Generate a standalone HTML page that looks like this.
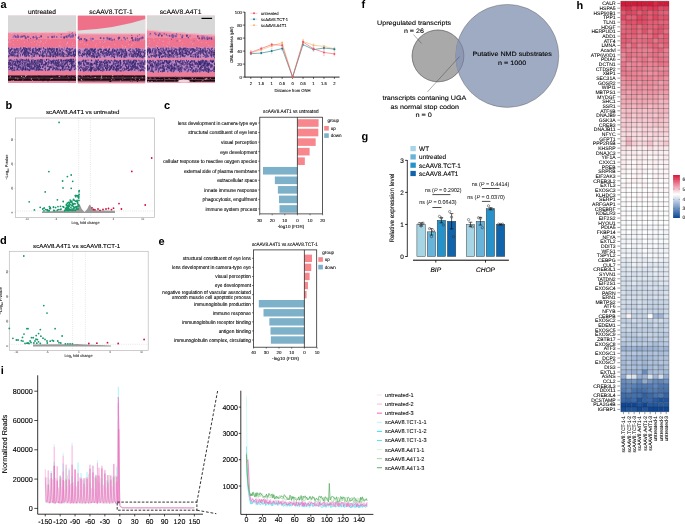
<!DOCTYPE html>
<html><head><meta charset="utf-8"><style>
html,body{margin:0;padding:0;background:#fff;}
svg{display:block;font-family:"Liberation Sans", sans-serif;text-rendering:geometricPrecision;}
</style></head><body><div style="will-change:transform;width:685px;height:524px">
<svg width="685" height="524" viewBox="0 0 685 524">
<rect width="685" height="524" fill="#fff"/>
<text x="0.6" y="7.9" font-size="11" font-weight="bold">a</text>
<text x="42" y="13.8" font-size="6.6" text-anchor="middle" textLength="28" lengthAdjust="spacingAndGlyphs" stroke="#000" stroke-width="0.11">untreated</text>
<text x="111" y="13.8" font-size="6.6" text-anchor="middle" textLength="43.4" lengthAdjust="spacingAndGlyphs" stroke="#000" stroke-width="0.11">scAAV8.TCT-1</text>
<text x="180.6" y="13.8" font-size="6.6" text-anchor="middle" textLength="41.8" lengthAdjust="spacingAndGlyphs" stroke="#000" stroke-width="0.11">scAAV8.A4T1</text>
<g>
<clipPath id="hc1"><rect x="8" y="15.4" width="68.2" height="67.5"/></clipPath>
<g clip-path="url(#hc1)">
<rect x="8" y="15.4" width="68.2" height="67.5" fill="#f08aa2"/>
<rect x="8" y="39" width="68.2" height="8.4" fill="#ee7490"/>
<polygon points="8,15.4 8,32.01 11.41,32.5 14.82,31.96 18.23,32.26 21.64,32.36 25.05,31.91 28.46,32.46 31.87,32.11 35.28,32.07 38.69,32.48 42.1,31.92 45.51,32.33 48.92,32.29 52.33,31.94 55.74,32.49 59.15,32.04 62.56,32 65.97,32.11 69.38,31.37 72.79,31.67 76.2,31.31 76.2,15.4" fill="#d7d7d7"/>
<polyline points="8,32.51 11.41,33 14.82,32.46 18.23,32.76 21.64,32.86 25.05,32.41 28.46,32.96 31.87,32.61 35.28,32.57 38.69,32.98 42.1,32.42 45.51,32.83 48.92,32.79 52.33,32.44 55.74,32.99 59.15,32.54 62.56,32.5 65.97,32.61 69.38,31.87 72.79,32.17 76.2,31.81" fill="none" stroke="#f6c6d2" stroke-width="0.8"/>
<rect x="8" y="47.4" width="68.2" height="10" fill="#c68cc4"/>
<rect x="8" y="57.4" width="68.2" height="1.4" fill="#ec86a6"/>
<rect x="8" y="58.8" width="68.2" height="12.2" fill="#c088c2"/>
<rect x="8" y="71" width="68.2" height="4.3" fill="#ef7c96"/>
<rect x="8" y="75.3" width="68.2" height="5.7" fill="#4a2438"/>
<rect x="8" y="76.3" width="68.2" height="1.4" fill="#160a0e"/>
<rect x="8" y="77.7" width="68.2" height="0.9" fill="#6a4a58"/>
<rect x="8" y="78.6" width="68.2" height="1.6" fill="#1a0c10"/>
<rect x="8" y="81" width="68.2" height="1.9" fill="#e58aa0"/>
<path d="M17.16 54.99v0.41M57.5 52.24v0.8M31.58 53.52v1.13M42.46 52.77v0.52M28.08 53.74v0.4M34.6 52.04v0.85M75.39 51.32v0.45M24.46 54.1v1.12M74.14 56.04v0.49M32.58 54.75v0.38M9.39 49.8v0.8M17.66 55.53v1.04M46.84 54.22v0.91M75.81 52.21v0.87M34.08 54.6v0.45M55.71 56.02v1.19M57.19 49.04v1.06M28.83 48.61v0.74M57.37 55.33v0.9M11.15 54.56v1.1M12.15 54.93v1M29.33 48.79v0.9M47.65 52.17v0.97M36.93 53.39v0.68M71.1 54.98v0.72M34.49 54.61v0.43M48.21 50.17v1.15M70.33 49.55v0.94M15.04 49.04v0.88M11.47 49.58v0.34M28.86 51.93v0.84M40.43 51.3v1.11M19.95 49.55v0.79M53.23 55.76v0.66M11.92 54.12v0.91M28.39 53.77v1.02M74 54.31v0.54M51.72 49.72v0.95M71.13 53.16v0.33M59.65 54.42v0.51M51.7 50.3v1.13M74.39 55.67v1.01M37.06 49.8v1.12M49.26 48.68v1.1M51.99 49.18v0.37" stroke="#32266c" stroke-width="0.8" stroke-linecap="round"/>
<path d="M59.9 51.76v0.38M14.97 50.43v0.88M43.37 52.53v0.73M49.77 51.64v0.87M74.53 49.64v0.33M10.55 49.42v0.82M69.15 52.79v1.14M49.19 55.91v0.82M60.53 50.46v0.64M15.85 55.31v0.52M38.68 50.39v1.12M24.26 51.96v0.94M52.99 53.72v1.17M30.2 48.79v0.41M24.93 54.15v0.78M63.28 55.47v0.81M27.34 52.4v0.71M25.59 51.97v1.19M64.21 53.26v0.65M59.3 49.86v0.35M21.87 51.38v0.87M69.07 54.27v0.96M43.47 47.77v0.59M23 49.42v0.68M31.99 56.2v1.16M40.72 54.52v0.91M28.45 55.48v0.76M68.31 51.33v1.04M44.12 50.81v1.13M62.23 54.86v1.18M46.32 55.29v1M70.24 52.32v0.79M46.19 53.22v1.18M56.53 48.41v1.01M73.24 53.11v1.07M58.88 54.98v1.16M66.23 55.77v0.82M63.52 54.57v1.19M42.53 53.91v1M25.28 52.45v0.99M74.36 54.67v0.67M27.92 48.12v0.3M12.21 53.99v0.35M24.27 52.48v0.6M18.5 50.74v1.06M53.41 50.64v1.15" stroke="#32266c" stroke-width="0.7" stroke-linecap="round"/>
<path d="M9.93 54.89v0.99M75.69 55.1v0.6M57.21 53.82v1.05M45.56 49.25v1.02M23.22 53.28v0.82M29.91 53.13v0.57M25.21 47.77v1.04M26.18 48.53v0.61M68.18 53.61v0.51M48.06 55.67v0.8M66.8 49.83v1.17M9.66 53.26v0.32M52.09 48.11v0.88M39.7 48.43v1.16M48.97 51.21v0.57M57.86 52.61v1.13M39.48 54.88v0.94M75.35 53.74v0.9M56.2 54.96v0.66M14.82 49.31v0.32M59.32 53.58v0.78M37.5 49.33v0.42M25.75 50.97v0.57M37.47 52.78v1.03M75.78 50.13v1.15M38.86 48.83v0.43M20.78 47.73v1.16M42.63 55.48v1.07M68.37 53.8v0.86M35.81 53.12v1.05M55.34 52.3v0.59M51.15 52.42v0.76M39.51 48.55v0.93M8.04 48.06v0.43M10.77 53.75v0.61M52.85 56.26v0.69M69 54.21v0.32M33.65 48.64v0.37M26.27 50.73v1.15M49.52 48.02v0.52M61.91 54.19v0.56M13.77 54.73v0.48M32.79 51.89v0.86M53.32 55.89v0.82M17.88 55.12v0.4M10.38 50.62v0.31M70.91 55.16v0.65M32.85 50.42v0.32M56.52 48.99v0.86M44.96 51.42v0.76" stroke="#32266c" stroke-width="1" stroke-linecap="round"/>
<path d="M8.14 51.53v0.83M8.63 55.28v1.17M36.38 55.58v0.47M49.93 52.67v0.45M63.68 49.9v0.37M29.17 55.78v0.67M64.45 47.81v0.38M12.84 48.35v0.56M62.22 48.36v0.46M59.24 49.77v0.95M12.97 55.02v0.76M27.2 53.37v1.11M15.22 51.02v0.45M14 52.33v0.81M64.07 49.59v0.55M33.37 53.89v0.38M10.07 50.35v0.44M8.56 55.89v0.64M52.66 54.6v1.13M62.18 55.75v0.93M61.16 48.72v0.65M16.29 55.49v1.04M61.59 48.42v1.11M16.18 56.21v0.42M14.67 54.54v0.36M43.96 55.19v0.95M13.62 49.74v0.38M60.9 65.11v1.18M46.19 63.4v0.58M33.95 64.27v1M50.5 66.51v0.7M20.08 67.35v0.78M51.47 62.24v0.93M57.72 63.33v0.83M53.23 64.54v0.84M14.58 59.5v0.34M44.15 59.86v1.16M16.57 64.52v0.63M41.67 63.53v1.11M19.82 67.04v0.97M46.2 63.94v0.69M16.18 69.4v0.94M36.92 61.35v0.52M48.41 62.68v1.08M53.17 62.94v0.67M45.09 61.46v0.45" stroke="#6a4c9a" stroke-width="0.7" stroke-linecap="round"/>
<path d="M53.71 50.31v1.06M62.38 51.26v0.79M42.67 54.39v0.63M32.87 52.47v0.74M29.28 50.65v0.4M63.32 52.54v0.69M75.6 48.97v0.4M32.27 49.28v0.48M47.17 50.61v1.17M10.8 49.31v0.52M63.12 52.42v1.07M75.06 50.08v0.45M33.14 52.1v0.57M63.15 56.07v0.74M66.36 54.31v0.48M17.32 52v0.69M56.97 50.71v0.61M39.51 49.93v0.76M26.47 48.55v0.36M28.76 52.24v0.54M42.89 54.04v0.89M23.83 52.52v1.01M67.11 50.53v1.17M71.29 55.72v0.47M50.69 49.12v0.82M65.83 50.17v0.44M67.76 52.37v0.53M70.22 52.11v0.39M31.1 54.44v0.39M54.08 52.38v0.95M58.93 54.32v0.37M25.57 54.09v1.08M55.07 53.25v0.86M25.08 50.03v0.73M70.3 48.92v1.06M69.2 51v0.94M60.55 53.17v0.8M55.66 53.71v1.04M32.55 49v1.06M39.9 48.98v0.5M38.96 48.09v1.04M48.6 49.33v0.77M12.42 55.15v0.38M62.23 52.83v0.36M69.12 48.42v0.6M70.68 52.38v0.62M72.95 51.26v0.8M55.88 53.11v0.47M38.21 49.79v0.59M50.49 55.92v0.85M69.74 54.3v0.45M55.11 55.95v0.51M25.14 49.71v1.1M59.93 49.58v1.12M72.97 54.68v0.94M17.22 48.39v0.51M54.68 48.3v0.78M24.66 54.34v0.93M20.47 55.13v1.02" stroke="#3c2e78" stroke-width="0.8" stroke-linecap="round"/>
<path d="M55.95 53.5v0.7M9.14 47.83v0.54M62.38 49.29v0.45M74.01 55.23v1.07M33.1 50.63v1.08M71.09 51.64v1.01M43.08 55.61v1.1M38.92 51.1v0.53M54.19 54.22v0.41M13.42 53.31v0.33M26.41 49.85v0.57M21.64 51.05v0.67M43.72 52.65v0.93M33.87 48.75v0.4M30.43 47.77v0.62M35.5 48.59v0.89M65.85 50.58v0.44M50.41 48.61v0.4M16.21 51.9v0.43M24.45 50.98v0.9M17.81 51.93v0.76M11.97 54.83v1.03M40.87 52.98v0.87M28.41 53.88v0.94M53.19 51.39v0.87M51.91 49.39v0.82" stroke="#463684" stroke-width="0.7" stroke-linecap="round"/>
<path d="M57.97 51.74v1.06M45.4 51.18v0.62M33.8 56.04v0.53M8.72 56.15v0.84M34.08 52.49v0.84M24.89 56.02v0.32M30.49 50v0.87M16.62 48.26v0.78M27.07 51.61v1.17M14.77 52.39v0.4M42.95 56.25v0.88M60.69 56.08v0.31M64.94 54.07v0.55M50.67 55.11v0.95M42.65 50.76v1.12M14.8 50.59v0.52M67.45 47.85v0.97M59.17 48v0.37M26.3 54.75v0.99M38.29 53.72v1.19M67.44 55.57v0.97M75.66 51.46v0.74M22.41 49.42v0.8M73.64 52.07v0.86" stroke="#463684" stroke-width="1" stroke-linecap="round"/>
<path d="M23.48 47.81v1.13M70.05 53.37v0.31M32.33 50.68v0.86M69.37 52.09v0.69M73.46 51.53v0.68M73.62 52.6v0.86M22.52 54.23v1.06M50.13 56.13v0.72M50.52 53.48v1.19M14.09 51.88v0.59M28.43 52.45v0.93M26.25 55.55v1.06M74.18 50.59v1.18M12.57 51.51v0.94M13.11 54.84v0.63M27.05 54.73v0.7M52.51 51.56v1.06M39.68 56.13v0.45M25.85 53.14v0.37M50 52.09v0.68M71.21 52.15v0.82M51.22 54.67v0.6M24.48 49.21v1.09M40.76 48.72v0.53M54.7 49.65v0.81M62.8 53.21v1.13M26.49 48.48v0.95M15.74 52.11v0.86M25.01 51.34v0.46M53.18 48.35v1.16M36.34 52.82v1.04M56.84 49.76v0.71M48.31 48.81v0.37M51.2 49.81v0.76M34.18 55.64v0.82M57.45 53.87v0.64M35.28 52.1v0.57M11.21 52.1v0.37M32.64 51.62v0.62M31.11 53.26v0.76M41.71 54.94v0.89M72.1 55.05v0.96M61.67 55.19v0.37M73.63 53.72v0.97M23.8 48.06v0.5M54.88 51.52v0.43M15.84 49.6v0.88M11.7 52.83v0.45M35.74 47.84v0.88M75.19 53.94v0.62M10.23 50.03v1.17M42.83 55.45v1.11" stroke="#3c2e78" stroke-width="1" stroke-linecap="round"/>
<path d="M61.45 54.76v1.03M64.76 56.1v0.76M68.91 55.62v0.96M30.98 52.96v0.55M8.9 50.25v1.18M26.04 53.79v0.57M19.02 48.5v0.55M45.3 52.33v0.68M53.17 53.84v0.95M20.59 51.24v0.35M52.44 55.66v0.91M41.14 47.77v0.61M45.11 52.38v0.92M17.9 50.24v0.84M20.48 54.29v1.02M9.28 51.11v0.96M16.13 49.44v0.4M74.23 61.72v0.52M35.12 63.27v1.05M41.22 63.91v0.57M30.2 68.51v1.18M11.73 64.65v0.69M29.98 65.79v0.82M56.21 69.28v0.69M20.03 64.26v0.6M12.65 64.16v0.72M54.62 68.33v0.39M32.24 62.11v0.72M61.43 69.01v0.5M66.52 59.41v0.9M56.54 67.79v1.16M23.36 62.38v0.43M15.61 61.04v0.71M14.07 63.82v0.76M27.49 64.12v0.82M56.24 63.78v0.82M30.34 68.11v0.5" stroke="#6a4c9a" stroke-width="1" stroke-linecap="round"/>
<path d="M25.41 55.89v0.88M40.53 48.56v0.34M47.95 49.86v1.01M21.46 52.23v0.82M17.45 48.89v0.62M58.92 50.81v0.66M62.28 50.9v0.99M13.95 51.05v0.56M61.23 53.05v0.6M72.04 48.66v1.03M38.22 49.69v1.17M25.87 69.81v0.32M58.88 63.29v0.55M43.69 64.26v0.69M12.59 65.49v0.39M35.13 69.54v1.19M61.54 62.16v0.95M60.36 59.47v1.16M66.39 60.95v1.09M27.76 69.72v0.6M11.24 68.54v0.34M53.05 60.26v1.09M63.49 69.51v0.9M27.48 62.85v1.08M29.72 63.23v0.56M37.42 68.87v0.83M31.4 65.46v1.15M51.13 63.01v0.75M17.08 65.79v0.59M15.18 64.56v1.15M14.34 60.43v1.05M29.8 66.31v0.71M12.35 64.03v0.94M37.19 59.78v0.78M24.29 64.79v0.8M10.89 59.77v0.33M53.4 63.15v0.5M53.69 60.39v0.65M27.21 66.34v0.8M62.84 65.77v1.01M33.31 61.3v0.42M11.05 60.24v0.67M55.78 61.8v0.68" stroke="#6a4c9a" stroke-width="0.8" stroke-linecap="round"/>
<path d="M35.44 50.12v1.07M57.48 48.43v1.12M14.88 52.96v0.52M62.03 51.94v0.75M22.01 50.27v0.34M55.17 52.69v0.42M56.91 50.69v0.79M47.49 47.96v1.05M22.09 50.15v0.55M68.13 54.83v1.19M60.34 54.71v0.61M26.73 52.97v0.5M23.91 51.57v0.51M24.74 52.76v0.61M49.29 52.52v1.11M36.97 49.81v0.6M57.57 54.45v0.71M63.63 55.66v0.42M18.12 53.61v1.12M55.47 53.22v1.04M14.23 48.81v0.96M26.44 49.82v0.53M69.29 48.93v0.61M24.24 52.94v0.61M27.68 49.04v1.15M19.98 52.73v0.68M55.1 53.32v0.52M12.81 52.68v0.79M75.3 50.77v0.57M53.8 55.62v1.07M14.67 54.85v0.8M44.74 55.65v0.37M21.44 50.79v0.61M11.53 48.08v1.1M43.45 47.9v0.33M17.97 52.69v0.66M29.51 55.66v0.33M36.47 49.11v0.94M69.6 49.7v1.18M72.41 48.33v0.47M56.64 50.96v0.95M11.98 48.47v0.9M16.68 49.14v1.08M8.47 48.54v0.63M68.72 48.91v0.58M26.89 49.67v1M9.45 51.88v1.01" stroke="#3c2e78" stroke-width="0.7" stroke-linecap="round"/>
<path d="M46.6 55.89v0.81M18.2 48.92v0.4M46.96 49.22v0.5M56.66 54.71v0.85M71.63 48.97v0.77M66.63 48.2v0.96M36.48 50.44v0.97M63.52 56.28v0.48M18.11 56.26v1.07M27.59 51.32v0.6M42.74 55.83v0.73M14.26 56.29v0.52M48.82 51.33v0.67M33.66 50.23v1.02M54.16 54.09v0.89M24.31 47.8v0.55M17.73 49.89v0.55M50.43 48.59v0.53M49.41 54.5v0.65M44.12 48.57v1.14M67.12 51.32v1.07M35.04 52.34v0.31M28.9 47.83v0.83M60.17 50.5v0.99M44.3 55.62v0.67M22.33 49.82v0.81" stroke="#463684" stroke-width="0.8" stroke-linecap="round"/>
<path d="M65.15 66.34v0.58M28.09 65.94v0.69M55.49 61.18v1.05M42.75 69.77v0.58M57.24 60.15v0.7M35.92 62.68v0.66M18.62 66.65v0.71M56.47 62.27v1.03M31.77 59.8v0.78M62.32 69.69v0.72M34.84 65.6v1.12M48.3 59.14v0.38M42.23 60.59v0.7M42.23 59.33v0.39M27.26 64.23v0.47M68.79 66.71v0.73M24.97 64.41v0.75M62.78 63.53v0.91M57.69 65.14v1.05M29.63 61.46v1.09M67.7 64.44v0.86M52.84 61.94v0.54M60.51 65.45v0.44M51.76 62.94v0.6M20.01 59.19v0.55M34.48 60.45v1.05M71.01 68.19v0.72M61.36 59.55v1.03M36.3 67.9v1.06M63.12 62.32v0.3M60.67 60.62v0.76M31.61 62.15v0.84M28.04 63.4v0.66M41.75 60.92v0.38M15.6 62.21v0.6M72.39 64.69v1.02M70.57 63.37v0.44M51.32 63.16v0.95M70.9 60.84v1M33 59.51v1.17M59 68.74v1.07M70.19 61.39v1.16M25.04 68.93v1.19M36.19 62.02v0.65M37.73 61.95v1.18M45.53 69.81v0.85M23.68 68.27v1.01M26.97 64.6v1.06M69.95 69.15v0.43M42.74 66.61v0.96M27.41 68.47v1.15M53.16 66.46v0.77M43.69 65.98v1.05M34.83 66.34v0.3M10.05 59.91v0.79M76.18 68.87v0.67M9.62 60.7v0.53M51.43 62.02v0.57M58.99 66.84v0.34M72.18 66.86v0.57M13.6 60.95v0.97M35.34 62.9v1.16M15.33 64.85v1.07M74.83 65.83v1.02" stroke="#30246a" stroke-width="0.7" stroke-linecap="round"/>
<path d="M40.76 59.49v0.75M25.21 62.41v1.16M45.28 68.29v0.48M17.18 69.15v0.81M74.14 60.97v0.31M23.96 68.57v0.89M72.58 65.48v0.56M29.89 65.79v0.68M18.95 69.56v0.83M8.34 66.63v1.04M20.92 67.71v0.6M40.93 62.13v0.88M71.59 63.24v1.17M37.79 60.71v0.42M27.66 64.2v0.36M50.83 66.34v1.12M12.31 60.7v0.53M26.06 69.18v0.85M61.82 61.58v0.36M55.03 63.21v0.71M67.25 63.7v0.65M36.8 64.59v1M9.67 66.24v0.71M59.17 62.17v0.93M28.58 59.15v1.09M40.76 59.67v0.31M12.33 62.75v0.76M60.12 69.3v0.76M9.89 64.51v0.53M28.02 59.97v0.66M18.44 61.04v0.34M33.75 63.4v0.7M40.98 61.47v0.35M59.1 66.08v0.62M61.2 64.85v0.52M48.69 62.75v0.37M71.72 65.12v0.46M73.11 63.34v0.96M37.15 65.84v0.35M64.78 60.18v0.66M43.07 64.24v0.77M53.71 68.06v0.87M52.01 65.67v0.53M41.79 63.76v0.98M76.09 68.38v0.46M23.27 66.39v0.9M76.07 59.67v1.08M65.08 64.42v0.48M71.61 59.29v0.63M73.49 59.18v0.58M29.1 60.54v1.01M58.28 62.84v0.6M29.15 69.85v0.87M17.4 61.86v0.83M66.86 62.41v0.57M63.55 60.3v0.88M68.72 69.1v0.63M42.37 66.52v0.73M53.71 61.24v0.85M17.58 61.45v0.86M48.43 66.44v0.44M12.19 69.89v0.91M14.85 67.35v0.88M14.67 69.51v1.17M8.52 62.27v0.63M37.46 67.06v1.04M71.48 67.29v1.05M62.46 66.66v0.96M18.53 65.21v0.71M59.92 64.28v0.59M23.02 64.62v0.47M25.25 66.93v0.52M41.81 69.61v0.63M50.88 60.72v0.85M17.06 67.31v0.87M71.58 63.49v0.63" stroke="#30246a" stroke-width="0.8" stroke-linecap="round"/>
<path d="M31.84 64.37v0.9M58.54 59.52v0.81M42.6 62.44v0.91M31.79 67.27v0.46M23.34 67.86v0.88M23.15 59.81v0.65M70.92 60.07v0.81M17.74 62.99v1.1M24.44 63.35v0.81M42.53 60.5v0.83M65.21 67.63v0.42M57.76 68.93v0.41M62.99 60.37v0.98M32.07 66.55v0.54M38.45 67.89v0.44M37.33 60.13v0.73M29 64.9v1.07M44.85 61.18v0.49M10.35 65.1v0.79M28.43 64.69v0.47M29.25 63.88v0.97M39.01 62.79v0.96M68.45 66.7v0.32M9.7 62.03v1.1M23.63 66.94v1.19M50.71 60.84v0.45M37.95 65.42v1.13M36.03 66.07v0.95M61.13 63.32v1.12M18.86 65.3v1.05M53.2 67.12v0.83M15.76 61.83v1.13M65.29 62.98v0.9M66.69 62.26v1.04M25.74 60.02v0.98M14.25 63.98v1.07M53.33 61.17v1.04M18.41 65.37v0.36M25.75 67.47v1.08M37.97 67.41v0.87M12.45 67.41v1.19M10.44 68.25v1.06M42.5 67.3v0.41M32.95 62.18v0.64M40.39 67.35v0.37M31.86 68.65v0.31M23.17 68.3v0.47M30.39 68.17v0.69M50.33 66.13v0.61M13.03 62.35v0.48M37.72 63.02v0.48M25.35 68.71v1.06M39.97 66.95v0.84M69.14 59.48v0.59M34.17 64.49v0.83M64.45 64.2v0.47M14.86 63.99v1.01M11.55 68.7v1.03M21.88 62.53v0.99M41.46 64.08v0.65M71.66 60.64v0.46M52.62 69.11v0.75M61.62 66.03v0.93M54.28 68.08v0.57M45.3 67.75v0.56M21.74 60.31v0.68M73.59 65.26v1.04" stroke="#3a2c76" stroke-width="0.8" stroke-linecap="round"/>
<path d="M71.65 66.33v0.59M71.24 61.45v0.95M41.7 62.14v0.46M17.74 60.12v0.97M51.34 66.92v0.83M16.86 60.55v1.01M53.05 68.88v0.97M28.17 65.47v1.18M74.58 64.91v1.03M18.44 66.81v1.11M22.85 69.43v0.59M48.36 61.45v0.64M68.57 66.41v0.77M65.12 61.5v0.77M45.61 62.19v0.79M12.59 65.5v1.11M40.55 66.71v0.77M74.38 69.04v0.65M58.08 60.65v0.93M47.75 69.65v0.91M63.41 66.07v0.9M22.76 61.43v0.59M71.62 62.76v1.02M59.42 62.08v0.37M52.98 61.42v1M24.87 62.26v0.43M25.05 60.52v0.31M55.65 62.44v0.49M20.17 60.68v0.64M56.23 65.59v0.33M62.91 62.99v0.64M51.42 62.46v1.16M39.45 68.74v0.86M38.53 66.47v1.19M27.4 65.88v0.55M70.71 69.74v1.04M32.17 63.67v1.13M48.97 62.25v0.33M55.43 62.47v0.62M47.39 65.64v1.02" stroke="#443482" stroke-width="1" stroke-linecap="round"/>
<path d="M61.45 60.07v1.07M20.29 62.64v1.05M45.52 63.91v0.6M75.47 65.15v0.31M40.62 61.46v0.7M49.36 68.91v0.54M21.29 59.19v0.53M38.22 69.27v1.19M57.69 65.83v0.97M20.73 68.36v1.17M50.43 67.29v0.64M28.39 60.82v1.18M72.05 62.35v1M32.28 61.24v0.73M8.85 67.29v0.52M22.88 60.08v0.38M17.7 61.98v1.19M70.86 59.25v0.74M39.74 69.09v0.42M28.95 69.74v0.33M8.57 64.2v0.87" stroke="#443482" stroke-width="0.8" stroke-linecap="round"/>
<path d="M55.71 69v0.94M33.12 62.91v0.88M58.57 64.83v0.94M56.64 64.64v1.1M67.05 68.64v1.07M10.03 62.98v1.09M69.51 69.47v1.06M68.51 66.87v1.12M38.38 69.15v0.94M31.83 68.18v0.88M49.1 60.15v0.94M28.19 65.85v0.6M46.2 63.33v0.33M25.04 65.61v1M35.19 60.59v0.37M67.32 61.19v1.12M45.02 68.54v0.78M40.39 60.99v0.72M46.57 62.61v0.46M29.84 64.01v0.45M19.05 63.75v1M22.56 63.38v0.55M49.66 67.49v0.72M57.12 63.44v0.54M30.1 63.99v1.11M62.82 67.08v1.14M70.07 69.63v1.04M35.15 64.63v0.45M15.82 63.85v1.16M70.97 68.84v0.31M9.14 69.23v0.48M62.85 68.22v0.72M72.82 60.95v0.7M22.38 59.53v0.57M10.74 67.69v0.93M16.81 59.21v0.62M9.3 63.89v0.55M11 64.47v1.12M48.09 64.36v0.76M31.18 61.87v0.48M19.92 66.68v0.64M22.93 68.38v0.32M71.61 66.88v0.69M49.61 66.67v0.53M73.82 66.15v1.05M73.06 60.92v1.18M48.78 69.13v0.88M26.62 59.18v1.05M32.3 68.74v0.39M19.27 61.64v0.78M28.14 69.03v0.85M36.72 69.26v0.91M11.07 67.48v1.11M26.09 64.97v0.32M65.39 60.25v0.31M22.23 67.66v1.16M51.61 61.34v0.52M53.92 62.85v0.44M18.74 66.43v0.86M70.93 59.14v0.63M68.03 65.53v0.88M65.23 68.72v0.62M56.08 67.07v1.06M9.23 60.05v0.84M31.51 60.52v0.93" stroke="#3a2c76" stroke-width="1" stroke-linecap="round"/>
<path d="M38.73 65.51v1.06M39.92 64.61v0.77M54.53 67.89v0.68M38.65 64.86v0.35M42.48 62.55v0.85M47.64 62.48v0.39M67.53 61.36v0.58M57.97 69.76v0.64M25.9 67.66v1.02M35.33 60.32v0.95M13.25 63.98v0.52M67.18 65.9v0.32M53.72 59.74v0.54M58.17 63.16v1.2M36.58 63.37v0.55M55.35 62.4v0.73M45.57 65.23v0.95M22.91 60.92v0.45M22.19 65.68v1.05M62.4 64.77v0.95M70.3 69.31v1.12M68.7 61.55v0.44M64.78 64.19v0.98M63.56 66.22v1.19M33.38 67.55v1.14M15.79 62.36v0.9" stroke="#443482" stroke-width="0.7" stroke-linecap="round"/>
<path d="M17.43 60.93v1.02M20.41 63.95v0.83M19.33 64.89v0.35M75.89 63.25v0.65M14.36 63.5v0.78M72.26 61.35v1.17M55.89 62.53v0.62M70.94 61.21v0.52M11.7 67.9v0.34M66.27 62.11v0.93M32.21 68.64v0.92M67.59 59.57v0.86M21.68 64.86v0.38M17.19 65.34v1.07M36.27 69.26v1.19M57.94 69.14v0.72M69.46 60v0.61M61.53 60.69v0.38M34.33 66.72v0.7M64.47 64.05v0.71M72.75 59.2v0.31M57.66 65.51v1.02M43.52 64.86v0.38M33.07 67.92v1.06M46.62 63.17v0.46M49.94 62.72v0.69M15.19 63.37v0.95M35.7 60.43v0.31M17.61 61.51v0.51M28.14 64.66v0.51M58.94 65.22v0.5M75.24 67.23v1.17M37.64 66.79v0.33M63.69 65.03v0.91M8.29 63.59v0.35M33.37 68.08v1.14M36.51 67.37v1.11M44.9 64.39v1.02M24.56 59.89v1.11M28.82 63.63v0.77M57.92 62.67v0.85M71.58 68.77v0.6M20.62 66.73v0.61M11.87 60.78v1.02M53.96 63.4v0.38M26.3 62.17v0.97M69.82 66.8v1.08M69.54 64.02v0.59M38.85 59.57v0.86M33.7 67.81v1.13M17.5 68.03v0.57M22.28 69.69v0.77M9.15 62.4v0.67M58.73 64.71v1.18M54.42 64.48v0.78M55.53 64.28v1.12" stroke="#3a2c76" stroke-width="0.7" stroke-linecap="round"/>
<path d="M20.26 60.76v0.41M29.73 69.84v0.8M39.55 64.33v1.12M19.88 61.64v0.74M41.25 59.77v0.57M68.52 60.09v0.61M66.99 60.52v0.39M45.76 63.66v0.66M10.89 59.89v0.58M12.68 67.99v0.72M17.35 68.97v0.79M27.02 61.04v0.65M69.5 61.35v0.35M62.62 68.16v0.83M65.72 60.21v0.38M70.76 59.72v0.48M73.38 61.14v1.06M46.52 59.36v0.97M29.33 66.51v0.94M56.38 60.12v0.44M51.84 61.59v0.63M57.85 61.34v1.14M25.66 68.62v1.05M22.03 69.15v0.97M14.07 67.7v0.46M46.65 59.35v0.32M10.75 62.74v0.91M34.71 68.7v0.44M30.99 63.05v0.64M65.27 63.17v0.48M41.02 69.47v0.48M52.78 60.7v0.44M16.6 65.46v0.69M39.6 66.26v0.64M18.66 61.27v0.55M14.01 61.55v0.49M34.54 61.67v0.86M31.09 66.62v0.82M60.49 69.81v0.58M62.14 66.13v0.37M57.18 67.94v1.12M54.95 60.36v0.55M13.4 69.79v0.52M66.56 66.52v0.37M39.1 61.46v0.87M71.98 62.9v0.95M36.99 64.78v0.94M44.78 64.11v0.76M39.2 60.59v0.79M34.89 66v1.16M49.01 68.73v1.04M70.89 60.51v1.06M64.61 69.56v0.34M39.86 68.99v1.16" stroke="#30246a" stroke-width="1" stroke-linecap="round"/>
<path d="M73.11 35.09v0.5M24.04 35.75v0.5M36.84 37.91v0.5M15.74 36.39v0.5" stroke="#6a4a98" stroke-width="1.7" stroke-linecap="round"/>
<path d="M61.2 36.63v0.5M13.46 36.75v0.5" stroke="#b070b8" stroke-width="2" stroke-linecap="round"/>
<path d="M75.9 34.83v0.5M17.8 36.8v0.5M70.67 36.7v0.5M72.16 35.43v0.5M68.28 35.77v0.5" stroke="#8a5aa8" stroke-width="2" stroke-linecap="round"/>
<path d="M35.96 35.91v0.5" stroke="#b070b8" stroke-width="1.4" stroke-linecap="round"/>
<path d="M66.35 36.28v0.5M41.14 36.07v0.5M22.05 36.27v0.5M25.6 37.47v0.5" stroke="#5a3a8a" stroke-width="1.7" stroke-linecap="round"/>
<path d="M25.26 36.3v0.5M72.72 35.5v0.5M48.08 37v0.5M67.05 37.21v0.5M56.75 36.77v0.5" stroke="#7a5aa0" stroke-width="1.4" stroke-linecap="round"/>
<path d="M18.53 36.6v0.5M27.73 36.49v0.5" stroke="#6a4a98" stroke-width="1.4" stroke-linecap="round"/>
<path d="M20.92 36.5v0.5M69.36 35.14v0.5M54.18 36.47v0.5M69.79 34.53v0.5" stroke="#7a5aa0" stroke-width="1.7" stroke-linecap="round"/>
<path d="M28.48 36.59v0.5M17.85 35.33v0.5" stroke="#8a5aa8" stroke-width="1.7" stroke-linecap="round"/>
<path d="M64.19 37.15v0.5" stroke="#5a3a8a" stroke-width="2" stroke-linecap="round"/>
<path d="M33.36 37.04v0.5M52.16 36.74v0.5" stroke="#6a4a98" stroke-width="2" stroke-linecap="round"/>
<path d="M72.66 36.23v0.5" stroke="#7a5aa0" stroke-width="2" stroke-linecap="round"/>
<path d="M14.35 35.4v0.5" stroke="#8a5aa8" stroke-width="1.4" stroke-linecap="round"/>
<path d="M36.9 39.26v0.2M72.59 32.68v0.2M35.14 37.4v0.2M39.18 37.25v0.2M30.65 38.37v0.2M26.06 38.3v0.2M61.22 34.19v0.2" stroke="#7a4aa0" stroke-width="1.1" stroke-linecap="round"/>
<path d="M71.77 33.34v0.2M16.48 37.61v0.2M36.42 36.46v0.2M66.59 39.76v0.2M28.47 39.69v0.2" stroke="#9a5aa8" stroke-width="1.1" stroke-linecap="round"/>
<path d="M8.31 41.75v0M10.81 42.54v0M50.22 39.15v0M45.47 42.37v0M67.5 42.32v0M9.88 41.02v0M67.67 43.08v0M34.63 41.64v0M27.67 40.17v0M46.61 40.18v0M17.64 40.22v0M24.16 46.51v0M21.53 39.26v0M72.78 43.11v0M74.15 45.62v0M40.03 42.6v0M8.03 42.53v0M24.27 42.18v0M66.53 44.2v0M72.27 45.46v0M66.19 39.91v0M43 45.91v0M60.99 45.88v0M37.22 40.09v0M43.54 43.77v0M59.99 42.09v0M69.21 46.36v0M59.04 45.26v0M75.5 39.77v0M31.86 42.71v0M36.77 44.68v0M37.95 42.16v0M9.92 39.4v0M41.28 41.71v0M23.76 39.16v0M13.26 40.51v0M40.4 40.94v0M39.35 45.23v0M13.15 44.28v0M59.6 46.6v0" stroke="#f4a8bc" stroke-width="0.9" stroke-linecap="round"/>
<path d="M75.8 76.37v0M21.53 76.33v0M11.95 80.86v0M26.08 75.4v0M10.36 76.79v0M51.07 78.52v0M25.56 76.19v0M23.24 77.08v0M17.87 78.78v0M15.78 78.02v0" stroke="#d8a8b8" stroke-width="1.2" stroke-linecap="round"/>
<path d="M52.24 78.4v0M32.55 80.51v0M59.45 76.44v0" stroke="#c07090" stroke-width="1.2" stroke-linecap="round"/>
<path d="M64.08 75.36v0M58.83 76.33v0M24.59 77.88v0M38.98 79.06v0M31.58 79.64v0" stroke="#c07090" stroke-width="0.9" stroke-linecap="round"/>
<path d="M72.49 77.53v0M72.93 75.6v0M43.64 75.76v0M71.1 76.76v0M9.65 77.47v0M69.57 80.51v0" stroke="#6a3a80" stroke-width="1.2" stroke-linecap="round"/>
<path d="M69.23 80.73v0M39 76.02v0M43.05 80.66v0M71.84 76.16v0M40.89 79.42v0M23.92 76.64v0M70.98 78.47v0M66.59 75.97v0M48 80.87v0M51.04 76.46v0M44.04 78.29v0" stroke="#1a0a10" stroke-width="1.2" stroke-linecap="round"/>
<path d="M23.73 79.8v0M56.24 78.6v0M37.59 77.47v0M30.18 78.93v0M22.39 79.75v0M60.62 77.11v0" stroke="#6a3a80" stroke-width="0.9" stroke-linecap="round"/>
<path d="M75.59 77.22v0M27.41 78.28v0M56.99 75.81v0M71.14 77.59v0M57.93 75.83v0M65.01 79.36v0" stroke="#1a0a10" stroke-width="0.9" stroke-linecap="round"/>
<path d="M67.69 76.37v0M59.08 78.74v0M42.23 75.62v0M22.44 80.69v0M50.62 79.44v0" stroke="#8a4a6a" stroke-width="0.9" stroke-linecap="round"/>
<path d="M68.58 77.78v0M31.04 75.81v0M63.2 76.01v0M17.15 78.14v0M68.14 75.47v0M75.7 76.08v0" stroke="#8a4a6a" stroke-width="1.2" stroke-linecap="round"/>
<path d="M31.65 78.65v0M13.57 80.65v0" stroke="#d8a8b8" stroke-width="0.9" stroke-linecap="round"/>
</g></g>
<g>
<clipPath id="hc2"><rect x="77.6" y="15.4" width="67.8" height="68"/></clipPath>
<g clip-path="url(#hc2)">
<rect x="77.6" y="15.4" width="67.8" height="68" fill="#f08aa2"/>
<rect x="77.6" y="40" width="67.8" height="8.3" fill="#ee7490"/>
<polygon points="77.6,15.4 77.6,33.4 80.99,33.4 84.38,33.4 87.77,33.4 91.16,33.4 94.55,33.4 97.94,33.4 101.33,33.4 104.72,33.4 108.11,33.4 111.5,33.4 114.89,33.4 118.28,33.4 121.67,33.4 125.06,33.4 128.45,33.4 131.84,33.4 135.23,33.4 138.62,33.4 142.01,33.4 145.4,33.4 145.4,15.4" fill="#dedede"/>
<polyline points="77.6,33.9 80.99,33.9 84.38,33.9 87.77,33.9 91.16,33.9 94.55,33.9 97.94,33.9 101.33,33.9 104.72,33.9 108.11,33.9 111.5,33.9 114.89,33.9 118.28,33.9 121.67,33.9 125.06,33.9 128.45,33.9 131.84,33.9 135.23,33.9 138.62,33.9 142.01,33.9 145.4,33.9" fill="none" stroke="#f6c6d2" stroke-width="0.8"/>
<path d="M77.6 15.4 L145.4 15.4 L145.4 19 Q116.5 28.5 77.6 30.6 Z" fill="#ee7189"/>
<rect x="77.6" y="48.3" width="67.8" height="9.7" fill="#c68cc4"/>
<rect x="77.6" y="58" width="67.8" height="1.5" fill="#ec86a6"/>
<rect x="77.6" y="59.5" width="67.8" height="12.1" fill="#c088c2"/>
<rect x="77.6" y="71.6" width="67.8" height="3.6" fill="#ef7c96"/>
<rect x="77.6" y="75.2" width="67.8" height="6.4" fill="#4a2438"/>
<rect x="77.6" y="76.2" width="67.8" height="1.4" fill="#160a0e"/>
<rect x="77.6" y="77.6" width="67.8" height="0.9" fill="#6a4a58"/>
<rect x="77.6" y="78.5" width="67.8" height="1.6" fill="#1a0c10"/>
<rect x="77.6" y="81.6" width="67.8" height="1.8" fill="#e58aa0"/>
<path d="M142.42 56.47v0.38M107.76 50.83v0.63M130.77 51.43v1.2M79.19 49.56v0.34M87.13 49.07v0.45M145.03 50.53v0.53M124.01 50.91v0.33M116.35 51.85v0.98M104.38 49.61v0.37M117.32 55.39v0.62M145.25 49.82v1.02M134.11 54.57v0.75M140.21 51.21v1.17M105.52 52.96v0.71M122.94 50.43v0.68M138.53 50.6v0.8M87 52.77v0.48M136.96 49.76v0.42M97.76 52.18v0.66M86.93 53.14v0.84M80.19 50.23v0.87M89.15 53.62v0.99M92.59 48.81v0.42M98.65 54.08v1.15M145.15 56.24v0.44M94.58 52.27v0.68M118.14 53.78v1.17M80.33 52.37v1.15M104.88 56.23v0.84M82.59 53.12v1.17M106.22 54.32v0.69M89.38 55.15v1.17M129.79 55.96v0.33M133.49 53.78v1.16M92.08 50.95v1.04M103.02 54.01v0.39M91.59 55.57v0.4M83.46 54.25v0.9M108.16 51.12v0.98M137.37 54.82v0.33M125.38 53.53v0.59M91.28 55.48v1.05M136.33 48.66v0.47M103.97 49.65v0.52M123.93 55.77v0.54M120.6 49.02v1.13M137.46 55.1v1.13M100.81 49.25v0.54M107.22 54.08v1.16M100.11 56.59v1.15M91.9 48.98v0.66M133.08 50.03v0.99M97.88 49.77v0.49M125.26 49.56v0.6M130.58 48.76v0.5M100.15 54.38v0.72" stroke="#32266c" stroke-width="0.7" stroke-linecap="round"/>
<path d="M134.25 54.71v0.53M142.61 49.38v1.05M132.66 49.1v0.72M113.28 52.56v1.14M115.86 50.3v0.75M86.64 54.32v0.37M133.49 51.12v0.89M93.41 55.31v0.66M124.38 56.47v0.98M136.54 56.37v0.78M144.27 51.39v0.34M120.07 51.39v1.11M136.05 53.88v1.15M136.88 53.51v0.77M123.33 49.05v0.66M130.65 53.42v0.96M118.9 51.49v1.02M114.9 49.45v0.37M125.41 56.71v0.81M114.74 53.32v0.52M94.26 56.65v0.41M102.17 53.62v0.46M144.65 55.86v0.49M122.13 48.96v0.43M129.53 54.72v0.85M87.19 52.88v0.91M119.04 53.65v0.59M111.33 53.02v1.1M98.76 54.44v1.03M78.61 53.03v0.31M125.61 50.99v0.89M93.71 54.72v0.34M93.9 67.52v0.47M138.94 68.57v0.42M117.27 60.57v0.67M134 66.83v0.49M131.77 64.04v0.5M102.11 64.59v0.59M135.3 66.16v0.36M115.63 63.54v0.65M121.17 63.86v0.4M143.64 65.74v0.96M122.53 64.87v1.07M103.38 67.81v1.15M108.93 62.99v0.51M105.18 60.27v0.7M118.03 68.91v0.59M139.51 60.89v0.45M115.34 68.97v1.16M118.17 65.23v0.98M142.06 61.35v0.4M116.59 70.33v0.91M142 68.42v0.48M123.13 64.58v0.89M125.55 60.41v0.41M128.11 70.12v0.36M85.26 66.66v0.49M86.54 66.6v0.97M104.65 60.37v0.37M128.18 62.63v0.46M96.85 67.78v0.69M139.59 69.57v0.31M126.43 63.56v0.78M128.62 60.53v0.83" stroke="#6a4c9a" stroke-width="0.8" stroke-linecap="round"/>
<path d="M91.99 48.9v1.2M105.31 49.52v0.52M139.39 54.26v0.42M132.94 51.78v0.58M86.68 54.56v1.14M82.84 51.14v0.53M126.25 52.81v0.76M117.48 56.19v0.75M113.84 49.02v0.92M95.87 50.42v1.04M138.37 54.16v0.66M134.82 53.71v1.13M86.5 52.12v0.58M140.65 53.34v1.02M87.08 56.57v0.65M97.44 56.55v0.72M132.18 56.27v0.31M141.88 54.84v0.46M104.23 55.83v0.71M99.55 53.43v0.92M88.93 50.11v0.71M143.55 56.36v0.38M135.25 55.89v0.59M120.17 51.48v0.38M112.41 65.67v0.88M94.72 62.63v1.04M86.15 63.93v1.18M138.01 64.98v0.44M107.25 66.79v0.31M83.27 67.08v1.06M94.54 69.59v0.61M92.81 67.09v0.9M103 64.42v0.37M97.11 68.52v0.87M107.33 61.92v0.99M129.97 62.64v1.12M113.34 62.51v1.07M93.85 68.5v0.83M89.31 62.56v0.86M144.46 62.18v0.34M109.48 68.76v1.19M96.39 62.76v0.71M113.25 63.13v0.92M82.24 69.72v0.58M131.42 62.17v0.57M85.25 68.47v1.04M119.5 65.12v1.01M97.4 67.02v1.09M123.5 63.5v0.36M81.64 65.19v0.6M119.31 62.57v0.31M90.34 69.25v0.75M136.88 63.63v0.48M113.29 69.4v1.12M112.44 66.02v0.73M86.4 62.83v0.52M85.71 65.71v1.13M98.61 68.3v1.14" stroke="#6a4c9a" stroke-width="0.7" stroke-linecap="round"/>
<path d="M120.89 55.27v0.79M89.63 50.51v0.46M139.19 51.62v0.63M104.24 52.87v0.53M98.33 54.61v0.47M97.31 56.56v0.54M112.46 50.01v1.15M109.24 54.57v1.09M110.28 52.86v0.94M99.72 49.43v0.47M96.9 53.89v0.58M106.74 55.06v0.77M139.88 55.42v0.91M117.84 54.81v0.99M107.77 54.87v0.58M112.5 49.44v0.77M126.38 51.53v0.32M125.88 51.63v1.12M94.3 55.64v0.56M105.87 49.64v0.72M88.04 50.5v0.87M141.78 51.17v0.75M132.21 51.05v0.77M93.12 56.04v0.84M78.36 54.02v0.92M139.09 53.69v0.39M118.76 52.58v0.47M85.18 53.28v0.86M137.78 55.09v0.54M133.27 55.97v0.57M89.85 54.07v0.54M112.34 55.74v0.56M99.67 54.95v0.69M122.21 51.75v0.48M130.1 51.42v0.7M89.12 50.09v1.08" stroke="#3c2e78" stroke-width="0.8" stroke-linecap="round"/>
<path d="M140.78 56.13v0.45M145.07 52.3v0.77M135.84 52.3v0.96M118.69 52.08v0.8M140.58 53.43v1.02M102.43 52.91v0.63M119.51 52.5v0.94M113.1 56.13v0.46M110.81 53.68v0.91M113.75 54.15v0.74M109.29 48.62v1.07M104.24 55.58v0.87M98.49 50.53v0.51M96.41 56.55v1.04M84.67 49.99v0.99M114.12 56.77v0.71M128.57 50.36v0.34M114.5 50.15v1.11M91.99 49.95v0.36M92.79 53.02v1.15M121.42 56.42v0.8M83.47 54.16v0.43M101.68 51.42v0.62M89.93 53.69v0.98M86.39 54.7v0.46M141.05 51.6v0.92M134.11 51.3v0.84M136.12 48.61v0.63M132.17 55.9v0.36M87.62 52.62v0.94M116.57 51.27v0.31M140.48 55.96v0.38M134.43 52.76v0.88M88.29 50.41v0.5M88.33 53.96v1.12M126.18 53.11v0.55M94.5 49.48v0.47M97.06 56.13v0.68M91.64 49.07v0.98M137.27 53.43v0.92M101.23 49.3v0.85M126.48 54.24v1.01M100 48.63v0.84M95.35 48.82v0.68M106.55 50.57v0.55M129.15 53.82v0.53M138.51 51.63v1.1M114.47 56.85v0.88M106.15 54.45v0.89M112 51.12v1.15" stroke="#32266c" stroke-width="1" stroke-linecap="round"/>
<path d="M112.19 51.59v0.8M141.37 55.36v0.54M98.51 53.18v0.34M95.5 51.94v0.44M79.24 55.14v0.83M84.1 53.87v1.14M117.69 53.78v0.62M92 56.12v1.03M105.55 49.47v1.04M135.23 53.92v0.39M89.3 50.98v1.19M133.17 54.62v0.47M84 51.94v0.81M104.12 53v0.87M107.19 53.1v0.65M125.12 50.9v0.36M121.94 53.39v1.14M131.89 56.2v0.57M143.01 56.29v0.93M133.06 56.45v0.7M143.19 51.84v0.93M100.96 51.11v0.94M97.42 56.2v0.49M97.74 55.99v0.4M121.88 51.46v1.16M125.14 49.63v0.95M89.62 54.09v0.94M126.88 55.17v1.18M81.06 55.1v0.59M93.85 50.61v0.51M137.02 50.3v1.01M145.1 52.76v0.81M100.72 52.23v0.53M138.18 48.62v0.6M93.81 53.19v0.98M137.28 55.46v0.52M85.63 48.84v0.42M106.38 52.37v0.45M89.37 53.72v0.79M94.56 51.08v1.13M124.2 53.41v0.82M84.13 54.38v0.64M117.54 49.34v0.43M131.62 53.74v0.49M82.41 53.61v0.5M107.96 51.17v0.57M119.28 55.43v1.01" stroke="#3c2e78" stroke-width="1" stroke-linecap="round"/>
<path d="M122 50.67v0.75M120.16 54.81v0.74M103.31 51.63v0.37M120.79 49.2v0.74M94.95 54.61v0.36M119.11 49.98v0.81M120.89 54.75v0.86M91.03 48.92v1.01M111.04 52.06v0.9M121.63 48.91v1.13M95.17 53.2v0.5M136.18 51.81v0.46M90.09 49v1.18M117.13 53.96v0.92M90.75 52.11v1.19M96.11 53.77v0.5M113.54 50.64v0.61M105.62 52.35v0.32" stroke="#463684" stroke-width="0.8" stroke-linecap="round"/>
<path d="M133.98 51.54v0.62M126.82 53.23v0.89M112 53.71v0.96M84.8 53.37v0.83M94.2 50.35v1.11M94.4 56.66v1.14M137.91 53.69v0.32M89.83 52.83v0.66M103.76 50.39v1.03M108.61 49.98v0.71M95.09 56.08v0.38M87.18 51.59v0.47M125.56 54.64v1.15M93.04 49.05v0.86M138.49 54.14v0.57M124.61 55.13v1.17M93.51 50.37v0.9M86.98 53.76v0.41M108.5 51.88v0.49M111.95 54.99v0.52M122.66 53.99v0.75M144.58 55.31v1.12M79.07 51.58v0.33M102.35 51.76v0.46M108.47 51.97v0.51M144.93 53.95v0.31M138.09 49.95v1.03M92.52 55.13v0.81M121.81 54.9v1.15M142.76 56.9v1.18M139 55.25v0.32M145.05 50.24v0.4M81.76 55.01v0.84M117.54 49.43v0.85M136.73 50.93v0.33M105.13 48.86v0.61M98.05 52.64v0.87M93.31 51.27v0.7M117.19 52.46v1.01M82.51 55.6v1.1M90.75 51.56v1.03M89.98 53.35v0.33M79.72 51.5v0.75" stroke="#32266c" stroke-width="0.8" stroke-linecap="round"/>
<path d="M139.39 51.17v0.81M110.75 51.64v1.09M95.19 52.15v1.13M97.69 50.52v0.6M125.77 56.37v0.73M142.82 51.35v0.37M129.6 50.26v0.82M133.43 51.44v0.75M134.92 51.41v1.16M117.69 49.58v1.12M116.27 51.96v1.01M78.24 51.97v1.17M89.8 50.24v1.13M82.46 55.32v0.42M78.09 50.31v1.06M138.55 49.48v0.87M106.72 54.62v0.92M105.27 52.98v0.49M104.29 54.96v0.37M130.81 53.33v0.6M91.87 56.47v0.88M139.5 52.31v0.55M109.15 54.38v0.46M118.11 53.53v0.8M117.38 52.04v0.42M111.8 56.07v0.43M114.7 67.63v0.52M118.67 69.13v0.39M128.5 64.19v1.16M140.81 67.09v0.53M88.72 64.22v0.6M106.5 69.01v0.75M107.67 67.1v0.61M123.67 67.88v0.6M94.82 61.97v1.05M130.89 66.27v0.75M145.32 61.67v1.11M107.31 64.72v0.4M114.88 59.9v1.02M94.21 69.74v0.3M83.13 67.37v0.32M106.48 70v0.67M130.95 60.11v0.45M132.5 65.19v1.12M95.69 59.81v0.85M126.88 68.44v0.76M88.4 66.73v1.01M91.6 60.12v0.74M94.04 69.19v0.4M133.37 65.14v0.68M127.44 63.72v0.61M106.42 68.12v0.75M131.69 70.16v0.57M130.78 64.1v1.19M129.46 64.29v1.1M136.42 60.25v0.58M113.85 64v0.49M83.85 70.31v0.57M128.52 65.96v1.01" stroke="#6a4c9a" stroke-width="1" stroke-linecap="round"/>
<path d="M123.87 56.2v1.07M139.88 51.7v0.96M113.07 48.62v1.01M84.36 50.11v0.5M106.46 48.78v1.09M134.28 51.06v0.74M144.88 54.21v0.55M140.39 49.39v0.6M121.53 53.68v1.07M99.08 55.55v0.83M85.5 49.5v0.85M134.1 49.86v0.64M131.69 55.34v0.73M114.19 54.71v0.84M109.05 51.02v1.04M103.56 53.69v0.82M87.21 51.27v0.85M138.35 52.83v0.34M136.55 56.64v0.66M139.24 49.52v0.52M135.43 53.43v0.77M136.93 53.9v0.5M114.15 53.99v0.49M144.94 50.4v0.71M132.14 53.95v1.03M97.98 53.3v0.38M114.02 51.2v0.51M100.95 51.87v0.97M135.45 55.32v1.17M91.91 49.65v0.76M94.91 48.75v1.14M90.3 48.67v1.11M121.32 49.42v0.88M93.39 53.78v0.72M139.33 56.23v1.11M125.5 48.96v1.04M139.5 50.71v0.75M88.69 52.07v0.87M129.83 49.08v0.92M118.25 53.39v0.81M138.06 55.66v0.47M103.85 51.88v0.4M89.21 50.98v0.89M108.32 52.8v0.51M134.08 56.07v0.83M115.31 50.55v0.99M79.21 52.03v0.99M98.39 48.78v0.62M108.69 49.99v0.98" stroke="#3c2e78" stroke-width="0.7" stroke-linecap="round"/>
<path d="M129.09 49.07v0.52M124.41 56.34v1.09M143.53 54.91v1.12M144.52 53.69v0.98M123.6 51.7v1.02M96.89 54.95v0.68M136.53 53.04v0.31M136.62 50.24v0.59M111.2 56.82v0.32M119.74 48.83v1.18M102.19 55.23v0.43M126.84 52.46v0.75M116.46 50.61v1.11M92.68 51.28v0.64M90.66 55.71v0.46M138.46 53.14v1.2M107.73 54.21v0.95M110.2 52.1v0.89M117.01 48.78v1.18M96.52 56.22v1M132.29 54.99v0.96M82.47 56.01v0.45M144.91 53.65v0.49M95.8 51.72v0.54M124.77 51.96v0.93M144.22 52.95v0.42M140.09 55.56v0.38" stroke="#463684" stroke-width="0.7" stroke-linecap="round"/>
<path d="M112.91 52.45v0.88M143.29 52.12v0.52M93.5 55.86v0.96M123.35 51.38v0.71M141.23 56.88v0.86M86.96 48.8v0.95M78.67 52.07v0.96M109.51 54.51v0.82M107.03 53.86v1.18M109.36 51.9v0.48M129.19 54.84v0.43M133.25 56.05v0.44M115.93 54.02v1M86.03 50.15v1M87.14 56.2v0.59M139.19 49.01v0.95M108.9 52.58v1.12M122.74 49.93v1.03M106.91 53.09v0.43M94.5 51.52v0.85M79.33 52.24v0.69M94.14 55.93v0.44" stroke="#463684" stroke-width="1" stroke-linecap="round"/>
<path d="M141.97 64.68v1.13M115.88 65.39v0.75M101.11 62.51v0.66M109.13 70.12v0.31M112.62 64.88v0.45M136.59 68.36v0.35M102.55 68.94v0.42M107.09 61.85v1.17M97.08 61.71v0.73M137.67 63.23v0.95M120.74 62.63v0.56M118.14 68.44v0.77M117.73 65.65v1.18M118.19 69.93v0.77M102.15 64.48v0.68M102.74 70.38v0.85M86.02 69.68v0.7M135.34 64.69v0.38M78.61 62.9v1.05M132.84 62.12v1.13M85.6 70.15v0.53M105 60.07v0.48M135.39 63.38v0.5M113.87 66.8v0.37M83.6 62.65v1.19M103.74 62.04v0.31M115.17 63.13v0.68M111.6 65.75v0.76M85.59 61.06v0.56M98.61 69.66v0.71M145.1 63.03v1.08M83.9 69.88v1.18M132.75 65.25v0.6M92.28 67.49v0.4M98.46 59.82v0.4M99.51 68.54v0.54M144.85 67.52v0.95M83.62 59.99v0.56M125.02 69.01v0.37M142.17 60.46v0.92M128.14 70.2v0.31M102.07 61.6v0.81M113.68 67.4v0.9M140.53 70.39v0.7M142.33 69.32v0.88M130.22 68.81v0.93M133.29 67.38v0.93M134.47 64.08v0.86M96.21 66.44v0.84M142.05 66.38v0.52M101.63 66.57v0.58M110.08 61.67v1.1M79.77 62.33v0.73M132.33 65.93v0.5M131.87 66.58v0.33M111.69 67.57v0.69M92.22 64.71v0.85M102.24 67.23v0.51M100.64 67.55v0.8M111.01 67.32v0.81M136.35 67.97v0.55M93.72 66.86v0.53M95.59 69.9v0.98M87.17 63.52v1.07M80.58 69.53v0.88" stroke="#30246a" stroke-width="0.8" stroke-linecap="round"/>
<path d="M98.33 69.38v0.37M102.13 67.93v0.43M127.88 60.14v0.31M81.07 62.49v1.1M119.2 67.55v1.09M135.71 67.95v0.69M124.73 60.73v0.9M91.29 59.95v0.42M133.58 65.01v0.93M117.04 70.23v1.08M134.03 60.67v0.84M100.18 66.14v0.94M143.37 67.48v0.39M91.93 63.38v0.51M136.3 66.4v0.97M108.66 60.36v0.62M105.67 62.13v1.19M125.52 65.09v0.34M85.48 68.2v1.11M126.51 66.27v1.12M103.93 69.6v0.74M90.58 66.2v1.18M100.74 61.51v0.61M145.37 60.55v0.51M98.53 66.71v0.46M107.2 64.57v0.4M137.63 65.92v1.02M84.04 70.48v0.58M131.92 67.11v0.94M116.56 67.45v0.94M96.78 63.89v1.18M78.49 62.2v0.36M116.17 63.32v0.44M78.64 66.74v0.44M100.76 64.86v1.12M124.32 67.94v1.08M104.63 64.92v0.99M123.21 70.24v0.73M96.29 64.19v0.63M78.9 64.58v0.6M131.49 68.33v0.77M89.52 64.76v0.5M99.89 63.52v0.59M134.35 69.52v0.88M121.6 66.78v1.1M138.78 60.08v0.75" stroke="#3a2c76" stroke-width="0.7" stroke-linecap="round"/>
<path d="M117.2 63.57v0.44M99.59 61.45v0.66M109.2 61.09v1M106.72 62.69v0.78M140.41 69.76v0.67M98.49 68.04v0.77M144.91 64.06v0.38M92.14 67.88v0.83M131.3 68.85v0.6M129.8 69.47v1.07M84.95 60.76v0.75M99.59 69.36v0.47M90.23 69.25v1.15M128.72 60.01v1.18M100.95 69.85v0.76M123.34 61.05v0.66M124.18 62.41v0.84M118.01 65.14v0.95M120.14 60.79v1.03M140.87 65.01v0.51M88.12 62.83v0.58M92.16 64.28v0.7M80.92 63.84v0.39M125.32 65.39v0.79M77.66 66.04v0.89M143.7 63.43v1.12M117.98 61.62v0.76M110.97 66.35v1.2M83.1 60.29v0.82M120.18 67.29v1.04M123.84 60.81v0.32M107.48 64.22v0.73M143.33 66.21v0.76M97.5 68.11v1.01M83.18 60.95v0.55M137.56 67.27v0.97M128.38 66.06v0.88M138.16 63.69v0.6M89.49 69.47v0.57M105.48 67.66v0.96M106.75 65.8v0.68M96.71 63.64v1.16M91.99 67.72v0.53M86.33 68.78v0.89M120.6 67.66v0.41M101.07 61.15v0.85M81.73 67.4v0.47M80.86 63.55v0.52M120.73 66.37v0.38M79.42 61.88v0.96M128.68 67.56v0.47M127.56 67.8v0.83M100.16 64.85v1.03M91.37 67.89v0.54M82.84 68.24v1.06M93.96 63.58v0.73M116.59 66.35v1.18M140.58 63.01v0.68M125.6 63.93v0.66M84.52 64.75v0.58M96.58 60.65v0.45M107.2 64.87v0.53" stroke="#3a2c76" stroke-width="1" stroke-linecap="round"/>
<path d="M120.21 63.55v0.59M88.51 63.51v0.66M110.3 62.31v0.8M120.79 62.22v0.51M96.67 61.41v0.64M140.28 62.51v1.13M141.52 63.04v1.09M130.82 61.85v0.88M135.38 63.2v0.47M138.22 68.22v0.95M104.64 61.07v0.94M126.94 66.57v0.42M116.46 66.46v0.71M118.72 64.08v1.17M92.52 68.89v0.31M98.4 69.59v0.31M138.66 63.39v0.91M118.9 61.06v0.92M141.24 62.29v0.93M88.11 59.82v0.62M111.13 66.69v0.53M84.67 69.54v0.66M110.44 62.18v0.32M141.64 61.77v0.93M114.56 67.26v0.72M134.9 62.94v0.75M86.53 62.56v0.54M80.31 66.79v0.72M128.18 61.01v0.53" stroke="#443482" stroke-width="0.8" stroke-linecap="round"/>
<path d="M80.05 64.03v1.03M141.51 68.88v0.86M108.14 65.04v1.04M118.9 65.25v0.99M120.43 60.43v0.8M142.88 63.96v0.43M109.51 65.71v0.69M144 70.19v0.91M88.35 62.65v0.83M91.5 69.96v1.14M82.25 61.17v0.48M106.69 61.51v0.65M126.37 65.97v0.86M143.14 69.48v1.02M80.97 66.87v0.31M85.4 61.5v1.05M115.38 69.22v0.95M130.56 60.99v0.78M97.64 61.71v0.44M114.64 60.13v0.42M90.68 68.08v0.49M79.32 64.97v0.35M96.17 62.33v0.31M135.17 65.82v0.83M117.35 68.55v0.85M87.96 67.03v0.46M85.93 66.7v1.11M83.91 64.7v0.81M116.35 68.11v1.06M90.67 68.53v1.07M106.66 67.87v0.45M134.47 66.25v0.66M122.37 68.7v1.1M78.27 69.64v0.57M84.44 67.85v0.93M80.51 69.92v0.89M79.42 67.63v0.73M95.64 63.23v0.7M97.26 61.86v0.69M96.97 66.96v1.13M101.18 61.83v1.02M126.4 62.53v0.95M126.39 68.63v0.7M109.21 62.34v0.35M145.39 67.94v1.04M113.64 66v0.36M83.51 69.05v0.63M106.99 62.34v0.55M91.21 63.51v0.35M105.35 65.11v0.89M95.62 60.99v0.66M91 66.2v0.52M103.91 69.46v0.81M100.74 63.51v0.72M133.32 62.16v0.73M113.74 63.8v1.01M139.31 62.92v0.59" stroke="#30246a" stroke-width="0.7" stroke-linecap="round"/>
<path d="M133.42 61.09v1.08M140.45 66.54v0.57M128.52 70.22v0.49M90.93 69.47v1.16M127.84 62.95v0.34M133.06 61.91v0.62M132.89 62.84v0.3M113.24 69.25v0.46M91.5 68.61v1.19M130.15 65.83v0.9M116.7 69.36v1.01M106.74 69.67v0.36M78.23 62.13v0.46M109.34 69.47v0.81M94.48 63.11v0.42M133.04 66.39v1.14M94.19 70.19v0.63M142.08 66.54v0.65M120.45 62.54v0.9M101.01 70.44v0.3M78.61 62.48v0.5M132.19 62.99v0.39M111.03 66.74v1.04M91.18 67.2v1.04M105.71 67.26v1.01M136.67 61.11v0.75M110.67 68.59v0.41M104.08 65.57v0.84M134.11 59.98v0.92M99.34 64.88v0.56M142.96 62.28v0.75M87.13 66.31v0.34M116.68 60.83v1.05M85.78 60.1v1M134.64 63.92v0.38M103.7 61.88v0.89M120.09 60.29v0.94M90.75 64.15v0.95M131.66 63.61v0.55M91.68 60.44v0.37M135.69 60.18v0.63M117.65 65.55v1.19M118.23 62.7v0.4M99.44 64.28v0.68M135.83 66.76v0.98M96.58 69.75v0.61M90.49 70.16v0.92M129.64 61.84v1.17M104.52 63.38v0.84M91.32 63.62v1.12M124.13 60.28v0.45M107.33 67.93v0.31M121.02 70.45v0.75M111.75 65.23v0.53M124.03 63.04v1.07M128.25 67.92v0.7M111.24 60.29v0.53M99.57 65.66v0.37" stroke="#30246a" stroke-width="1" stroke-linecap="round"/>
<path d="M132.17 61.4v0.5M108.33 67.19v0.6M115.56 60.5v0.92M91.24 64.68v0.92M113.37 66.84v0.97M144.73 61.4v0.44M145.01 60.19v0.81M120.09 70.32v0.7M102.99 66.72v0.32M132.43 69.01v0.74M140.23 60.81v0.47M134.02 65.54v0.44M107.35 66.06v0.55M88.24 69.81v1.12M91.79 63.22v0.78M90.06 67.29v1.17M135.15 61.82v1.12M118.24 68.01v0.8M131.09 68.32v1.02M87.43 68.28v0.48M130.64 62.57v0.73M109.79 67.77v0.96M83.5 63.38v0.96M140.65 64.82v0.39M101.69 64.82v0.37M135.18 64.83v0.65M110.51 69.08v0.7M96.34 64.85v0.38M105.73 62.13v0.94M106 60.01v0.83M124.67 68.98v0.87M116.68 68.25v0.68M113.08 68.67v0.93M118.39 62.06v0.76M98.07 62.25v0.31M96.94 62.08v0.4M126.94 64.01v0.46M128.97 69.5v0.6M126.66 67.44v1.01M120.26 67.1v0.99M86.97 68.87v0.46M103.39 68.85v0.51M138.94 70.23v0.73M115.36 64.95v1.18M107.03 68.63v0.43M120.42 64.46v0.97M84.2 65.09v0.5M117.52 65.58v0.52M97.8 60.03v0.37M125.94 63.32v0.66M91.14 69.36v0.79M88.93 65.88v0.4M83.85 62.79v0.77M87.23 63.57v0.77M116.78 61.9v0.85M99.02 66.27v1.1M79.12 68.11v0.45M133.08 62.42v0.33M97.28 64.07v0.88" stroke="#3a2c76" stroke-width="0.8" stroke-linecap="round"/>
<path d="M125.99 69.08v0.91M107.57 68.02v1.02M81.06 66.73v1.11M115.38 69.41v0.45M134.07 67.09v0.67M99.97 63.78v0.94M142.48 66.18v1.08M99.3 65v0.54M90.42 63.98v0.94M79.38 63.06v1.17M90.31 69.56v0.62M131.45 66.67v0.74M114.3 60.83v0.99M97.86 67.71v0.98M113.31 68.77v0.4M135.3 67.96v1.01M99.22 65.75v0.31M96.24 64.22v0.86M100.29 62.69v0.47M141.43 70.23v0.31M139.63 64.82v1.19M121.74 66.43v0.35M98.24 66.84v0.78M126.85 60.64v0.74M114.03 63.67v0.38M80.66 63.02v0.52M87.1 62.42v0.55M132.39 68.46v0.72M106.84 70.03v0.46M81.1 61.53v0.64M140.6 66.45v0.39M134.74 67.61v0.34M85.84 60.4v0.84M143.28 62.88v0.94M108.16 60.44v0.36M108.46 60.39v0.77M127.88 61.94v1.19M98.28 66.38v0.64M87.54 62.71v0.54" stroke="#443482" stroke-width="1" stroke-linecap="round"/>
<path d="M143.13 68.75v1.09M137.29 69.05v0.65M109.94 65.82v1.19M139.36 65.57v0.48M112.76 61.1v0.42M135.24 61.72v0.94M95.13 68.33v0.68M124.3 62.21v0.95M116.84 67.03v0.79M124.47 69.96v0.35M79.34 61.69v0.73M102.74 62.57v0.86M90.33 62.74v1.02M132.72 64.54v0.78M104.76 65.89v0.78M95.08 68.55v0.62M144.13 62.26v0.77M126.78 60.34v1.04M115.02 68.61v1.12M135.07 69.7v0.53M106.07 63.48v0.44M113.65 62.17v0.93M107.33 65.46v0.48M133.45 60.48v0.68M130.55 61.58v0.42M138.47 67.9v0.51" stroke="#443482" stroke-width="0.7" stroke-linecap="round"/>
<path d="M135.65 38.08v0.5M111.39 39.77v0.5M111.06 38.37v0.5M103.74 38.05v0.5M91.47 39.13v0.5" stroke="#8a5aa8" stroke-width="1.7" stroke-linecap="round"/>
<path d="M92.86 38.66v0.5M100.61 37.73v0.5M139.75 38.65v0.5M132.86 39.93v0.5" stroke="#6a4a98" stroke-width="1.7" stroke-linecap="round"/>
<path d="M107.37 38.42v0.5M90.93 38.44v0.5" stroke="#b070b8" stroke-width="2" stroke-linecap="round"/>
<path d="M78.17 37.55v0.5M142.51 37.5v0.5M109.46 38.76v0.5M86.42 39.93v0.5M132.04 37.86v0.5" stroke="#5a3a8a" stroke-width="2" stroke-linecap="round"/>
<path d="M141.77 38.1v0.5" stroke="#8a5aa8" stroke-width="2" stroke-linecap="round"/>
<path d="M111.51 39.47v0.5" stroke="#b070b8" stroke-width="1.7" stroke-linecap="round"/>
<path d="M119.39 37.54v0.5M81.13 38.72v0.5" stroke="#5a3a8a" stroke-width="1.7" stroke-linecap="round"/>
<path d="M127.25 38v0.5M112.24 39.69v0.5M137.7 38.42v0.5M125.25 38.96v0.5" stroke="#7a5aa0" stroke-width="1.4" stroke-linecap="round"/>
<path d="M118.72 37.75v0.5M84.75 39.02v0.5M135.61 39.43v0.5" stroke="#6a4a98" stroke-width="2" stroke-linecap="round"/>
<path d="M114.28 39.24v0.5M118.54 38.48v0.5M79.54 39.2v0.5M139.49 39.7v0.5" stroke="#6a4a98" stroke-width="1.4" stroke-linecap="round"/>
<path d="M124.07 37.5v0.5" stroke="#5a3a8a" stroke-width="1.4" stroke-linecap="round"/>
<path d="M107.39 37.84v0.5M138.01 39.48v0.5" stroke="#7a5aa0" stroke-width="2" stroke-linecap="round"/>
<path d="M131.73 35.35v0.2M78.92 37.02v0.2M137.52 36.01v0.2M85.62 40.45v0.2M103.65 38.3v0.2M103.15 42.06v0.2M137.87 40.83v0.2" stroke="#7a4aa0" stroke-width="1.1" stroke-linecap="round"/>
<path d="M129.98 41.84v0.2M139.27 34.57v0.2M78.86 36.37v0.2M140.52 37.73v0.2M121.37 39.73v0.2" stroke="#9a5aa8" stroke-width="1.1" stroke-linecap="round"/>
<path d="M99.96 41.72v0M125.21 46.64v0M100.18 42.98v0M110 41.29v0M139.99 40.39v0M125.56 46.91v0M129.62 40.53v0M91.95 40.02v0M131.55 45.43v0M142.98 40.89v0M133.14 42.87v0M122.48 48.04v0M95.55 45.89v0M85 40.26v0M104.75 41.16v0M128.46 44.66v0M93.6 40.93v0M109.06 46.95v0M123.01 47.12v0M108.38 46.92v0M98.65 48.25v0M103.29 47.27v0M132.18 44.97v0M102.39 41.97v0M106.3 47.2v0M122.23 45.48v0M103.4 42.6v0M126.8 41.19v0M84.44 44.56v0M140.24 40v0M87.6 44.8v0M102.52 46.51v0M114.93 44.7v0M80.47 42.68v0M96.17 43.93v0M92.9 40.11v0M134.92 43.8v0M104.86 41.95v0M82.52 42v0M130.84 47.32v0" stroke="#f4a8bc" stroke-width="0.9" stroke-linecap="round"/>
<path d="M130.5 80.86v0M109.89 81.44v0M110.4 76.97v0M106.84 77.5v0M144.55 76.04v0M137.43 81.34v0M110.87 81.2v0M90.3 77.28v0" stroke="#1a0a10" stroke-width="1.2" stroke-linecap="round"/>
<path d="M101.66 76.06v0M81.3 79.5v0M112.72 75.64v0M101.33 77.26v0M95.11 77.47v0M81.83 80.24v0M112.75 77.91v0" stroke="#d8a8b8" stroke-width="1.2" stroke-linecap="round"/>
<path d="M132.97 81.27v0M134.7 75.22v0M122.74 79.3v0M106.61 77.75v0M124.88 78.55v0" stroke="#c07090" stroke-width="0.9" stroke-linecap="round"/>
<path d="M79.24 77.82v0M132.48 77.62v0M101.87 78.56v0M90.93 75.82v0M120.64 80.95v0M135.94 77.27v0M81.78 75.7v0M111.52 79.7v0M100.91 79.25v0M139.66 79.48v0M131.02 80.18v0" stroke="#d8a8b8" stroke-width="0.9" stroke-linecap="round"/>
<path d="M132.17 81.6v0M87.8 77.12v0M94.18 81.02v0M134.28 78.73v0M122.18 77v0M84.26 75.4v0" stroke="#6a3a80" stroke-width="1.2" stroke-linecap="round"/>
<path d="M82.4 75.97v0M84.21 75.53v0M135.56 79.04v0M142.36 77.63v0" stroke="#c07090" stroke-width="1.2" stroke-linecap="round"/>
<path d="M122.71 75.42v0M93.37 77.89v0M112.18 78.8v0M88.87 76.5v0M101 79.42v0M92.9 79.76v0" stroke="#1a0a10" stroke-width="0.9" stroke-linecap="round"/>
<path d="M88.76 77.63v0M92.05 77.95v0M81.26 81.3v0M123.08 76.99v0M83.93 79.91v0M90.28 78.33v0M120.09 80.26v0" stroke="#8a4a6a" stroke-width="0.9" stroke-linecap="round"/>
<path d="M113.06 79.87v0" stroke="#8a4a6a" stroke-width="1.2" stroke-linecap="round"/>
<path d="M114.7 79.52v0M141.44 77.16v0M117.85 76.34v0M78.43 76.61v0M93.3 77.67v0" stroke="#6a3a80" stroke-width="0.9" stroke-linecap="round"/>
</g></g>
<g>
<clipPath id="hc3"><rect x="146.8" y="15.4" width="68.2" height="67.4"/></clipPath>
<g clip-path="url(#hc3)">
<rect x="146.8" y="15.4" width="68.2" height="67.4" fill="#f08aa2"/>
<rect x="146.8" y="38" width="68.2" height="9.3" fill="#ee7490"/>
<polygon points="146.8,15.4 146.8,29.6 150.21,30.01 153.62,30.33 157.03,30.64 160.44,30.92 163.85,31.2 167.26,31.47 170.67,31.73 174.08,31.99 177.49,32.24 180.9,32.48 184.31,32.73 187.72,32.97 191.13,33.21 194.54,33.44 197.95,33.67 201.36,33.9 204.77,34.13 208.18,34.35 211.59,34.58 215,34.8 215,15.4" fill="#d7d7d7"/>
<polyline points="146.8,30.1 150.21,30.51 153.62,30.83 157.03,31.14 160.44,31.42 163.85,31.7 167.26,31.97 170.67,32.23 174.08,32.49 177.49,32.74 180.9,32.98 184.31,33.23 187.72,33.47 191.13,33.71 194.54,33.94 197.95,34.17 201.36,34.4 204.77,34.63 208.18,34.85 211.59,35.08 215,35.3" fill="none" stroke="#f6c6d2" stroke-width="0.8"/>
<rect x="146.8" y="47.3" width="68.2" height="10.7" fill="#c68cc4"/>
<rect x="146.8" y="58" width="68.2" height="1.8" fill="#ec86a6"/>
<rect x="146.8" y="59.8" width="68.2" height="12.7" fill="#c088c2"/>
<rect x="146.8" y="72.5" width="68.2" height="4.3" fill="#ef7c96"/>
<rect x="146.8" y="76.8" width="68.2" height="5" fill="#4a2438"/>
<rect x="146.8" y="77.8" width="68.2" height="1.4" fill="#160a0e"/>
<rect x="146.8" y="79.2" width="68.2" height="0.9" fill="#6a4a58"/>
<rect x="146.8" y="80.1" width="68.2" height="1.6" fill="#1a0c10"/>
<rect x="146.8" y="81.8" width="68.2" height="1" fill="#e58aa0"/>
<path d="M163.03 52.66v0.73M186.7 53.03v1.12M169.47 50.88v0.94M171.98 53.44v0.84M158.9 49.32v0.54M206.79 56.31v1.01M213.43 53.99v0.74M211.37 48.64v1.1M169.96 50.65v0.92M165.79 49.98v0.44M213.91 51.89v0.8M168.17 47.8v0.97M172.99 56.73v0.49M180.23 52.98v1.11M172.04 49.29v0.47M203.68 54.23v0.45M163.64 50v0.61M166.49 48.69v1.03M163.17 48.95v0.36M191.43 53.12v0.41M162.05 48.04v0.79M159.36 51.2v0.71M151.19 52.74v0.37M203.12 50.92v0.9M182.04 50.26v0.98" stroke="#463684" stroke-width="1" stroke-linecap="round"/>
<path d="M186.41 53.23v0.8M212.1 48v0.73M151.34 55.94v0.68M148.94 49.44v0.85M156.23 55.61v1.08M195.61 56.31v0.77M182.76 51.53v1M180.22 49.06v0.65M201.04 52.87v0.71M177.77 54.11v0.63M211.42 54.88v1.12M189.21 53.88v0.45M165.54 53.79v1.1M211.2 55.2v0.91M170.95 50.7v0.79M172.01 50.33v1.15M176.61 54.64v0.4M176.99 49.32v0.7M213.22 52.03v1.15M188.11 54.21v0.34M190.61 55.77v0.72M174.03 56.49v0.81M207.72 48.4v0.5M160.85 52.61v0.96M161.41 50.86v0.51M211.56 52.1v1.2M156.55 51.73v0.37M204.95 50.25v1.1M150.23 49.5v1.18M200.37 56.71v0.47M179.93 48.16v0.77M214.46 52.69v0.7M168.28 52.45v1.07M195.18 56.08v0.9M209.59 49.28v0.58M184.66 47.93v0.67M157.17 49.59v0.65M155.69 53.21v0.85M153.11 52.63v0.43M176.91 53.35v0.68M187.64 48.39v0.64M180.23 56.77v0.43M160.68 48.16v0.87M154.93 52.73v1.08M181.96 51.29v0.55M161.63 56.48v0.68M194.45 49.19v0.77M162.48 51.47v0.58M171.51 52.25v0.9M169.49 54.88v0.61M164.65 52.05v0.98M191.41 56.1v0.69M175.54 52.97v1.04M171.66 55.19v1.11M188.02 51.33v0.75M184.89 53.3v0.35M189.51 52.38v0.79M163.92 52.56v0.82M200.19 51.04v0.64M181.97 55.47v0.63M177.59 54.52v0.91M153.01 48.4v0.37M192.5 51.37v1.06" stroke="#32266c" stroke-width="0.8" stroke-linecap="round"/>
<path d="M159.88 54.27v0.73M148.75 50.2v0.93M194.45 50.64v0.81M175.12 48.71v0.99M157.44 47.64v0.69M185.25 48.56v0.3M185.57 52.99v0.74M179.5 51.16v0.62M176.55 52.12v0.83M195.77 53.91v0.46M159.55 52.09v0.36M195.62 54.62v0.97M149.67 52.29v0.99M191.94 52.17v0.71M149.71 48.32v0.44M149.13 50.43v1.15M179.58 50.11v0.95M192.99 48.5v1.06M183.3 49.35v0.37M206.25 50.82v0.7M148.73 49v0.36M149.37 51.95v1M201.85 50.37v0.31M149.34 56.86v0.52M198.27 55.6v0.67M208.14 52.21v0.37M147.38 51.24v0.46M214.42 53.97v0.99M187.75 50.61v0.64M168.5 50.93v1.14M169.61 54.93v0.78M166.1 47.87v1.13M160.69 53.51v1.15M167.16 55.97v0.78M189.08 50.9v0.96M188.16 54.13v0.9M206.16 54.53v0.92M190.48 49.57v0.96M182.17 54.18v0.85M151.09 54.99v0.39M193.24 49.81v0.65M197.84 54.32v0.45M161.91 56.32v1.11M169.52 50.42v0.49M147.77 49.38v1.17M161.6 53.06v1.06M154.89 51.02v0.9M160.88 53.67v0.82" stroke="#3c2e78" stroke-width="1" stroke-linecap="round"/>
<path d="M190.38 49v1.08M182.48 54.49v0.44M159.58 51.65v0.39M151.47 56.66v0.76M191.15 52.63v0.86M207.32 54.97v0.96M199.14 52.36v0.4M162.85 56.24v0.67M207.57 53.63v1.16M153.6 48.65v0.47M154.31 48.35v0.52M150.13 49.02v0.83M193.61 50.99v0.85M206.86 56.36v0.69M166.96 54.57v0.57M183.24 54.46v0.7M193.22 48.49v0.87M185.21 51.37v0.4M195.89 53.18v1.2M155.21 55.87v0.59M200.37 50.37v1.03M201.26 48.49v0.66M206.65 54.66v1.06M192.52 55.78v1.14M191.32 49.59v0.77M187.04 64.03v0.82M151.74 65.59v0.43M184.65 69.99v0.8M189.47 63.6v0.88M203.87 60.3v0.46M208.71 70.43v0.68M173.12 70.83v1.04M171.21 70.65v0.8M174.12 64.93v0.75M178.22 68.53v0.71M201.9 60.18v1.18M200.52 67.9v0.72M147.55 66.81v0.41M180.67 65.04v0.67M175.96 69.41v0.47M172.01 63.31v0.46M179.71 65.82v0.43M196.87 63.22v1.12M179.56 65.63v0.47M202.54 61.32v0.59M209.67 64.28v0.93M189.41 63.57v0.49M172.14 63v0.85M183.28 68.33v0.48M150.95 64.13v0.6M199.52 71.17v0.87M192.57 64.46v1.09M190.62 63.69v1.07M165.38 61.64v0.57M186.95 66.73v1" stroke="#6a4c9a" stroke-width="0.7" stroke-linecap="round"/>
<path d="M195.82 55.77v0.66M156.07 49.62v1M155.76 52.25v0.51M208.78 48.5v0.91M159.7 51.47v1.03M159.12 55.96v0.63M155.25 48.08v0.55M164.93 55.18v0.59M203.37 53.32v0.99M157.25 54.69v1.18M172.12 52.39v0.48M155.2 52.26v0.96M152.5 51.71v0.36M184.49 50.42v0.79M147.54 53.91v0.68M160.95 54.09v0.53M208.57 48.05v0.57M156.7 49.6v0.75M196.54 47.62v1.03M177.16 52.45v0.42M196.5 55.04v0.37M152.82 60.87v0.91M206.06 67.13v1.09M173.64 70.88v1.02M206.58 71.21v0.37M205.66 62.32v1.01M177.26 68.13v1.03M187.4 65.93v1.09M181.3 63.19v0.44M197.63 65.73v0.45M197.53 70.22v0.42M195.28 68.72v0.6M152.04 70.61v0.89M160.47 60.1v0.98M196.69 63.77v1.03M154.18 63.32v0.49M204.86 68.27v0.58M204.59 70.22v0.6M205 62.88v0.9M163.24 68.59v0.42M214.18 68.2v0.66M157.75 65.13v0.43M146.91 62.66v0.52M211.9 67.17v0.42M159.28 60.58v0.93M147.47 67.88v0.99M173.17 70.88v0.91M164.54 62.52v1.06M184.35 69.26v0.51M205.17 61.74v0.33M192.71 70.33v0.93M168.03 69.28v0.85M159.49 68.63v1.07M200.73 61.56v0.69M196.23 66.63v0.37M162.41 70.81v0.64M183.73 63.59v0.74M190.03 65.85v0.74M157.09 62.45v1.11M179.38 65.72v1.01" stroke="#6a4c9a" stroke-width="0.8" stroke-linecap="round"/>
<path d="M201.42 51.73v0.39M195.48 49.56v0.56M172.57 53.05v0.75M168.76 50.7v1.03M203.86 53.77v0.79M207.48 55.61v0.41M197.82 56.12v0.83M186.67 50.08v0.32M168.76 54.8v1.19M205.03 49.85v0.42M211.95 51.24v0.41M190.83 53.47v1.1M197.86 53.1v1.02M172.93 52.74v0.87M180.7 54.1v0.49M172.1 52.52v0.5M179.66 49.36v0.48M205.76 51.19v1.13M171.54 51.46v1M181.96 52.3v1.01M154.37 55.37v1.03M179 49.41v0.74M203.24 56.26v0.33M147.31 51.05v0.52M198.28 50.64v1.09M193.24 54.38v0.63M193.56 49.66v0.61M169.91 54.41v0.4M209.22 52.12v0.72M185.6 50.07v0.9M200.45 54.55v0.39M209.45 52.71v0.69M187.08 50.79v0.49M155.07 49.45v0.52M163.87 49.49v1.17M199.91 51.67v0.3M171.76 47.7v0.73M163.26 56.04v0.56M170.32 54.58v0.64M178.05 53.74v0.86M195.53 56.52v0.3M158.93 49.46v0.91M186.68 52.22v0.61M158.45 50.99v0.94M179.92 49.41v1.18M211.28 53.71v1.07" stroke="#3c2e78" stroke-width="0.8" stroke-linecap="round"/>
<path d="M205.13 51.52v0.62M184.2 47.71v0.58M197.13 47.81v0.32M200.49 48.58v0.92M170 55.3v0.61M176.04 48.79v0.95M176.23 51.06v0.58M164.68 51.92v0.9M156.59 54.8v0.38M204.93 47.84v0.73M197.88 56.29v0.59M166.98 54.16v1.07M179.51 53.17v1.05M202.83 52.78v0.37M149.87 49.3v1.02M183.37 48.65v0.62M190.79 53.64v0.57M159.99 52.52v1.13M188.97 52.31v0.32M152.29 55.4v0.37M180.15 47.82v0.66M150.67 51.65v0.86M156.05 54.65v0.98M182.69 54.51v1.05M194.92 54.02v0.66M200.13 52.89v0.78M184.22 55.82v1.08M147.45 52.06v1.1M203.17 50.68v0.5M152.62 49.76v0.66M158.59 49.17v0.49M182.99 53.17v0.46M167.38 51.08v1.07M182.81 55.51v0.79M202.99 49.49v0.99M196.64 50.01v0.37M173.29 55.09v0.95M196.96 52.45v0.58M210.77 50.6v0.87M199.02 47.89v1.06M181.77 48.68v0.49M192.14 48.59v0.61M159.49 56.73v1.08M150.43 51.13v0.98M169.5 55.04v0.7M180.57 52.46v0.47M146.9 51.69v0.34M174.4 49.98v0.65M198.06 56.74v0.81" stroke="#32266c" stroke-width="1" stroke-linecap="round"/>
<path d="M151.13 55.54v0.61M214.9 50.48v0.84M185.56 50.12v0.78M175.23 51.5v1.13M164.02 55.61v0.62M160.26 52.57v0.52M211.61 51.49v0.5M165.22 53.09v0.68M173.85 50.86v0.64M186.38 53.88v0.6M171.3 50.07v1.09M199.43 50.88v0.54M187.81 54.36v0.99M183.21 49.08v0.83M174.61 54.14v0.66M153.95 53.93v0.75M152.79 50.33v0.76M184.12 52.59v1.05M158.51 54.59v0.98M203.1 48.65v0.48M152.07 50.82v1.13M209.56 50.32v1.1M169.81 48.84v0.34M185.98 52.71v0.55M170.97 56.44v0.93M176.96 52.57v0.98M204.6 54.83v1.07M188.72 48.9v0.59M193.34 48.72v0.73M168.81 53.63v0.88M154.97 56.1v0.58M205.67 51.75v0.82M168.23 56.36v1.15M186.74 51.21v0.45M164.76 54.12v0.55M169.16 56.63v1.02M214.95 48.74v0.73M163.69 56.2v0.31M150.11 51.34v0.59M184.98 49.1v0.81M193.43 56.55v0.66M203.28 52.49v0.58M180.61 51.8v0.94M206.49 52.7v1.1M147.32 54.43v0.88M202.85 49.27v0.59M200.31 50.85v0.71M165 50.44v0.46M162.38 55.81v0.88M198.58 52.52v0.98M172.6 52.81v0.88M172.26 53.08v0.88" stroke="#32266c" stroke-width="0.7" stroke-linecap="round"/>
<path d="M157.45 47.99v0.62M213.15 55.15v0.87M155.64 50.32v0.61M200.53 51.93v0.52M165.27 56.43v0.85M205.37 56.52v1.06M205.6 55.37v0.54M163.76 51.64v0.42M195.32 50.96v0.75M162.04 50.25v0.35M179.31 51.64v1.17M175.97 55.08v0.79M186.05 47.83v0.84M158.74 55v0.37M177.15 56.71v0.93M198.53 52.67v1.03M202.38 51.04v0.85" stroke="#463684" stroke-width="0.8" stroke-linecap="round"/>
<path d="M173.14 55.66v0.39M212.32 48.34v0.5M163.48 47.93v1.13M168.27 49.76v1.16M171.93 51.79v0.9M160.91 49.63v0.72M174.01 51.06v1.09M167.12 50.27v0.92M214.21 55.37v0.56M179.1 47.64v1.08M165.77 49.41v1.04M174.83 63.5v0.66M151.68 69.97v0.79M202.19 61.72v0.86M192.96 64.08v0.87M161.3 62.83v0.83M187.83 67.41v0.98M186.5 68.23v0.64M189.45 63.53v0.64M152.66 68.66v0.81M187.83 64.59v0.39M150.03 60.56v0.62M214.11 62.55v0.6M180.83 68.13v0.88M176.03 60.46v0.56M196.38 62.74v0.49M193.26 65.15v1.05M190.82 62.27v0.64M211.73 61.86v0.37M170.55 65.38v0.46M195 70.81v0.92M211.74 66.19v0.64M210.51 65.72v0.4M185.27 64.16v0.53M171.95 69.77v1.12M147.93 69.71v0.95M205.66 68.95v0.51M171.1 68.9v0.61M201 64.53v0.63M157.68 66.55v0.6M149.29 66.22v1.06" stroke="#6a4c9a" stroke-width="1" stroke-linecap="round"/>
<path d="M172.48 53.08v0.87M159.81 55.1v1.08M211.6 56.22v0.97M207.95 55.97v0.31M182.6 51.45v0.61M165.47 55.87v0.74M146.92 48.11v0.41M153.57 55.79v0.61M185.26 55.3v0.88M190.65 55.95v0.39M205.32 48.87v0.83M191.5 48.75v1.13M183.95 49.18v1.08M156.05 54.97v0.32M214.6 56.88v1.08M181.15 53.52v0.85M173.85 47.85v0.38M179.17 49.13v0.61M147.6 49.74v1.07M210.91 52.01v0.62M155.77 52.54v0.45M182.16 49.19v0.92M158.71 52.13v0.43M159.73 55.25v0.77M214.15 50.21v0.43M155.46 50.88v1.14M158.93 52.93v1.01M186.66 48.96v0.63M207.52 50.27v1.04M148.61 56.3v0.82M170.25 51.84v0.48M180.46 55.54v1.14M212.66 54.41v0.57M202.1 50.99v0.92M214.69 52.09v0.95M159.49 52.91v0.9M154.1 55.68v0.5M192.3 50.11v0.64M189.58 51.7v0.61M185.87 52.67v0.56M210 53.01v0.69M155.4 56.9v0.63M212.4 50.4v0.75M173.49 52.49v1.09M208.54 56.1v0.71M212.65 52.35v0.86M200.19 51.28v1.07M190.07 48.18v0.91M168.55 52.91v0.61M210.34 54.1v1.18M194.27 50.92v0.97" stroke="#3c2e78" stroke-width="0.7" stroke-linecap="round"/>
<path d="M197.63 49.2v0.9M185.74 51.32v0.54M173.37 50.43v1.19M194.29 50.25v0.33M154.85 50.06v0.62M146.98 49.54v1.07M206.05 53.61v0.36M176.74 49.93v0.97M195.31 55.53v1.11M213.61 55.75v0.69M147.7 51.62v0.84M202.13 51.79v0.9M180.81 54.32v0.33M208.73 52.74v0.95M177.97 56.66v0.45M189.65 52.84v0.41M148.49 47.85v0.48M179.03 50.39v0.58M174.55 50.71v0.74M183.67 55.4v1.18M200.67 50.57v0.86M149.7 50.07v0.69" stroke="#463684" stroke-width="0.7" stroke-linecap="round"/>
<path d="M148.94 69.06v0.83M167.99 67.1v0.77M202.69 60.24v0.74M213.08 60.12v0.5M200.88 62.37v0.99M178.23 61.47v0.97M168.29 62.89v0.95M210.79 60.13v1.18M212.23 60.99v0.97M158.92 68.01v0.64M152.81 66.06v0.84M150.39 64.95v0.61M200.45 67.29v0.47M200.27 64.1v0.88M180.6 67.79v1.14M200.04 63.46v1.04M166.92 60.92v1.11M199.28 63.18v1.1M149.52 67.88v0.92M204.08 63.2v0.63M179.76 71.21v0.85M214.07 71.05v0.63M163.11 67.11v0.45M158.8 69.72v0.47M197.69 70.92v0.74M182.8 60.58v0.56M185.33 62.39v0.48M158.79 61.57v0.41M178.17 65.98v1.06M162.68 62.38v0.73M198.37 65.88v1.15M152.13 65.44v0.83M209.14 63.37v0.68M208.7 71.39v1.05M202.19 69.75v0.67M200.05 68.67v0.58M209.57 69.08v0.35M163.15 68.6v0.62M201.04 63.83v0.34M171.78 66.3v0.95M174.56 67.53v0.99M152.18 63.93v1.1M208.22 63.9v0.97M210.96 70.41v0.82M160.65 71.19v0.5M169.73 61.86v0.86M198.53 65.89v0.61M158.25 61.18v0.59M169.36 67.11v0.95M147.21 66.48v0.66M203.64 70.75v0.62M150.57 65.44v0.81M149.71 62.51v0.85M191.56 67.42v0.53M200.68 60.88v1.02M208.64 70.4v0.62M208.78 68.92v0.95" stroke="#3a2c76" stroke-width="1" stroke-linecap="round"/>
<path d="M164.38 70.63v0.65M150.84 64.87v0.65M152.09 71.08v0.53M162.18 65.58v0.35M154.57 62.75v0.45M214.22 67.23v1.11M181.8 63.51v0.64M206.78 61v0.68M151.31 61.27v0.52M179.28 61.42v0.46M192.05 60.67v0.55M203.14 65.16v0.55M147.79 67.69v1.07M212.47 61.57v0.54M207.9 64.85v0.72M160.82 67v0.84M170.59 69.76v0.76M198.07 66.26v0.86M213.56 61.12v0.46M210.94 64.19v0.59M211.55 61.04v0.36M156.51 64.21v1.15M204.52 63.25v0.94M167.2 66.87v0.52M207.97 68.66v0.97M151.9 66.86v0.99M199.73 61.6v1.03M202.66 65v0.32M206.08 70.09v0.84M175.94 64.56v1.19M206.85 62.88v1.12M209.33 62.92v0.83M206.04 60.51v0.88M200.13 63.75v0.92M150.17 60.36v0.9M170.93 61.48v0.43M195.9 70.81v0.34M165.75 60.44v0.64M203.54 65.66v0.3M165.95 65.96v0.43M166.6 61.22v0.32M155.03 63.71v0.85M191.74 64.74v0.64M147.27 65.1v1M159.07 63.81v0.95M201.31 66.47v0.85M163.39 65.57v0.72M160.99 60.47v0.46M190.19 64.39v1M207.92 68.2v0.79M160.09 66.98v1.14M146.88 61.56v1.02M171.14 64.87v0.61M212.51 61.43v0.82M147.72 68.82v0.55M169.46 61.92v0.84M193.49 69.85v1.14" stroke="#30246a" stroke-width="1" stroke-linecap="round"/>
<path d="M182.51 61.92v0.37M207.68 62.66v0.39M150.22 63.98v0.48M197.26 63.72v0.79M172.2 68.07v0.97M195.04 63.46v1.05M208.11 70.35v0.38M198.34 60.96v0.95M214.72 64.29v0.6M160.09 67.86v0.5M174.71 67.88v0.52M206.63 65.48v0.36M147.84 66.37v0.55M204.64 64.32v0.83M187.57 61.47v0.87M168.24 66.85v0.63M188.37 69.6v0.4M181.61 69.3v1.04M171.66 68.38v0.37M196.7 62.25v0.8M192.23 64.67v1.16M213.61 69.2v0.79M200.15 69.4v0.94M194.5 61.81v0.94M155.3 67.43v0.85M151.88 63.28v0.63M177.53 66.24v0.64M171.3 68.03v0.34M214.54 63.42v0.98M167.71 62.2v1.03M183.46 62.69v0.37M180.77 61.33v1.01M190.49 61.42v1.05M177.36 60.42v1.1M190.47 66.52v1.1M206.67 68.59v0.71M157.97 62.78v1.18M155.25 61.55v0.67M166.82 68.6v0.79M158.32 69.68v0.41M166.75 61.71v0.46M148.57 62.25v0.85M152.12 70.02v1.04M206.88 64.46v0.88M162.57 67.18v0.94M200.01 70.7v1.14M184.3 69.14v0.33M168.04 63.27v1.11M155.56 61.64v0.53M214.16 71.25v0.32M174.73 68.82v0.64M157.65 67.81v0.48M199.83 68.18v1.12M157.77 65.3v1.15M171.62 64.54v1.17M164.45 69.57v0.96M202.85 61.4v0.38M171.19 70.85v0.86M179.05 68.81v0.9M176.27 62.47v1.13" stroke="#3a2c76" stroke-width="0.8" stroke-linecap="round"/>
<path d="M199.39 61.4v1.07M204.62 62.17v0.92M190.49 61.9v0.7M152.02 65.45v0.59M195.3 69.89v0.83M168.37 67.36v1.18M196.81 69v0.93M194.55 60.74v0.64M164.17 68.71v0.56M171.92 68.13v1.05M175.71 61.22v0.44M155.24 69.42v1.12M206.1 70.73v0.32M173.52 66.97v1.2M211.92 64.71v0.65M153.41 66.42v0.54M182.74 63.56v0.51M208.86 65.43v0.34M192.14 63.95v0.64M205.17 66.19v1.14M207.11 65.8v0.45M194.6 71.05v0.57M166.24 64.34v0.76M184.75 68.04v0.71M151.4 68.54v1.06M176.88 66.22v1M186.86 61.99v0.38M162.6 61.63v0.75M188.63 63.19v0.31M162.09 70.76v1.06M183.97 60.36v0.81M196.7 68.51v0.47M169.58 67.71v0.96M168.72 65.57v0.41M199.41 64.18v0.67M152.99 71.3v0.78M181.01 68.08v1.17M204.46 68.93v0.66M199.85 63.75v0.83M187.29 66.66v0.56M161.03 63.03v0.75M207.25 71.05v0.8M187.21 70.91v1.1M163.28 62.49v0.52" stroke="#3a2c76" stroke-width="0.7" stroke-linecap="round"/>
<path d="M189.56 63.74v1.19M158.32 71.14v1.11M202.7 62.44v0.4M199.31 62.77v1.05M178.75 69.87v0.84M187.19 62.22v0.73M186.84 65.65v0.64M208.02 61.64v0.44M198.48 61.18v0.52M191.42 68.04v1.05M203.91 64.07v0.72M175.76 68.12v1.07M185.82 62.99v0.76M174.03 68.46v0.9M176.79 64.34v0.82M167.78 71.16v0.82M171.39 70.05v0.37M164.25 69.43v0.38M195.76 63.7v0.58M180.38 69.89v1.09M198.29 69.62v0.49M173.11 60.4v0.43M212.27 65.81v0.49M173.99 69.26v0.45M158.77 62.75v0.98M167.09 63v0.4M205.52 60.69v0.99M187.04 63.45v1.16M156.04 65.69v0.79M153.33 61.96v0.59M163.23 70.66v0.95M205.31 66.99v0.45M181.67 65.7v0.36M172.32 68.11v0.31M163.41 62.31v1.01M207.18 66.23v0.63M196.03 71.14v1.07M195.25 63.18v1.06M202.93 70.03v0.42M150.36 71.03v0.68M163.18 68.32v0.45M160.27 64.14v1.08M198.36 64.12v0.69M214.77 67.77v0.71M174.52 65.3v1.09M175.5 61.2v1.08M203.91 65.2v0.39M155.57 62.64v0.57M172.7 66.08v0.84M157.09 64.11v0.86M192.79 61.83v0.44M163.8 69.04v0.38M210.17 60.97v0.45M189.14 66.7v0.82M162.2 60.36v0.32M208.47 67.09v0.31M179.36 68.92v1.13M147.83 60.88v0.72M147.71 65.25v0.77M163.04 66.3v0.49M182.28 61.97v1.12M174.35 70.26v0.41" stroke="#30246a" stroke-width="0.7" stroke-linecap="round"/>
<path d="M175.83 60.38v0.52M178.11 60.97v0.83M161.34 67.69v0.58M195.6 62.49v0.32M182.25 67.02v1.01M157.3 60.15v0.39M202.57 66.66v0.87M149.97 62.66v0.4M186 66.51v0.94M200.57 66.97v0.31M169.82 61.09v0.69M181.21 66.88v0.83M178.16 69.58v1.11M182.62 64.13v0.33M205.81 68.12v0.53M212.55 70.07v0.54M174.51 64.53v0.81M184.07 64.54v0.97M164.48 60.98v1M149.31 67.74v0.9M192.3 68.16v0.99M171.34 68.65v0.79M168.45 62.69v0.88M201.01 62.47v0.44M185.51 69.08v1.03M194.57 60.8v0.89M211.18 66.51v0.37M204.39 66.73v0.91M152.15 64.62v0.84M171.15 66.4v0.63M197.51 63.36v0.38M212.09 65.16v0.61M207.47 63.7v1.02M166.38 60.37v0.91M194.28 66.14v0.81M191.42 60.62v0.54M211.04 65.34v0.81M160.26 62.79v0.41M201.48 65.77v0.77M201.91 63.2v0.33M205.47 63.39v0.53M166.9 61.85v0.82M192.23 71.06v0.74M193.18 60.73v1.12M172.42 67.93v0.85M156.3 66.66v1.05M214.67 69.12v0.88M208.72 63.69v1.11M207.91 63.52v0.57M178.42 65.87v0.62M163.04 70.34v0.81M208.95 69.69v0.57M190.85 69.76v0.44M153.03 60.3v0.42M176.16 63.67v1.12M178.18 67.69v0.56M167.9 67.16v0.72M205.13 69.31v0.65M188.99 68.88v1.05M214.27 69.2v0.66M199.81 68.13v0.94M173.75 70.92v0.4M170.13 60.31v0.59M199.19 62.52v1.08M179.56 61.95v0.9M204.6 61.91v0.57M163.59 62.74v1.15M207.9 65.19v0.68M214.3 66.48v0.72M164.7 68.77v0.89M147.6 60.47v0.61" stroke="#30246a" stroke-width="0.8" stroke-linecap="round"/>
<path d="M188.21 70.36v1.12M147.32 69.7v1.13M148.07 67.91v1.01M203.28 62.04v0.8M180.08 63.03v0.49M204.86 65.22v0.86M192.4 63.69v0.87M202.29 60.13v1.08M153.54 71.19v1.2M203.57 60.34v1.09M205.42 62.68v0.57M195.77 68.58v0.79M205.85 62.22v0.51M170.73 66.12v0.75M210.66 66.84v0.84M203.74 69.41v0.6M169.14 60.75v0.64M180.48 60.81v0.59M204.67 67.97v0.44M156.4 68.66v0.89M203.95 63.72v1M162.9 62.23v1.18M201.38 69.84v1.04M149.28 61.52v0.98M164.43 66.62v0.85M158.62 60.25v1.19M201.61 60.8v1.05M157.04 63.5v0.99M180.26 63.68v0.47M169.3 63.98v1.12" stroke="#443482" stroke-width="0.8" stroke-linecap="round"/>
<path d="M151.02 70.74v0.36M189.62 61.86v0.92M195.58 70.26v0.37M163.57 63.28v0.64M209.01 63.54v0.84M197.94 64.33v0.56M187.88 63.72v0.87M162.93 65.59v1.2M152.63 66.51v0.57M149.72 60.8v0.49M209.32 70.29v0.75M192.79 67.28v0.46M171.33 68.85v0.6M205.68 64.68v0.5M173.45 68.26v0.99M153.45 61.79v0.64M201.43 67.96v0.91M162.52 70.9v0.95M184.56 61.45v0.97M213.91 68.25v0.91M179.76 67.42v1.05M211.14 70.93v0.42M171.8 65.45v1.17M202.93 70.08v0.58M197.12 63.46v0.47M165.35 65.54v0.79M149.95 61.75v0.4M158.08 65.03v1.15M169.63 67v1.03" stroke="#443482" stroke-width="0.7" stroke-linecap="round"/>
<path d="M164.47 60.41v0.94M167.57 65.34v0.39M192.98 71.31v1.19M169.13 65.81v0.61M168.18 60.82v0.77M174 64.07v0.49M163.15 70.76v0.88M188.5 60.61v0.79M198.43 62.14v0.43M162.76 63.37v0.78M158.77 65.06v0.53M175.85 68.01v0.8M191.29 61.68v0.32M208.23 71.36v0.92M166.41 69.09v0.59M178.91 68.11v0.54M190.69 69.66v0.53M205.92 69.66v0.92M180.91 60.18v0.49M181.68 71.26v0.52M155.09 65.15v0.96M205.03 62.09v0.99M162.49 66.59v0.41M167.77 66.37v0.68M186.56 60.25v0.8M190.32 65.38v1.14M156.26 69v0.97M181.63 63.82v0.4M153.75 66.02v0.73M169.99 69.75v0.47M160.71 63.8v0.5" stroke="#443482" stroke-width="1" stroke-linecap="round"/>
<path d="M169.7 35.69v0.5" stroke="#8a5aa8" stroke-width="1.4" stroke-linecap="round"/>
<path d="M186.88 35.56v0.5M211.54 38.17v0.5M172.43 35.27v0.5M172.54 36.28v0.5" stroke="#5a3a8a" stroke-width="2" stroke-linecap="round"/>
<path d="M175.94 35.88v0.5M182.16 36.97v0.5M197.83 36.16v0.5M209.15 37.88v0.5" stroke="#6a4a98" stroke-width="1.7" stroke-linecap="round"/>
<path d="M161.88 35.29v0.5M158.59 35.09v0.5" stroke="#5a3a8a" stroke-width="1.7" stroke-linecap="round"/>
<path d="M202.09 38.55v0.5M155.89 34.14v0.5M188.33 37.54v0.5M169.52 35.4v0.5" stroke="#6a4a98" stroke-width="1.4" stroke-linecap="round"/>
<path d="M207.6 38.78v0.5M172.94 35.36v0.5M199.16 38.07v0.5" stroke="#5a3a8a" stroke-width="1.4" stroke-linecap="round"/>
<path d="M202.41 37.59v0.5" stroke="#6a4a98" stroke-width="2" stroke-linecap="round"/>
<path d="M174.69 35.22v0.5M177.01 34.59v0.5M207.57 37.05v0.5" stroke="#b070b8" stroke-width="1.4" stroke-linecap="round"/>
<path d="M172.65 35.61v0.5M159.7 33.7v0.5M173.32 36.33v0.5" stroke="#7a5aa0" stroke-width="2" stroke-linecap="round"/>
<path d="M204.59 38.04v0.5M182.57 35.5v0.5" stroke="#7a5aa0" stroke-width="1.7" stroke-linecap="round"/>
<path d="M203.29 36.58v0.5M150.18 34.1v0.5" stroke="#b070b8" stroke-width="2" stroke-linecap="round"/>
<path d="M154.94 33v0.5" stroke="#8a5aa8" stroke-width="1.7" stroke-linecap="round"/>
<path d="M207 37.22v0.5M166.42 34.56v0.5M164.24 33.6v0.5M204.05 37.19v0.5" stroke="#7a5aa0" stroke-width="1.4" stroke-linecap="round"/>
<path d="M206.47 38.86v0.2M201.97 35.89v0.2M209.89 37.56v0.2M194.01 40.74v0.2M167.92 35.48v0.2M191.8 42.19v0.2M180.42 34.44v0.2" stroke="#9a5aa8" stroke-width="1.1" stroke-linecap="round"/>
<path d="M150.42 33.3v0.2M171.47 38.94v0.2M177.07 40.75v0.2M190 35.91v0.2M176.44 33.83v0.2" stroke="#7a4aa0" stroke-width="1.1" stroke-linecap="round"/>
<path d="M179.42 40.11v0M167.92 42.8v0M154.18 40.87v0M163.12 41.37v0M173.94 46.39v0M198.77 46.99v0M163.03 41.1v0M169.41 41.83v0M149.88 43.08v0M166.6 45.91v0M190.95 42.08v0M163.33 44.74v0M168.98 39.19v0M157.88 42.9v0M192.45 44.06v0M198.87 40.61v0M184.47 46.98v0M169.1 43.84v0M208.68 45.53v0M212.81 38.4v0M182.33 43.26v0M211.25 46.16v0M159.55 39.8v0M201.87 42.36v0M181.57 46.01v0M191.29 42.18v0M179.85 41.3v0M206.14 42.46v0M156.56 45.44v0M148.39 46.18v0M147.58 46.85v0M157.38 46.47v0M197.52 39.6v0M153.46 38.24v0M188.03 38.72v0M193.12 43.09v0M167.53 46.68v0M180.58 40.4v0M149.66 40.34v0M191 38.72v0" stroke="#f4a8bc" stroke-width="0.9" stroke-linecap="round"/>
<path d="M206.66 79.05v0M202.92 80.38v0M150.09 77.9v0M147.19 78.15v0M169.08 78.69v0M154.2 78v0" stroke="#c07090" stroke-width="1.2" stroke-linecap="round"/>
<path d="M153.5 80.99v0M155.4 80.62v0M209.4 78.02v0M194.73 81.45v0M193.5 81.29v0M163.53 79.68v0M176.17 79.92v0M176.26 79.66v0M185.16 78.92v0M212.99 78.78v0" stroke="#1a0a10" stroke-width="1.2" stroke-linecap="round"/>
<path d="M163.44 78.79v0M200.31 80.64v0M168.56 80.21v0M209.99 79.62v0M160.93 79.36v0M179.53 80.92v0M178.96 81.3v0M173.68 77.72v0M210.28 79.53v0M167.51 78.6v0M188.12 79.14v0" stroke="#1a0a10" stroke-width="0.9" stroke-linecap="round"/>
<path d="M192.77 78.91v0M201.82 81.13v0M149.19 79.28v0M150.91 78.56v0M195.44 78.59v0M203.35 77.1v0M178.03 81.73v0" stroke="#c07090" stroke-width="0.9" stroke-linecap="round"/>
<path d="M192.28 78.54v0M164.74 81.07v0M210.32 78.4v0M205.66 79.35v0M183.56 79.83v0" stroke="#d8a8b8" stroke-width="0.9" stroke-linecap="round"/>
<path d="M180.44 81.13v0M175.53 76.96v0M174.84 80.91v0M159.76 77.25v0M191.48 77.78v0M164.35 78.21v0" stroke="#8a4a6a" stroke-width="1.2" stroke-linecap="round"/>
<path d="M178.63 78.15v0M209.93 78.86v0M183.29 77.68v0M193.16 77.46v0" stroke="#8a4a6a" stroke-width="0.9" stroke-linecap="round"/>
<path d="M151.95 81.5v0M180.12 78.05v0M179.49 81.27v0M205.17 78.86v0M206.83 78.43v0M148.27 81.55v0" stroke="#d8a8b8" stroke-width="1.2" stroke-linecap="round"/>
<path d="M187.13 79.51v0M198.91 79.94v0" stroke="#6a3a80" stroke-width="0.9" stroke-linecap="round"/>
<path d="M181.62 78.56v0M155.37 78.6v0M156.36 80.25v0" stroke="#6a3a80" stroke-width="1.2" stroke-linecap="round"/>
<ellipse cx="184" cy="81.2" rx="6" ry="1.6" fill="#f4d4dc"/>
</g></g>
<rect x="201.5" y="17.8" width="10.6" height="1.2" fill="#000"/>
<line x1="244.9" y1="12" x2="244.9" y2="77.5" stroke="#000" stroke-width="0.85"/>
<line x1="244.9" y1="77.1" x2="339.6" y2="77.1" stroke="#000" stroke-width="0.85"/>
<line x1="242.7" y1="77.1" x2="244.9" y2="77.1" stroke="#000" stroke-width="0.6"/>
<text x="242" y="78.6" font-size="4.3" text-anchor="end" stroke="#000" stroke-width="0.08">0</text>
<line x1="242.7" y1="64.1" x2="244.9" y2="64.1" stroke="#000" stroke-width="0.6"/>
<text x="242" y="65.6" font-size="4.3" text-anchor="end" stroke="#000" stroke-width="0.08">20</text>
<line x1="242.7" y1="51.1" x2="244.9" y2="51.1" stroke="#000" stroke-width="0.6"/>
<text x="242" y="52.6" font-size="4.3" text-anchor="end" stroke="#000" stroke-width="0.08">40</text>
<line x1="242.7" y1="38.1" x2="244.9" y2="38.1" stroke="#000" stroke-width="0.6"/>
<text x="242" y="39.6" font-size="4.3" text-anchor="end" stroke="#000" stroke-width="0.08">60</text>
<line x1="242.7" y1="25.1" x2="244.9" y2="25.1" stroke="#000" stroke-width="0.6"/>
<text x="242" y="26.6" font-size="4.3" text-anchor="end" stroke="#000" stroke-width="0.08">80</text>
<line x1="242.7" y1="12.1" x2="244.9" y2="12.1" stroke="#000" stroke-width="0.6"/>
<text x="242" y="13.6" font-size="4.3" text-anchor="end" stroke="#000" stroke-width="0.08">100</text>
<line x1="250.8" y1="77.1" x2="250.8" y2="78.9" stroke="#000" stroke-width="0.6"/>
<text x="250.8" y="85" font-size="4.2" text-anchor="middle" stroke="#000" stroke-width="0.08">2</text>
<line x1="261.25" y1="77.1" x2="261.25" y2="78.9" stroke="#000" stroke-width="0.6"/>
<text x="261.25" y="85" font-size="4.2" text-anchor="middle" stroke="#000" stroke-width="0.08">1.5</text>
<line x1="271.7" y1="77.1" x2="271.7" y2="78.9" stroke="#000" stroke-width="0.6"/>
<text x="271.7" y="85" font-size="4.2" text-anchor="middle" stroke="#000" stroke-width="0.08">1</text>
<line x1="282.15" y1="77.1" x2="282.15" y2="78.9" stroke="#000" stroke-width="0.6"/>
<text x="282.15" y="85" font-size="4.2" text-anchor="middle" stroke="#000" stroke-width="0.08">0.5</text>
<line x1="292.6" y1="77.1" x2="292.6" y2="78.9" stroke="#000" stroke-width="0.6"/>
<text x="292.6" y="85" font-size="4.2" text-anchor="middle" stroke="#000" stroke-width="0.08">0</text>
<line x1="303.05" y1="77.1" x2="303.05" y2="78.9" stroke="#000" stroke-width="0.6"/>
<text x="303.05" y="85" font-size="4.2" text-anchor="middle" stroke="#000" stroke-width="0.08">0.5</text>
<line x1="313.5" y1="77.1" x2="313.5" y2="78.9" stroke="#000" stroke-width="0.6"/>
<text x="313.5" y="85" font-size="4.2" text-anchor="middle" stroke="#000" stroke-width="0.08">1</text>
<line x1="323.95" y1="77.1" x2="323.95" y2="78.9" stroke="#000" stroke-width="0.6"/>
<text x="323.95" y="85" font-size="4.2" text-anchor="middle" stroke="#000" stroke-width="0.08">1.5</text>
<line x1="334.4" y1="77.1" x2="334.4" y2="78.9" stroke="#000" stroke-width="0.6"/>
<text x="334.4" y="85" font-size="4.2" text-anchor="middle" stroke="#000" stroke-width="0.08">2</text>
<text x="292.6" y="91.6" font-size="4.3" text-anchor="middle" textLength="36" lengthAdjust="spacingAndGlyphs" stroke="#000" stroke-width="0.08">Distance from ONH</text>
<text x="233" y="44.7" font-size="4.3" text-anchor="middle" textLength="36" lengthAdjust="spacingAndGlyphs" transform="rotate(-90 233 44.7)" stroke="#000" stroke-width="0.08">ONL thickness (µM)</text>
<line x1="250.8" y1="51.75" x2="250.8" y2="54.35" stroke="#fbd8a8" stroke-width="0.5"/>
<line x1="250" y1="51.75" x2="251.6" y2="51.75" stroke="#fbd8a8" stroke-width="0.4"/>
<line x1="250" y1="54.35" x2="251.6" y2="54.35" stroke="#fbd8a8" stroke-width="0.4"/>
<line x1="261.25" y1="48.5" x2="261.25" y2="51.1" stroke="#fbd8a8" stroke-width="0.5"/>
<line x1="260.45" y1="48.5" x2="262.05" y2="48.5" stroke="#fbd8a8" stroke-width="0.4"/>
<line x1="260.45" y1="51.1" x2="262.05" y2="51.1" stroke="#fbd8a8" stroke-width="0.4"/>
<line x1="271.7" y1="44.6" x2="271.7" y2="47.2" stroke="#fbd8a8" stroke-width="0.5"/>
<line x1="270.9" y1="44.6" x2="272.5" y2="44.6" stroke="#fbd8a8" stroke-width="0.4"/>
<line x1="270.9" y1="47.2" x2="272.5" y2="47.2" stroke="#fbd8a8" stroke-width="0.4"/>
<line x1="282.15" y1="41.35" x2="282.15" y2="43.95" stroke="#fbd8a8" stroke-width="0.5"/>
<line x1="281.35" y1="41.35" x2="282.95" y2="41.35" stroke="#fbd8a8" stroke-width="0.4"/>
<line x1="281.35" y1="43.95" x2="282.95" y2="43.95" stroke="#fbd8a8" stroke-width="0.4"/>
<line x1="303.05" y1="40.05" x2="303.05" y2="42.65" stroke="#fbd8a8" stroke-width="0.5"/>
<line x1="302.25" y1="40.05" x2="303.85" y2="40.05" stroke="#fbd8a8" stroke-width="0.4"/>
<line x1="302.25" y1="42.65" x2="303.85" y2="42.65" stroke="#fbd8a8" stroke-width="0.4"/>
<line x1="313.5" y1="43.3" x2="313.5" y2="47.2" stroke="#fbd8a8" stroke-width="0.5"/>
<line x1="312.7" y1="43.3" x2="314.3" y2="43.3" stroke="#fbd8a8" stroke-width="0.4"/>
<line x1="312.7" y1="47.2" x2="314.3" y2="47.2" stroke="#fbd8a8" stroke-width="0.4"/>
<line x1="323.95" y1="45.05" x2="323.95" y2="47.65" stroke="#fbd8a8" stroke-width="0.5"/>
<line x1="323.15" y1="45.05" x2="324.75" y2="45.05" stroke="#fbd8a8" stroke-width="0.4"/>
<line x1="323.15" y1="47.65" x2="324.75" y2="47.65" stroke="#fbd8a8" stroke-width="0.4"/>
<line x1="334.4" y1="47.59" x2="334.4" y2="50.19" stroke="#fbd8a8" stroke-width="0.5"/>
<line x1="333.6" y1="47.59" x2="335.2" y2="47.59" stroke="#fbd8a8" stroke-width="0.4"/>
<line x1="333.6" y1="50.19" x2="335.2" y2="50.19" stroke="#fbd8a8" stroke-width="0.4"/>
<polyline points="250.8,53.05 261.25,49.8 271.7,45.9 282.15,42.65 292.6,77.1 303.05,41.35 313.5,45.25 323.95,46.35 334.4,48.89" fill="none" stroke="#f6b46a" stroke-width="0.6"/>
<circle cx="250.8" cy="53.05" r="1" fill="#f6b46a"/>
<circle cx="261.25" cy="49.8" r="1" fill="#f6b46a"/>
<circle cx="271.7" cy="45.9" r="1" fill="#f6b46a"/>
<circle cx="282.15" cy="42.65" r="1" fill="#f6b46a"/>
<circle cx="292.6" cy="77.1" r="1" fill="#f6b46a"/>
<circle cx="303.05" cy="41.35" r="1" fill="#f6b46a"/>
<circle cx="313.5" cy="45.25" r="1" fill="#f6b46a"/>
<circle cx="323.95" cy="46.35" r="1" fill="#f6b46a"/>
<circle cx="334.4" cy="48.89" r="1" fill="#f6b46a"/>
<line x1="250.8" y1="52.4" x2="250.8" y2="55" stroke="#a8d0d8" stroke-width="0.5"/>
<line x1="250" y1="52.4" x2="251.6" y2="52.4" stroke="#a8d0d8" stroke-width="0.4"/>
<line x1="250" y1="55" x2="251.6" y2="55" stroke="#a8d0d8" stroke-width="0.4"/>
<line x1="261.25" y1="51.75" x2="261.25" y2="54.35" stroke="#a8d0d8" stroke-width="0.5"/>
<line x1="260.45" y1="51.75" x2="262.05" y2="51.75" stroke="#a8d0d8" stroke-width="0.4"/>
<line x1="260.45" y1="54.35" x2="262.05" y2="54.35" stroke="#a8d0d8" stroke-width="0.4"/>
<line x1="271.7" y1="48.5" x2="271.7" y2="53.7" stroke="#a8d0d8" stroke-width="0.5"/>
<line x1="270.9" y1="48.5" x2="272.5" y2="48.5" stroke="#a8d0d8" stroke-width="0.4"/>
<line x1="270.9" y1="53.7" x2="272.5" y2="53.7" stroke="#a8d0d8" stroke-width="0.4"/>
<line x1="282.15" y1="46.55" x2="282.15" y2="50.45" stroke="#a8d0d8" stroke-width="0.5"/>
<line x1="281.35" y1="46.55" x2="282.95" y2="46.55" stroke="#a8d0d8" stroke-width="0.4"/>
<line x1="281.35" y1="50.45" x2="282.95" y2="50.45" stroke="#a8d0d8" stroke-width="0.4"/>
<line x1="303.05" y1="43.3" x2="303.05" y2="45.9" stroke="#a8d0d8" stroke-width="0.5"/>
<line x1="302.25" y1="43.3" x2="303.85" y2="43.3" stroke="#a8d0d8" stroke-width="0.4"/>
<line x1="302.25" y1="45.9" x2="303.85" y2="45.9" stroke="#a8d0d8" stroke-width="0.4"/>
<line x1="313.5" y1="47.65" x2="313.5" y2="51.55" stroke="#a8d0d8" stroke-width="0.5"/>
<line x1="312.7" y1="47.65" x2="314.3" y2="47.65" stroke="#a8d0d8" stroke-width="0.4"/>
<line x1="312.7" y1="51.55" x2="314.3" y2="51.55" stroke="#a8d0d8" stroke-width="0.4"/>
<line x1="323.95" y1="46.09" x2="323.95" y2="49.99" stroke="#a8d0d8" stroke-width="0.5"/>
<line x1="323.15" y1="46.09" x2="324.75" y2="46.09" stroke="#a8d0d8" stroke-width="0.4"/>
<line x1="323.15" y1="49.99" x2="324.75" y2="49.99" stroke="#a8d0d8" stroke-width="0.4"/>
<line x1="334.4" y1="47.2" x2="334.4" y2="51.1" stroke="#a8d0d8" stroke-width="0.5"/>
<line x1="333.6" y1="47.2" x2="335.2" y2="47.2" stroke="#a8d0d8" stroke-width="0.4"/>
<line x1="333.6" y1="51.1" x2="335.2" y2="51.1" stroke="#a8d0d8" stroke-width="0.4"/>
<polyline points="250.8,53.7 261.25,53.05 271.7,51.1 282.15,48.5 292.6,77.1 303.05,44.6 313.5,49.6 323.95,48.04 334.4,49.15" fill="none" stroke="#1b7a8a" stroke-width="0.6"/>
<circle cx="250.8" cy="53.7" r="1" fill="#1b7a8a"/>
<circle cx="261.25" cy="53.05" r="1" fill="#1b7a8a"/>
<circle cx="271.7" cy="51.1" r="1" fill="#1b7a8a"/>
<circle cx="282.15" cy="48.5" r="1" fill="#1b7a8a"/>
<circle cx="292.6" cy="77.1" r="1" fill="#1b7a8a"/>
<circle cx="303.05" cy="44.6" r="1" fill="#1b7a8a"/>
<circle cx="313.5" cy="49.6" r="1" fill="#1b7a8a"/>
<circle cx="323.95" cy="48.04" r="1" fill="#1b7a8a"/>
<circle cx="334.4" cy="49.15" r="1" fill="#1b7a8a"/>
<line x1="250.8" y1="50.45" x2="250.8" y2="54.35" stroke="#f4a0a8" stroke-width="0.5"/>
<line x1="250" y1="50.45" x2="251.6" y2="50.45" stroke="#f4a0a8" stroke-width="0.4"/>
<line x1="250" y1="54.35" x2="251.6" y2="54.35" stroke="#f4a0a8" stroke-width="0.4"/>
<line x1="261.25" y1="47.2" x2="261.25" y2="49.8" stroke="#f4a0a8" stroke-width="0.5"/>
<line x1="260.45" y1="47.2" x2="262.05" y2="47.2" stroke="#f4a0a8" stroke-width="0.4"/>
<line x1="260.45" y1="49.8" x2="262.05" y2="49.8" stroke="#f4a0a8" stroke-width="0.4"/>
<line x1="271.7" y1="43.3" x2="271.7" y2="45.9" stroke="#f4a0a8" stroke-width="0.5"/>
<line x1="270.9" y1="43.3" x2="272.5" y2="43.3" stroke="#f4a0a8" stroke-width="0.4"/>
<line x1="270.9" y1="45.9" x2="272.5" y2="45.9" stroke="#f4a0a8" stroke-width="0.4"/>
<line x1="282.15" y1="43.95" x2="282.15" y2="46.55" stroke="#f4a0a8" stroke-width="0.5"/>
<line x1="281.35" y1="43.95" x2="282.95" y2="43.95" stroke="#f4a0a8" stroke-width="0.4"/>
<line x1="281.35" y1="46.55" x2="282.95" y2="46.55" stroke="#f4a0a8" stroke-width="0.4"/>
<line x1="303.05" y1="39.4" x2="303.05" y2="44.6" stroke="#f4a0a8" stroke-width="0.5"/>
<line x1="302.25" y1="39.4" x2="303.85" y2="39.4" stroke="#f4a0a8" stroke-width="0.4"/>
<line x1="302.25" y1="44.6" x2="303.85" y2="44.6" stroke="#f4a0a8" stroke-width="0.4"/>
<line x1="313.5" y1="46.87" x2="313.5" y2="50.77" stroke="#f4a0a8" stroke-width="0.5"/>
<line x1="312.7" y1="46.87" x2="314.3" y2="46.87" stroke="#f4a0a8" stroke-width="0.4"/>
<line x1="312.7" y1="50.77" x2="314.3" y2="50.77" stroke="#f4a0a8" stroke-width="0.4"/>
<line x1="323.95" y1="49.15" x2="323.95" y2="55.65" stroke="#f4a0a8" stroke-width="0.5"/>
<line x1="323.15" y1="49.15" x2="324.75" y2="49.15" stroke="#f4a0a8" stroke-width="0.4"/>
<line x1="323.15" y1="55.65" x2="324.75" y2="55.65" stroke="#f4a0a8" stroke-width="0.4"/>
<line x1="334.4" y1="52.01" x2="334.4" y2="55.91" stroke="#f4a0a8" stroke-width="0.5"/>
<line x1="333.6" y1="52.01" x2="335.2" y2="52.01" stroke="#f4a0a8" stroke-width="0.4"/>
<line x1="333.6" y1="55.91" x2="335.2" y2="55.91" stroke="#f4a0a8" stroke-width="0.4"/>
<polyline points="250.8,52.4 261.25,48.5 271.7,44.6 282.15,45.25 292.6,77.1 303.05,42 313.5,48.82 323.95,52.4 334.4,53.96" fill="none" stroke="#ef5566" stroke-width="0.6"/>
<circle cx="250.8" cy="52.4" r="1" fill="#ef5566"/>
<circle cx="261.25" cy="48.5" r="1" fill="#ef5566"/>
<circle cx="271.7" cy="44.6" r="1" fill="#ef5566"/>
<circle cx="282.15" cy="45.25" r="1" fill="#ef5566"/>
<circle cx="292.6" cy="77.1" r="1" fill="#ef5566"/>
<circle cx="303.05" cy="42" r="1" fill="#ef5566"/>
<circle cx="313.5" cy="48.82" r="1" fill="#ef5566"/>
<circle cx="323.95" cy="52.4" r="1" fill="#ef5566"/>
<circle cx="334.4" cy="53.96" r="1" fill="#ef5566"/>
<line x1="250.3" y1="13.3" x2="257.5" y2="13.3" stroke="#f4a0a8" stroke-width="0.6"/>
<circle cx="254" cy="13.3" r="1" fill="#ef5566"/>
<line x1="250.3" y1="19.2" x2="257.5" y2="19.2" stroke="#a8d0d8" stroke-width="0.6"/>
<circle cx="254" cy="19.2" r="1" fill="#1b7a8a"/>
<line x1="250.3" y1="25.3" x2="257.5" y2="25.3" stroke="#fbd8a8" stroke-width="0.6"/>
<circle cx="254" cy="25.3" r="1" fill="#f6b46a"/>
<text x="261" y="14.8" font-size="4.3" textLength="17.5" lengthAdjust="spacingAndGlyphs" stroke="#000" stroke-width="0.08">untreated</text>
<text x="261" y="20.7" font-size="4.3" textLength="27.2" lengthAdjust="spacingAndGlyphs" stroke="#000" stroke-width="0.08">scAAV8.TCT-1</text>
<text x="261" y="26.8" font-size="4.3" textLength="25.5" lengthAdjust="spacingAndGlyphs" stroke="#000" stroke-width="0.08">scAAV8.A4T1</text>
<text x="5.6" y="109" font-size="11" font-weight="bold">b</text>
<text x="46" y="113.6" font-size="5.7" textLength="73.5" lengthAdjust="spacingAndGlyphs" stroke="#000" stroke-width="0.1">scAAV8.A4T1 vs untreated</text>
<rect x="15.4" y="118" width="139" height="99.4" fill="none" stroke="#b8b8b8" stroke-width="0.7"/>
<line x1="78.7" y1="118" x2="78.7" y2="217.4" stroke="#bbb" stroke-width="0.45" stroke-dasharray="0.8 1.4"/>
<line x1="90.4" y1="118" x2="90.4" y2="217.4" stroke="#bbb" stroke-width="0.45" stroke-dasharray="0.8 1.4"/>
<line x1="15.4" y1="211" x2="154.4" y2="211" stroke="#bbb" stroke-width="0.45" stroke-dasharray="0.8 1.4"/>
<path d="M42 211.6 Q60 210.8 74 210 Q77.5 208.5 78.6 205 Q79.4 204.2 80.2 205.5 Q81.5 210 84.5 211.9 Q87.5 210 88.9 205.5 Q89.7 204.3 90.5 205.2 Q91.5 208.8 94 210.2 Q105 210.5 115 210.8 L115 213.1 L42 213.1 Z" fill="#9a9a9a"/>
<path d="M59.1 122.4h0M48.9 171.6h0M67.4 176.6h0M71.2 175h0M62.6 181h0M72.7 181.3h0M63 187.9h0M71.2 188.3h0M45.2 191.9h0M29.2 201.8h0M57.4 199.8h0M63.2 201.5h0M34.4 209.9h0M40.2 207.3h0M49.4 206.6h0M55.6 207.6h0M71.97 205.63h0M78.2 204.92h0M72.7 204.9h0M68.44 207.56h0M74.31 200.28h0M67.24 209.41h0M67.2 205.31h0M75.15 210.4h0M78.96 191.85h0M74.63 203.53h0M68.08 210.49h0M72.97 210.35h0M68.51 209.61h0M66.4 208.62h0M71.82 201.25h0M72.85 204h0M72.6 203.78h0M72.04 208.9h0M79.17 190.67h0M77.09 200.28h0M70.16 209.51h0M69.82 210.36h0M76.12 206.63h0M77.17 206.6h0M78.65 195.61h0M66.01 210.01h0M78.02 204.9h0M78.94 205.99h0M66.96 207.15h0M76.28 208.42h0M67.15 209.26h0M78.73 197.98h0M67.56 209.69h0M67.33 210.42h0M76.52 209.42h0M73.38 206.68h0M68.52 205.24h0M67.73 206.63h0M67.54 208.59h0M68.81 209.4h0M78.82 196.7h0M70.01 202.07h0M68.78 208.48h0M77.28 201.66h0M67.32 203.22h0M68.81 209.47h0M76.2 207.66h0M69.91 210.34h0M67.19 207.44h0M69.21 206.33h0M70.91 207.34h0M78.66 204.42h0M73.58 199.33h0M68.41 210.07h0M77.99 196.93h0M69.29 209.84h0M75.76 195.68h0M68.59 202.44h0M77.64 202.32h0M71.56 210.18h0M66.51 204.34h0M69.15 205.17h0M69.39 203.46h0M73.87 208.48h0M68.32 205.5h0M66.91 209.84h0M73.38 199.79h0M74.11 208.59h0M78.11 209.02h0M66.22 209.74h0M71.88 210.36h0M68.33 208.78h0M73.55 209.95h0M70.78 201.3h0M78.94 200.43h0M75.12 203.86h0M67.85 210.46h0M66.24 205.12h0M75.25 195.62h0M66.28 207.45h0M72.37 202.78h0M70.21 200.05h0M66.99 207.82h0M75.73 196.71h0M75.73 201.2h0M76.47 195.66h0M70.64 204.53h0M77.89 195.58h0M71.51 202.37h0M77.4 203.08h0M74.25 207.33h0M73.69 204.1h0M67.06 207.02h0M79.11 194.28h0M75.61 206.93h0M61.11 209.11h0M53.45 207.29h0M44.18 207.99h0M42.77 208.99h0M54.5 210.53h0M60.16 209.56h0M57.98 206.56h0M48.65 210.8h0M49.83 208.5h0M47.27 210.66h0M65.55 208.62h0M53.49 206.82h0M50.5 208.58h0M47.16 209.87h0M62.96 206.62h0M64.89 210.06h0M57.16 210.3h0M45.54 209.57h0M63.76 207.2h0M60.49 206.29h0M49.2 210.66h0M53.72 210.42h0M47.57 209.94h0M58.27 209.58h0M50.2 207.28h0M67.53 209.78h0M43.94 210.8h0M64.69 210.79h0" stroke="#14996a" stroke-width="1.8" stroke-linecap="round"/>
<path d="M151.7 158h0M131.8 171.4h0M119 203.6h0M121.4 209h0M145.2 205h0M103 209.5h0M106 209h0M108.5 208.5h0M111.5 209.6h0M95 209.8h0M98 209h0M92 207.8h0M93.5 209.5h0M100 210.3h0M113.5 208.2h0" stroke="#d0103a" stroke-width="1.8" stroke-linecap="round"/>
<text x="13" y="212.4" font-size="2.8" text-anchor="middle" fill="#555" transform="rotate(-90 13 212.4)" stroke="#555" stroke-width="0.05">0</text>
<line x1="14.6" y1="212.4" x2="15.4" y2="212.4" stroke="#999" stroke-width="0.4"/>
<text x="13" y="188.3" font-size="2.8" text-anchor="middle" fill="#555" transform="rotate(-90 13 188.3)" stroke="#555" stroke-width="0.05">20</text>
<line x1="14.6" y1="188.3" x2="15.4" y2="188.3" stroke="#999" stroke-width="0.4"/>
<text x="13" y="164" font-size="2.8" text-anchor="middle" fill="#555" transform="rotate(-90 13 164)" stroke="#555" stroke-width="0.05">40</text>
<line x1="14.6" y1="164" x2="15.4" y2="164" stroke="#999" stroke-width="0.4"/>
<text x="13" y="139.5" font-size="2.8" text-anchor="middle" fill="#555" transform="rotate(-90 13 139.5)" stroke="#555" stroke-width="0.05">60</text>
<line x1="14.6" y1="139.5" x2="15.4" y2="139.5" stroke="#999" stroke-width="0.4"/>
<text x="27.1" y="220.2" font-size="2.6" text-anchor="middle" fill="#555" stroke="#555" stroke-width="0.05">-10</text>
<line x1="27.1" y1="217.4" x2="27.1" y2="218.2" stroke="#999" stroke-width="0.4"/>
<text x="56" y="220.2" font-size="2.6" text-anchor="middle" fill="#555" stroke="#555" stroke-width="0.05">-5</text>
<line x1="56" y1="217.4" x2="56" y2="218.2" stroke="#999" stroke-width="0.4"/>
<text x="84.5" y="220.2" font-size="2.6" text-anchor="middle" fill="#555" stroke="#555" stroke-width="0.05">0</text>
<line x1="84.5" y1="217.4" x2="84.5" y2="218.2" stroke="#999" stroke-width="0.4"/>
<text x="113.6" y="220.2" font-size="2.6" text-anchor="middle" fill="#555" stroke="#555" stroke-width="0.05">5</text>
<line x1="113.6" y1="217.4" x2="113.6" y2="218.2" stroke="#999" stroke-width="0.4"/>
<text x="142.7" y="220.2" font-size="2.6" text-anchor="middle" fill="#555" stroke="#555" stroke-width="0.05">10</text>
<line x1="142.7" y1="217.4" x2="142.7" y2="218.2" stroke="#999" stroke-width="0.4"/>
<text x="85.5" y="223.8" font-size="3.9" text-anchor="middle" fill="#222" stroke="#222" stroke-width="0.07" textLength="28" lengthAdjust="spacingAndGlyphs">Log<tspan font-size="2.4" dy="0.8">2</tspan><tspan dy="-0.8"> fold change</tspan></text>
<text x="8" y="167.2" font-size="3.9" text-anchor="middle" fill="#222" stroke="#222" stroke-width="0.07" transform="rotate(-90 8 167.2)" textLength="25" lengthAdjust="spacingAndGlyphs">−Log<tspan font-size="2.4" dy="0.8">10</tspan><tspan dy="-0.8"> P.value</tspan></text>
<text x="164" y="109.4" font-size="11" font-weight="bold">c</text>
<text x="263.1" y="113" font-size="5" textLength="55.5" lengthAdjust="spacingAndGlyphs" stroke="#000" stroke-width="0.09">scAAV8.A4T1 vs untreated</text>
<text x="257.2" y="124.87" font-size="5.2" text-anchor="end" textLength="79.4" lengthAdjust="spacingAndGlyphs" stroke="#000" stroke-width="0.09">lens development in camera-type eye</text>
<line x1="258.2" y1="123" x2="259.8" y2="123" stroke="#000" stroke-width="0.5"/>
<text x="257.2" y="134.42" font-size="5.2" text-anchor="end" textLength="68.9" lengthAdjust="spacingAndGlyphs" stroke="#000" stroke-width="0.09">structural constituent of eye lens</text>
<line x1="258.2" y1="132.55" x2="259.8" y2="132.55" stroke="#000" stroke-width="0.5"/>
<text x="257.2" y="143.97" font-size="5.2" text-anchor="end" textLength="36.2" lengthAdjust="spacingAndGlyphs" stroke="#000" stroke-width="0.09">visual perception</text>
<line x1="258.2" y1="142.1" x2="259.8" y2="142.1" stroke="#000" stroke-width="0.5"/>
<text x="257.2" y="153.52" font-size="5.2" text-anchor="end" textLength="37" lengthAdjust="spacingAndGlyphs" stroke="#000" stroke-width="0.09">eye development</text>
<line x1="258.2" y1="151.65" x2="259.8" y2="151.65" stroke="#000" stroke-width="0.5"/>
<text x="257.2" y="163.07" font-size="5.2" text-anchor="end" textLength="94" lengthAdjust="spacingAndGlyphs" stroke="#000" stroke-width="0.09">cellular response to reactive oxygen species</text>
<line x1="258.2" y1="161.2" x2="259.8" y2="161.2" stroke="#000" stroke-width="0.5"/>
<text x="257.2" y="172.62" font-size="5.2" text-anchor="end" textLength="73.3" lengthAdjust="spacingAndGlyphs" stroke="#000" stroke-width="0.09">external side of plasma membrane</text>
<line x1="258.2" y1="170.75" x2="259.8" y2="170.75" stroke="#000" stroke-width="0.5"/>
<text x="257.2" y="182.17" font-size="5.2" text-anchor="end" textLength="40" lengthAdjust="spacingAndGlyphs" stroke="#000" stroke-width="0.09">extracellular space</text>
<line x1="258.2" y1="180.3" x2="259.8" y2="180.3" stroke="#000" stroke-width="0.5"/>
<text x="257.2" y="191.72" font-size="5.2" text-anchor="end" textLength="52.9" lengthAdjust="spacingAndGlyphs" stroke="#000" stroke-width="0.09">innate immune response</text>
<line x1="258.2" y1="189.85" x2="259.8" y2="189.85" stroke="#000" stroke-width="0.5"/>
<text x="257.2" y="201.27" font-size="5.2" text-anchor="end" textLength="54.6" lengthAdjust="spacingAndGlyphs" stroke="#000" stroke-width="0.09">phagocytosis, engulfment</text>
<line x1="258.2" y1="199.4" x2="259.8" y2="199.4" stroke="#000" stroke-width="0.5"/>
<text x="257.2" y="210.82" font-size="5.2" text-anchor="end" textLength="51.7" lengthAdjust="spacingAndGlyphs" stroke="#000" stroke-width="0.09">immune system process</text>
<line x1="258.2" y1="208.95" x2="259.8" y2="208.95" stroke="#000" stroke-width="0.5"/>
<rect x="297.4" y="119.2" width="21.17" height="7.6" fill="#f7878d"/>
<rect x="297.4" y="128.75" width="20.92" height="7.6" fill="#f7878d"/>
<rect x="297.4" y="138.3" width="18.27" height="7.6" fill="#f7878d"/>
<rect x="297.4" y="147.85" width="12.22" height="7.6" fill="#f7878d"/>
<rect x="297.4" y="157.4" width="7.43" height="7.6" fill="#f7878d"/>
<rect x="263" y="166.95" width="34.4" height="7.6" fill="#7db0c9"/>
<rect x="274.85" y="176.5" width="22.55" height="7.6" fill="#7db0c9"/>
<rect x="277.87" y="186.05" width="19.53" height="7.6" fill="#7db0c9"/>
<rect x="279" y="195.6" width="18.4" height="7.6" fill="#7db0c9"/>
<rect x="279.51" y="205.15" width="17.89" height="7.6" fill="#7db0c9"/>
<rect x="259.8" y="117.2" width="62.8" height="96.7" fill="none" stroke="#222" stroke-width="0.75"/>
<line x1="297.4" y1="117.2" x2="297.4" y2="213.9" stroke="#222" stroke-width="0.75"/>
<line x1="259.6" y1="213.9" x2="259.6" y2="215.3" stroke="#000" stroke-width="0.5"/>
<text x="259.6" y="221.6" font-size="4.4" text-anchor="middle" stroke="#000" stroke-width="0.08">30</text>
<line x1="272.2" y1="213.9" x2="272.2" y2="215.3" stroke="#000" stroke-width="0.5"/>
<text x="272.2" y="221.6" font-size="4.4" text-anchor="middle" stroke="#000" stroke-width="0.08">20</text>
<line x1="284.8" y1="213.9" x2="284.8" y2="215.3" stroke="#000" stroke-width="0.5"/>
<text x="284.8" y="221.6" font-size="4.4" text-anchor="middle" stroke="#000" stroke-width="0.08">10</text>
<line x1="297.4" y1="213.9" x2="297.4" y2="215.3" stroke="#000" stroke-width="0.5"/>
<text x="297.4" y="221.6" font-size="4.4" text-anchor="middle" stroke="#000" stroke-width="0.08">0</text>
<line x1="310" y1="213.9" x2="310" y2="215.3" stroke="#000" stroke-width="0.5"/>
<text x="310" y="221.6" font-size="4.4" text-anchor="middle" stroke="#000" stroke-width="0.08">10</text>
<line x1="322.6" y1="213.9" x2="322.6" y2="215.3" stroke="#000" stroke-width="0.5"/>
<text x="322.6" y="221.6" font-size="4.4" text-anchor="middle" stroke="#000" stroke-width="0.08">20</text>
<text x="291" y="228.2" font-size="4.4" text-anchor="middle" textLength="26.6" lengthAdjust="spacingAndGlyphs" stroke="#000" stroke-width="0.08">-log10 (FDR)</text>
<text x="327.4" y="122" font-size="4.6" stroke="#000" stroke-width="0.08">group</text>
<rect x="324.2" y="126" width="4.6" height="4.6" fill="#f7878d"/>
<rect x="324.2" y="133.3" width="4.6" height="4.6" fill="#7db0c9"/>
<text x="330.7" y="129.8" font-size="4.6" stroke="#000" stroke-width="0.08">up</text>
<text x="330.7" y="137.1" font-size="4.6" stroke="#000" stroke-width="0.08">down</text>
<text x="0" y="244.4" font-size="11" font-weight="bold">d</text>
<text x="33.1" y="247.8" font-size="5.7" textLength="87" lengthAdjust="spacingAndGlyphs" stroke="#000" stroke-width="0.1">scAAV8.A4T1 vs scAAV8.TCT-1</text>
<rect x="9.3" y="251.3" width="138.9" height="99.1" fill="none" stroke="#b8b8b8" stroke-width="0.7"/>
<line x1="72.6" y1="251.3" x2="72.6" y2="350.4" stroke="#bbb" stroke-width="0.45" stroke-dasharray="0.8 1.4"/>
<line x1="85.4" y1="251.3" x2="85.4" y2="350.4" stroke="#bbb" stroke-width="0.45" stroke-dasharray="0.8 1.4"/>
<line x1="9.3" y1="344.3" x2="148.2" y2="344.3" stroke="#bbb" stroke-width="0.45" stroke-dasharray="0.8 1.4"/>
<path d="M33 344.6 Q50 344.0 72 344.2 Q78 343.6 85 344.5 Q100 344.9 111 345.4 L111 346.6 L33 346.6 Z" fill="#9a9a9a"/>
<path d="M23.8 256h0M43.8 305.6h0M47 313.1h0M9.3 328.4h0M12.9 338.3h0M16.4 340h0M18.1 340h0M22.5 337.4h0M24 334.1h0M26.9 328.7h0M28 328.7h0M21.4 340.7h0M23 341.1h0M26.9 343.2h0M28 343h0M31.5 337.7h0M33.3 337.7h0M30.1 340.9h0M36.2 335.6h0M38.6 333.6h0M40.3 329.6h0M40.9 336.2h0M43 338.2h0M45 339.4h0M55.1 328.7h0M62.1 336h0M47 341h0M47.3 343h0M50.2 341.2h0M52.3 340.3h0M53.5 341h0M57.8 341h0M59 342.7h0M60.8 343h0M65.4 343.8h0M67.8 343.8h0M70.1 343.8h0M72.4 343.8h0M36 339.2h0M37.4 339.7h0M35 341h0M38.5 341.8h0M36.8 343.2h0M40.3 343.4h0M33.9 343h0M31 342.5h0M29 343.5h0M25 343.4h0" stroke="#14996a" stroke-width="1.8" stroke-linecap="round"/>
<path d="M88.8 343.5h0M96.9 343.2h0M107.5 342.7h0M118.2 343.5h0M144.1 339.5h0" stroke="#d0103a" stroke-width="1.8" stroke-linecap="round"/>
<text x="8.4" y="346" font-size="2.8" text-anchor="middle" fill="#555" transform="rotate(-90 8.4 346)" stroke="#555" stroke-width="0.05">0</text>
<line x1="8.5" y1="346" x2="9.3" y2="346" stroke="#999" stroke-width="0.4"/>
<text x="8.4" y="321.2" font-size="2.8" text-anchor="middle" fill="#555" transform="rotate(-90 8.4 321.2)" stroke="#555" stroke-width="0.05">20</text>
<line x1="8.5" y1="321.2" x2="9.3" y2="321.2" stroke="#999" stroke-width="0.4"/>
<text x="8.4" y="296.4" font-size="2.8" text-anchor="middle" fill="#555" transform="rotate(-90 8.4 296.4)" stroke="#555" stroke-width="0.05">40</text>
<line x1="8.5" y1="296.4" x2="9.3" y2="296.4" stroke="#999" stroke-width="0.4"/>
<text x="8.4" y="271.6" font-size="2.8" text-anchor="middle" fill="#555" transform="rotate(-90 8.4 271.6)" stroke="#555" stroke-width="0.05">60</text>
<line x1="8.5" y1="271.6" x2="9.3" y2="271.6" stroke="#999" stroke-width="0.4"/>
<text x="16.4" y="353.2" font-size="2.6" text-anchor="middle" fill="#555" stroke="#555" stroke-width="0.05">-10</text>
<line x1="16.4" y1="350.4" x2="16.4" y2="351.2" stroke="#999" stroke-width="0.4"/>
<text x="47.4" y="353.2" font-size="2.6" text-anchor="middle" fill="#555" stroke="#555" stroke-width="0.05">-5</text>
<line x1="47.4" y1="350.4" x2="47.4" y2="351.2" stroke="#999" stroke-width="0.4"/>
<text x="78.8" y="353.2" font-size="2.6" text-anchor="middle" fill="#555" stroke="#555" stroke-width="0.05">0</text>
<line x1="78.8" y1="350.4" x2="78.8" y2="351.2" stroke="#999" stroke-width="0.4"/>
<text x="110.2" y="353.2" font-size="2.6" text-anchor="middle" fill="#555" stroke="#555" stroke-width="0.05">5</text>
<line x1="110.2" y1="350.4" x2="110.2" y2="351.2" stroke="#999" stroke-width="0.4"/>
<text x="141.6" y="353.2" font-size="2.6" text-anchor="middle" fill="#555" stroke="#555" stroke-width="0.05">10</text>
<line x1="141.6" y1="350.4" x2="141.6" y2="351.2" stroke="#999" stroke-width="0.4"/>
<text x="78.5" y="356.8" font-size="3.9" text-anchor="middle" fill="#222" stroke="#222" stroke-width="0.07" textLength="28" lengthAdjust="spacingAndGlyphs">Log<tspan font-size="2.4" dy="0.8">2</tspan><tspan dy="-0.8"> fold change</tspan></text>
<text x="2.4" y="301" font-size="3.9" text-anchor="middle" fill="#222" stroke="#222" stroke-width="0.07" transform="rotate(-90 2.4 301)" textLength="27" lengthAdjust="spacingAndGlyphs">−Log<tspan font-size="2.4" dy="0.8">10</tspan><tspan dy="-0.8"> P.value</tspan></text>
<text x="158.4" y="245" font-size="11" font-weight="bold">e</text>
<text x="251.9" y="246.4" font-size="5" textLength="66" lengthAdjust="spacingAndGlyphs" stroke="#000" stroke-width="0.09">scAAV8.A4T1 vs scAAV8.TCT-1</text>
<text x="251" y="260.1" font-size="5" text-anchor="end" textLength="68.3" lengthAdjust="spacingAndGlyphs" stroke="#000" stroke-width="0.09">structural constituent of eye lens</text>
<line x1="252" y1="258.3" x2="253.6" y2="258.3" stroke="#000" stroke-width="0.5"/>
<text x="251" y="269.18" font-size="5" text-anchor="end" textLength="79" lengthAdjust="spacingAndGlyphs" stroke="#000" stroke-width="0.09">lens development in camera-type eye</text>
<line x1="252" y1="267.38" x2="253.6" y2="267.38" stroke="#000" stroke-width="0.5"/>
<text x="251" y="278.26" font-size="5" text-anchor="end" textLength="35.7" lengthAdjust="spacingAndGlyphs" stroke="#000" stroke-width="0.09">visual perception</text>
<line x1="252" y1="276.46" x2="253.6" y2="276.46" stroke="#000" stroke-width="0.5"/>
<text x="251" y="287.34" font-size="5" text-anchor="end" textLength="36.2" lengthAdjust="spacingAndGlyphs" stroke="#000" stroke-width="0.09">eye development</text>
<line x1="252" y1="285.54" x2="253.6" y2="285.54" stroke="#000" stroke-width="0.5"/>
<text x="251" y="293.52" font-size="5" text-anchor="end" textLength="88.7" lengthAdjust="spacingAndGlyphs" stroke="#000" stroke-width="0.09">negative regulation of vascular associated</text>
<text x="251" y="298.62" font-size="5" text-anchor="end" textLength="79" lengthAdjust="spacingAndGlyphs" stroke="#000" stroke-width="0.09">smooth muscle cell apoptotic process</text>
<line x1="252" y1="294.62" x2="253.6" y2="294.62" stroke="#000" stroke-width="0.5"/>
<text x="251" y="305.5" font-size="5" text-anchor="end" textLength="56.9" lengthAdjust="spacingAndGlyphs" stroke="#000" stroke-width="0.09">immunoglobulin production</text>
<line x1="252" y1="303.7" x2="253.6" y2="303.7" stroke="#000" stroke-width="0.5"/>
<text x="251" y="314.58" font-size="5" text-anchor="end" textLength="38.1" lengthAdjust="spacingAndGlyphs" stroke="#000" stroke-width="0.09">immune response</text>
<line x1="252" y1="312.78" x2="253.6" y2="312.78" stroke="#000" stroke-width="0.5"/>
<text x="251" y="323.66" font-size="5" text-anchor="end" textLength="68.8" lengthAdjust="spacingAndGlyphs" stroke="#000" stroke-width="0.09">immunoglobulin receptor binding</text>
<line x1="252" y1="321.86" x2="253.6" y2="321.86" stroke="#000" stroke-width="0.5"/>
<text x="251" y="332.74" font-size="5" text-anchor="end" textLength="32.3" lengthAdjust="spacingAndGlyphs" stroke="#000" stroke-width="0.09">antigen binding</text>
<line x1="252" y1="330.94" x2="253.6" y2="330.94" stroke="#000" stroke-width="0.5"/>
<text x="251" y="341.82" font-size="5" text-anchor="end" textLength="76.7" lengthAdjust="spacingAndGlyphs" stroke="#000" stroke-width="0.09">immunoglobulin complex, circulating</text>
<line x1="252" y1="340.02" x2="253.6" y2="340.02" stroke="#000" stroke-width="0.5"/>
<rect x="304.4" y="254.6" width="7.62" height="7.4" fill="#f7878d"/>
<rect x="304.4" y="263.68" width="6.86" height="7.4" fill="#f7878d"/>
<rect x="304.4" y="272.76" width="5.21" height="7.4" fill="#f7878d"/>
<rect x="304.4" y="281.84" width="3.56" height="7.4" fill="#f7878d"/>
<rect x="304.4" y="290.92" width="2.16" height="7.4" fill="#f7878d"/>
<rect x="258.81" y="300" width="45.59" height="7.4" fill="#7db0c9"/>
<rect x="263.51" y="309.08" width="40.89" height="7.4" fill="#7db0c9"/>
<rect x="269.35" y="318.16" width="35.05" height="7.4" fill="#7db0c9"/>
<rect x="270.49" y="327.24" width="33.91" height="7.4" fill="#7db0c9"/>
<rect x="270.87" y="336.32" width="33.53" height="7.4" fill="#7db0c9"/>
<rect x="253.6" y="249.9" width="63.1" height="97.3" fill="none" stroke="#222" stroke-width="0.75"/>
<line x1="304.4" y1="249.9" x2="304.4" y2="347.2" stroke="#222" stroke-width="0.75"/>
<line x1="253.6" y1="347.2" x2="253.6" y2="348.6" stroke="#000" stroke-width="0.5"/>
<text x="253.6" y="354.2" font-size="4.4" text-anchor="middle" stroke="#000" stroke-width="0.08">40</text>
<line x1="266.3" y1="347.2" x2="266.3" y2="348.6" stroke="#000" stroke-width="0.5"/>
<text x="266.3" y="354.2" font-size="4.4" text-anchor="middle" stroke="#000" stroke-width="0.08">30</text>
<line x1="279" y1="347.2" x2="279" y2="348.6" stroke="#000" stroke-width="0.5"/>
<text x="279" y="354.2" font-size="4.4" text-anchor="middle" stroke="#000" stroke-width="0.08">20</text>
<line x1="291.7" y1="347.2" x2="291.7" y2="348.6" stroke="#000" stroke-width="0.5"/>
<text x="291.7" y="354.2" font-size="4.4" text-anchor="middle" stroke="#000" stroke-width="0.08">10</text>
<line x1="304.4" y1="347.2" x2="304.4" y2="348.6" stroke="#000" stroke-width="0.5"/>
<text x="304.4" y="354.2" font-size="4.4" text-anchor="middle" stroke="#000" stroke-width="0.08">0</text>
<line x1="317.1" y1="347.2" x2="317.1" y2="348.6" stroke="#000" stroke-width="0.5"/>
<text x="317.1" y="354.2" font-size="4.4" text-anchor="middle" stroke="#000" stroke-width="0.08">10</text>
<text x="285.6" y="360.2" font-size="4.4" text-anchor="middle" textLength="27" lengthAdjust="spacingAndGlyphs" stroke="#000" stroke-width="0.08">-log10 (FDR)</text>
<text x="322.3" y="254" font-size="4.6" stroke="#000" stroke-width="0.08">group</text>
<rect x="318.3" y="257.2" width="4.6" height="4.6" fill="#f7878d"/>
<rect x="318.3" y="264.8" width="4.6" height="4.6" fill="#7db0c9"/>
<text x="324.8" y="261" font-size="4.6" stroke="#000" stroke-width="0.08">up</text>
<text x="324.8" y="268.6" font-size="4.6" stroke="#000" stroke-width="0.08">down</text>
<text x="361.6" y="8.3" font-size="11" font-weight="bold">f</text>
<circle cx="438.0" cy="55.9" r="25.9" fill="#a9a9a9" stroke="#555" stroke-width="0.4"/>
<circle cx="507.3" cy="55.9" r="51.5" fill="#9eabc3" stroke="#555" stroke-width="0.4"/>
<clipPath id="vc"><circle cx="438.0" cy="55.9" r="25.9"/></clipPath>
<circle cx="507.3" cy="55.9" r="51.5" fill="#8c98b4" clip-path="url(#vc)"/>
<circle cx="438.0" cy="55.9" r="25.9" fill="none" stroke="#555" stroke-width="0.4"/>
<text x="414" y="24.8" font-size="6.3" text-anchor="middle" textLength="74" lengthAdjust="spacingAndGlyphs" stroke="#000" stroke-width="0.1">Upregulated transcripts</text>
<text x="413.9" y="33.2" font-size="6.3" text-anchor="middle" textLength="20" lengthAdjust="spacingAndGlyphs" stroke="#000" stroke-width="0.1">n = 26</text>
<line x1="413.4" y1="34.5" x2="421.5" y2="43.4" stroke="#333" stroke-width="0.4"/>
<text x="512.2" y="56.1" font-size="6.3" text-anchor="middle" textLength="79.5" lengthAdjust="spacingAndGlyphs" stroke="#000" stroke-width="0.1">Putative NMD substrates</text>
<text x="512.2" y="64.6" font-size="6.3" text-anchor="middle" textLength="28.3" lengthAdjust="spacingAndGlyphs" stroke="#000" stroke-width="0.1">n = 1000</text>
<line x1="427.5" y1="91.8" x2="459.5" y2="56.6" stroke="#333" stroke-width="0.4"/>
<text x="424.4" y="100.2" font-size="6.3" text-anchor="middle" textLength="84" lengthAdjust="spacingAndGlyphs" stroke="#000" stroke-width="0.1">transcripts contaning UGA</text>
<text x="424.7" y="108.7" font-size="6.3" text-anchor="middle" textLength="68.6" lengthAdjust="spacingAndGlyphs" stroke="#000" stroke-width="0.1">as normal stop codon</text>
<text x="423.7" y="117.2" font-size="6.3" text-anchor="middle" textLength="16.5" lengthAdjust="spacingAndGlyphs" stroke="#000" stroke-width="0.1">n = 0</text>
<text x="361.6" y="139.6" font-size="11" font-weight="bold">g</text>
<rect x="410.4" y="146" width="5.4" height="5.2" fill="#a6d5e6"/>
<text x="419.1" y="150.9" font-size="6.4" stroke="#000" stroke-width="0.1">WT</text>
<rect x="410.4" y="154.3" width="5.4" height="5.2" fill="#68b3da"/>
<text x="419.1" y="159.2" font-size="6.4" stroke="#000" stroke-width="0.1">untreated</text>
<rect x="410.4" y="162.6" width="5.4" height="5.2" fill="#2792c9"/>
<text x="419.1" y="167.5" font-size="6.4" stroke="#000" stroke-width="0.1">scAAV8.TCT-1</text>
<rect x="410.4" y="170.9" width="5.4" height="5.2" fill="#0f64ab"/>
<text x="419.1" y="175.8" font-size="6.4" stroke="#000" stroke-width="0.1">scAAV8.A4T1</text>
<line x1="407.3" y1="160.05" x2="407.3" y2="256.8" stroke="#000" stroke-width="0.8"/>
<line x1="405.1" y1="256.5" x2="407.3" y2="256.5" stroke="#000" stroke-width="0.8"/>
<text x="403.7" y="258.8" font-size="6.4" text-anchor="end" stroke="#000" stroke-width="0.1">0</text>
<line x1="405.1" y1="224.45" x2="407.3" y2="224.45" stroke="#000" stroke-width="0.8"/>
<text x="403.7" y="226.75" font-size="6.4" text-anchor="end" stroke="#000" stroke-width="0.1">1</text>
<line x1="405.1" y1="192.4" x2="407.3" y2="192.4" stroke="#000" stroke-width="0.8"/>
<text x="403.7" y="194.7" font-size="6.4" text-anchor="end" stroke="#000" stroke-width="0.1">2</text>
<line x1="405.1" y1="160.35" x2="407.3" y2="160.35" stroke="#000" stroke-width="0.8"/>
<text x="403.7" y="162.65" font-size="6.4" text-anchor="end" stroke="#000" stroke-width="0.1">3</text>
<text x="394.4" y="208" font-size="6.3" text-anchor="middle" textLength="69" lengthAdjust="spacingAndGlyphs" transform="rotate(-90 394.4 208)" stroke="#000" stroke-width="0.1">Relative expression level</text>
<line x1="413" y1="260.2" x2="508.9" y2="260.2" stroke="#000" stroke-width="1"/>
<line x1="435.8" y1="260.2" x2="435.8" y2="262.6" stroke="#000" stroke-width="0.8"/>
<line x1="485.5" y1="260.2" x2="485.5" y2="262.6" stroke="#000" stroke-width="0.8"/>
<text x="435.8" y="271.5" font-size="6.6" text-anchor="middle" font-style="italic" stroke="#000" stroke-width="0.11">BIP</text>
<text x="485.5" y="271.5" font-size="6.6" text-anchor="middle" font-style="italic" stroke="#000" stroke-width="0.11">CHOP</text>
<rect x="416.9" y="224.45" width="8.4" height="32.05" fill="#a6d5e6" stroke="#333" stroke-width="0.45"/>
<line x1="421.1" y1="222.85" x2="421.1" y2="226.05" stroke="#000" stroke-width="0.6"/>
<line x1="419.3" y1="222.85" x2="422.9" y2="222.85" stroke="#000" stroke-width="0.6"/>
<line x1="419.3" y1="226.05" x2="422.9" y2="226.05" stroke="#000" stroke-width="0.6"/>
<circle cx="419.18" cy="223.49" r="1.15" fill="none" stroke="#333" stroke-width="0.5"/>
<circle cx="421.1" cy="226.05" r="1.15" fill="none" stroke="#333" stroke-width="0.5"/>
<circle cx="423.02" cy="223.17" r="1.15" fill="none" stroke="#333" stroke-width="0.5"/>
<circle cx="422.06" cy="223.81" r="1.15" fill="none" stroke="#333" stroke-width="0.5"/>
<rect x="427.3" y="231.82" width="8.4" height="24.68" fill="#68b3da" stroke="#333" stroke-width="0.45"/>
<line x1="431.5" y1="228.62" x2="431.5" y2="235.03" stroke="#000" stroke-width="0.6"/>
<line x1="429.7" y1="228.62" x2="433.3" y2="228.62" stroke="#000" stroke-width="0.6"/>
<line x1="429.7" y1="235.03" x2="433.3" y2="235.03" stroke="#000" stroke-width="0.6"/>
<circle cx="429.58" cy="228.62" r="1.15" fill="none" stroke="#333" stroke-width="0.5"/>
<circle cx="431.5" cy="236.63" r="1.15" fill="none" stroke="#333" stroke-width="0.5"/>
<circle cx="433.42" cy="230.86" r="1.15" fill="none" stroke="#333" stroke-width="0.5"/>
<rect x="437.2" y="220.28" width="8.4" height="36.22" fill="#2792c9" stroke="#333" stroke-width="0.45"/>
<line x1="441.4" y1="217.72" x2="441.4" y2="222.85" stroke="#000" stroke-width="0.6"/>
<line x1="439.6" y1="217.72" x2="443.2" y2="217.72" stroke="#000" stroke-width="0.6"/>
<line x1="439.6" y1="222.85" x2="443.2" y2="222.85" stroke="#000" stroke-width="0.6"/>
<circle cx="439.48" cy="216.44" r="1.15" fill="none" stroke="#333" stroke-width="0.5"/>
<circle cx="441.4" cy="218.04" r="1.15" fill="none" stroke="#333" stroke-width="0.5"/>
<circle cx="443.32" cy="225.09" r="1.15" fill="none" stroke="#333" stroke-width="0.5"/>
<rect x="447.4" y="221.25" width="8.4" height="35.26" fill="#0f64ab" stroke="#333" stroke-width="0.45"/>
<line x1="451.6" y1="213.55" x2="451.6" y2="228.94" stroke="#000" stroke-width="0.6"/>
<line x1="449.8" y1="213.55" x2="453.4" y2="213.55" stroke="#000" stroke-width="0.6"/>
<line x1="449.8" y1="228.94" x2="453.4" y2="228.94" stroke="#000" stroke-width="0.6"/>
<circle cx="449.68" cy="211.63" r="1.15" fill="none" stroke="#333" stroke-width="0.5"/>
<circle cx="451.6" cy="217.08" r="1.15" fill="none" stroke="#333" stroke-width="0.5"/>
<circle cx="453.52" cy="236.63" r="1.15" fill="none" stroke="#333" stroke-width="0.5"/>
<rect x="466.3" y="224.45" width="8.4" height="32.05" fill="#a6d5e6" stroke="#333" stroke-width="0.45"/>
<line x1="470.5" y1="222.21" x2="470.5" y2="226.69" stroke="#000" stroke-width="0.6"/>
<line x1="468.7" y1="222.21" x2="472.3" y2="222.21" stroke="#000" stroke-width="0.6"/>
<line x1="468.7" y1="226.69" x2="472.3" y2="226.69" stroke="#000" stroke-width="0.6"/>
<circle cx="468.58" cy="219.64" r="1.15" fill="none" stroke="#333" stroke-width="0.5"/>
<circle cx="470.5" cy="225.73" r="1.15" fill="none" stroke="#333" stroke-width="0.5"/>
<circle cx="472.42" cy="226.69" r="1.15" fill="none" stroke="#333" stroke-width="0.5"/>
<rect x="476.2" y="221.25" width="8.4" height="35.26" fill="#68b3da" stroke="#333" stroke-width="0.45"/>
<line x1="480.4" y1="217.4" x2="480.4" y2="225.09" stroke="#000" stroke-width="0.6"/>
<line x1="478.6" y1="217.4" x2="482.2" y2="217.4" stroke="#000" stroke-width="0.6"/>
<line x1="478.6" y1="225.09" x2="482.2" y2="225.09" stroke="#000" stroke-width="0.6"/>
<circle cx="478.48" cy="217.72" r="1.15" fill="none" stroke="#333" stroke-width="0.5"/>
<circle cx="480.4" cy="218.36" r="1.15" fill="none" stroke="#333" stroke-width="0.5"/>
<circle cx="482.32" cy="227.66" r="1.15" fill="none" stroke="#333" stroke-width="0.5"/>
<rect x="486.2" y="208.75" width="8.4" height="47.75" fill="#2792c9" stroke="#333" stroke-width="0.45"/>
<line x1="490.4" y1="207.78" x2="490.4" y2="209.71" stroke="#000" stroke-width="0.6"/>
<line x1="488.6" y1="207.78" x2="492.2" y2="207.78" stroke="#000" stroke-width="0.6"/>
<line x1="488.6" y1="209.71" x2="492.2" y2="209.71" stroke="#000" stroke-width="0.6"/>
<circle cx="488.48" cy="205.86" r="1.15" fill="none" stroke="#333" stroke-width="0.5"/>
<circle cx="490.4" cy="208.75" r="1.15" fill="none" stroke="#333" stroke-width="0.5"/>
<circle cx="492.32" cy="209.07" r="1.15" fill="none" stroke="#333" stroke-width="0.5"/>
<rect x="496.4" y="224.45" width="8.4" height="32.05" fill="#0f64ab" stroke="#333" stroke-width="0.45"/>
<line x1="500.6" y1="224.13" x2="500.6" y2="224.77" stroke="#000" stroke-width="0.6"/>
<line x1="498.8" y1="224.13" x2="502.4" y2="224.13" stroke="#000" stroke-width="0.6"/>
<line x1="498.8" y1="224.77" x2="502.4" y2="224.77" stroke="#000" stroke-width="0.6"/>
<circle cx="498.68" cy="224.13" r="1.15" fill="none" stroke="#333" stroke-width="0.5"/>
<circle cx="500.6" cy="224.45" r="1.15" fill="none" stroke="#333" stroke-width="0.5"/>
<circle cx="502.52" cy="224.13" r="1.15" fill="none" stroke="#333" stroke-width="0.5"/>
<text x="419.2" y="204.3" font-size="5.6" textLength="37.3" lengthAdjust="spacingAndGlyphs">ns (<tspan font-style="italic">P</tspan> = 0.0643)</text>
<line x1="432.4" y1="207.5" x2="441.5" y2="207.5" stroke="#000" stroke-width="0.7"/>
<text x="425" y="191.8" font-size="5.6" textLength="36.6" lengthAdjust="spacingAndGlyphs">ns (<tspan font-style="italic">P</tspan> = 0.2902)</text>
<line x1="432.4" y1="194.6" x2="450.4" y2="194.6" stroke="#000" stroke-width="0.7"/>
<text x="471.7" y="185.6" font-size="5.6" textLength="37.7" lengthAdjust="spacingAndGlyphs">ns (<tspan font-style="italic">P</tspan> = 0.4414)</text>
<line x1="481.9" y1="188.5" x2="499.5" y2="188.5" stroke="#000" stroke-width="0.7"/>
<text x="467.3" y="198.9" font-size="5.6" textLength="37.6" lengthAdjust="spacingAndGlyphs">ns (<tspan font-style="italic">P</tspan> = 0.0370)</text>
<line x1="481.9" y1="201.4" x2="490.4" y2="201.4" stroke="#000" stroke-width="0.7"/>
<text x="576.6" y="8.8" font-size="11" font-weight="bold">h</text>
<rect x="620.8" y="1.2" width="5.39" height="4.71" fill="#da1638"/><rect x="626.14" y="1.2" width="5.39" height="4.71" fill="#da1638"/><rect x="631.49" y="1.2" width="5.39" height="4.71" fill="#da1638"/><rect x="636.83" y="1.2" width="5.39" height="4.71" fill="#da1638"/><rect x="642.18" y="1.2" width="5.39" height="4.71" fill="#da1638"/><rect x="647.52" y="1.2" width="5.39" height="4.71" fill="#da1638"/><rect x="652.87" y="1.2" width="5.39" height="4.71" fill="#dd2847"/><rect x="658.21" y="1.2" width="5.39" height="4.71" fill="#da1739"/><rect x="663.56" y="1.2" width="5.39" height="4.71" fill="#da1638"/><rect x="620.8" y="5.86" width="5.39" height="4.71" fill="#df3452"/><rect x="626.14" y="5.86" width="5.39" height="4.71" fill="#dd2b4a"/><rect x="631.49" y="5.86" width="5.39" height="4.71" fill="#e24661"/><rect x="636.83" y="5.86" width="5.39" height="4.71" fill="#e03a57"/><rect x="642.18" y="5.86" width="5.39" height="4.71" fill="#e1425d"/><rect x="647.52" y="5.86" width="5.39" height="4.71" fill="#df3755"/><rect x="652.87" y="5.86" width="5.39" height="4.71" fill="#df3654"/><rect x="658.21" y="5.86" width="5.39" height="4.71" fill="#e24964"/><rect x="663.56" y="5.86" width="5.39" height="4.71" fill="#e1435e"/><rect x="620.8" y="10.53" width="5.39" height="4.71" fill="#e45770"/><rect x="626.14" y="10.53" width="5.39" height="4.71" fill="#e1435f"/><rect x="631.49" y="10.53" width="5.39" height="4.71" fill="#e24863"/><rect x="636.83" y="10.53" width="5.39" height="4.71" fill="#e55b73"/><rect x="642.18" y="10.53" width="5.39" height="4.71" fill="#e24762"/><rect x="647.52" y="10.53" width="5.39" height="4.71" fill="#e55c73"/><rect x="652.87" y="10.53" width="5.39" height="4.71" fill="#e34d67"/><rect x="658.21" y="10.53" width="5.39" height="4.71" fill="#e55c74"/><rect x="663.56" y="10.53" width="5.39" height="4.71" fill="#e66077"/><rect x="620.8" y="15.19" width="5.39" height="4.71" fill="#e24863"/><rect x="626.14" y="15.19" width="5.39" height="4.71" fill="#e55d74"/><rect x="631.49" y="15.19" width="5.39" height="4.71" fill="#e55d74"/><rect x="636.83" y="15.19" width="5.39" height="4.71" fill="#e14560"/><rect x="642.18" y="15.19" width="5.39" height="4.71" fill="#e24863"/><rect x="647.52" y="15.19" width="5.39" height="4.71" fill="#e55a72"/><rect x="652.87" y="15.19" width="5.39" height="4.71" fill="#e24560"/><rect x="658.21" y="15.19" width="5.39" height="4.71" fill="#e4536c"/><rect x="663.56" y="15.19" width="5.39" height="4.71" fill="#e34e68"/><rect x="620.8" y="19.86" width="5.39" height="4.71" fill="#e66077"/><rect x="626.14" y="19.86" width="5.39" height="4.71" fill="#e24a64"/><rect x="631.49" y="19.86" width="5.39" height="4.71" fill="#e3516b"/><rect x="636.83" y="19.86" width="5.39" height="4.71" fill="#e24963"/><rect x="642.18" y="19.86" width="5.39" height="4.71" fill="#e24b65"/><rect x="647.52" y="19.86" width="5.39" height="4.71" fill="#e55d75"/><rect x="652.87" y="19.86" width="5.39" height="4.71" fill="#e55c73"/><rect x="658.21" y="19.86" width="5.39" height="4.71" fill="#e66278"/><rect x="663.56" y="19.86" width="5.39" height="4.71" fill="#e66279"/><rect x="620.8" y="24.52" width="5.39" height="4.71" fill="#e7687e"/><rect x="626.14" y="24.52" width="5.39" height="4.71" fill="#e66178"/><rect x="631.49" y="24.52" width="5.39" height="4.71" fill="#e45870"/><rect x="636.83" y="24.52" width="5.39" height="4.71" fill="#e76a80"/><rect x="642.18" y="24.52" width="5.39" height="4.71" fill="#e4556e"/><rect x="647.52" y="24.52" width="5.39" height="4.71" fill="#e66077"/><rect x="652.87" y="24.52" width="5.39" height="4.71" fill="#e66178"/><rect x="658.21" y="24.52" width="5.39" height="4.71" fill="#e3516a"/><rect x="663.56" y="24.52" width="5.39" height="4.71" fill="#e55b73"/><rect x="620.8" y="29.19" width="5.39" height="4.71" fill="#e6647a"/><rect x="626.14" y="29.19" width="5.39" height="4.71" fill="#e65f76"/><rect x="631.49" y="29.19" width="5.39" height="4.71" fill="#e45870"/><rect x="636.83" y="29.19" width="5.39" height="4.71" fill="#e86c81"/><rect x="642.18" y="29.19" width="5.39" height="4.71" fill="#e35069"/><rect x="647.52" y="29.19" width="5.39" height="4.71" fill="#e86d82"/><rect x="652.87" y="29.19" width="5.39" height="4.71" fill="#e4576f"/><rect x="658.21" y="29.19" width="5.39" height="4.71" fill="#e4546d"/><rect x="663.56" y="29.19" width="5.39" height="4.71" fill="#e86d82"/><rect x="620.8" y="33.85" width="5.39" height="4.71" fill="#e55b73"/><rect x="626.14" y="33.85" width="5.39" height="4.71" fill="#e7677e"/><rect x="631.49" y="33.85" width="5.39" height="4.71" fill="#e66178"/><rect x="636.83" y="33.85" width="5.39" height="4.71" fill="#e97287"/><rect x="642.18" y="33.85" width="5.39" height="4.71" fill="#e87186"/><rect x="647.52" y="33.85" width="5.39" height="4.71" fill="#e86d82"/><rect x="652.87" y="33.85" width="5.39" height="4.71" fill="#e4566f"/><rect x="658.21" y="33.85" width="5.39" height="4.71" fill="#e86c82"/><rect x="663.56" y="33.85" width="5.39" height="4.71" fill="#e55c74"/><rect x="620.8" y="38.52" width="5.39" height="4.71" fill="#e55c74"/><rect x="626.14" y="38.52" width="5.39" height="4.71" fill="#e55c74"/><rect x="631.49" y="38.52" width="5.39" height="4.71" fill="#e86d83"/><rect x="636.83" y="38.52" width="5.39" height="4.71" fill="#e86d82"/><rect x="642.18" y="38.52" width="5.39" height="4.71" fill="#e7687e"/><rect x="647.52" y="38.52" width="5.39" height="4.71" fill="#e66178"/><rect x="652.87" y="38.52" width="5.39" height="4.71" fill="#e97488"/><rect x="658.21" y="38.52" width="5.39" height="4.71" fill="#e66278"/><rect x="663.56" y="38.52" width="5.39" height="4.71" fill="#e66077"/><rect x="620.8" y="43.18" width="5.39" height="4.71" fill="#e6647a"/><rect x="626.14" y="43.18" width="5.39" height="4.71" fill="#ea7b8e"/><rect x="631.49" y="43.18" width="5.39" height="4.71" fill="#e66178"/><rect x="636.83" y="43.18" width="5.39" height="4.71" fill="#ea7a8d"/><rect x="642.18" y="43.18" width="5.39" height="4.71" fill="#e97287"/><rect x="647.52" y="43.18" width="5.39" height="4.71" fill="#e76b80"/><rect x="652.87" y="43.18" width="5.39" height="4.71" fill="#e66279"/><rect x="658.21" y="43.18" width="5.39" height="4.71" fill="#e97387"/><rect x="663.56" y="43.18" width="5.39" height="4.71" fill="#e66279"/><rect x="620.8" y="47.85" width="5.39" height="4.71" fill="#e97287"/><rect x="626.14" y="47.85" width="5.39" height="4.71" fill="#ea788c"/><rect x="631.49" y="47.85" width="5.39" height="4.71" fill="#ea788c"/><rect x="636.83" y="47.85" width="5.39" height="4.71" fill="#ea7c8f"/><rect x="642.18" y="47.85" width="5.39" height="4.71" fill="#eb7f92"/><rect x="647.52" y="47.85" width="5.39" height="4.71" fill="#ea7d90"/><rect x="652.87" y="47.85" width="5.39" height="4.71" fill="#e86e83"/><rect x="658.21" y="47.85" width="5.39" height="4.71" fill="#e7657c"/><rect x="663.56" y="47.85" width="5.39" height="4.71" fill="#ea7d90"/><rect x="620.8" y="52.51" width="5.39" height="4.71" fill="#eb8496"/><rect x="626.14" y="52.51" width="5.39" height="4.71" fill="#e76a7f"/><rect x="631.49" y="52.51" width="5.39" height="4.71" fill="#e9768a"/><rect x="636.83" y="52.51" width="5.39" height="4.71" fill="#ea7a8d"/><rect x="642.18" y="52.51" width="5.39" height="4.71" fill="#eb7e91"/><rect x="647.52" y="52.51" width="5.39" height="4.71" fill="#e97489"/><rect x="652.87" y="52.51" width="5.39" height="4.71" fill="#e86e83"/><rect x="658.21" y="52.51" width="5.39" height="4.71" fill="#ea788c"/><rect x="663.56" y="52.51" width="5.39" height="4.71" fill="#ea798d"/><rect x="620.8" y="57.18" width="5.39" height="4.71" fill="#ec8799"/><rect x="626.14" y="57.18" width="5.39" height="4.71" fill="#e87085"/><rect x="631.49" y="57.18" width="5.39" height="4.71" fill="#ec8899"/><rect x="636.83" y="57.18" width="5.39" height="4.71" fill="#ea7b8e"/><rect x="642.18" y="57.18" width="5.39" height="4.71" fill="#e97286"/><rect x="647.52" y="57.18" width="5.39" height="4.71" fill="#ec8597"/><rect x="652.87" y="57.18" width="5.39" height="4.71" fill="#e97589"/><rect x="658.21" y="57.18" width="5.39" height="4.71" fill="#e86f84"/><rect x="663.56" y="57.18" width="5.39" height="4.71" fill="#e9778b"/><rect x="620.8" y="61.84" width="5.39" height="4.71" fill="#e9778b"/><rect x="626.14" y="61.84" width="5.39" height="4.71" fill="#ec899b"/><rect x="631.49" y="61.84" width="5.39" height="4.71" fill="#eb8193"/><rect x="636.83" y="61.84" width="5.39" height="4.71" fill="#ec889a"/><rect x="642.18" y="61.84" width="5.39" height="4.71" fill="#e9768a"/><rect x="647.52" y="61.84" width="5.39" height="4.71" fill="#ec8496"/><rect x="652.87" y="61.84" width="5.39" height="4.71" fill="#eb8093"/><rect x="658.21" y="61.84" width="5.39" height="4.71" fill="#e97186"/><rect x="663.56" y="61.84" width="5.39" height="4.71" fill="#e97589"/><rect x="620.8" y="66.51" width="5.39" height="4.71" fill="#e9768a"/><rect x="626.14" y="66.51" width="5.39" height="4.71" fill="#eb8496"/><rect x="631.49" y="66.51" width="5.39" height="4.71" fill="#eb8395"/><rect x="636.83" y="66.51" width="5.39" height="4.71" fill="#ea7d90"/><rect x="642.18" y="66.51" width="5.39" height="4.71" fill="#eb8395"/><rect x="647.52" y="66.51" width="5.39" height="4.71" fill="#ec889a"/><rect x="652.87" y="66.51" width="5.39" height="4.71" fill="#ec8597"/><rect x="658.21" y="66.51" width="5.39" height="4.71" fill="#ed8c9d"/><rect x="663.56" y="66.51" width="5.39" height="4.71" fill="#ec8698"/><rect x="620.8" y="71.17" width="5.39" height="4.71" fill="#ea7a8d"/><rect x="626.14" y="71.17" width="5.39" height="4.71" fill="#ea7b8e"/><rect x="631.49" y="71.17" width="5.39" height="4.71" fill="#eb8395"/><rect x="636.83" y="71.17" width="5.39" height="4.71" fill="#ec8798"/><rect x="642.18" y="71.17" width="5.39" height="4.71" fill="#ed8b9c"/><rect x="647.52" y="71.17" width="5.39" height="4.71" fill="#ee91a1"/><rect x="652.87" y="71.17" width="5.39" height="4.71" fill="#ed8d9d"/><rect x="658.21" y="71.17" width="5.39" height="4.71" fill="#eb7f92"/><rect x="663.56" y="71.17" width="5.39" height="4.71" fill="#ea7d90"/><rect x="620.8" y="75.84" width="5.39" height="4.71" fill="#ed8e9f"/><rect x="626.14" y="75.84" width="5.39" height="4.71" fill="#eb8395"/><rect x="631.49" y="75.84" width="5.39" height="4.71" fill="#eb8395"/><rect x="636.83" y="75.84" width="5.39" height="4.71" fill="#ec8697"/><rect x="642.18" y="75.84" width="5.39" height="4.71" fill="#ec8698"/><rect x="647.52" y="75.84" width="5.39" height="4.71" fill="#eb8496"/><rect x="652.87" y="75.84" width="5.39" height="4.71" fill="#ed8e9e"/><rect x="658.21" y="75.84" width="5.39" height="4.71" fill="#ec8597"/><rect x="663.56" y="75.84" width="5.39" height="4.71" fill="#ed90a0"/><rect x="620.8" y="80.5" width="5.39" height="4.71" fill="#ee91a1"/><rect x="626.14" y="80.5" width="5.39" height="4.71" fill="#ec8a9b"/><rect x="631.49" y="80.5" width="5.39" height="4.71" fill="#ed8c9d"/><rect x="636.83" y="80.5" width="5.39" height="4.71" fill="#ee96a5"/><rect x="642.18" y="80.5" width="5.39" height="4.71" fill="#ec8697"/><rect x="647.52" y="80.5" width="5.39" height="4.71" fill="#ed8d9e"/><rect x="652.87" y="80.5" width="5.39" height="4.71" fill="#ed8f9f"/><rect x="658.21" y="80.5" width="5.39" height="4.71" fill="#ef9dab"/><rect x="663.56" y="80.5" width="5.39" height="4.71" fill="#ed90a0"/><rect x="620.8" y="85.17" width="5.39" height="4.71" fill="#ef9dac"/><rect x="626.14" y="85.17" width="5.39" height="4.71" fill="#ee93a3"/><rect x="631.49" y="85.17" width="5.39" height="4.71" fill="#ef98a7"/><rect x="636.83" y="85.17" width="5.39" height="4.71" fill="#ed90a0"/><rect x="642.18" y="85.17" width="5.39" height="4.71" fill="#ee94a3"/><rect x="647.52" y="85.17" width="5.39" height="4.71" fill="#ed90a0"/><rect x="652.87" y="85.17" width="5.39" height="4.71" fill="#ef9baa"/><rect x="658.21" y="85.17" width="5.39" height="4.71" fill="#ee94a3"/><rect x="663.56" y="85.17" width="5.39" height="4.71" fill="#ee92a1"/><rect x="620.8" y="89.83" width="5.39" height="4.71" fill="#ee96a5"/><rect x="626.14" y="89.83" width="5.39" height="4.71" fill="#f0a1af"/><rect x="631.49" y="89.83" width="5.39" height="4.71" fill="#ee96a5"/><rect x="636.83" y="89.83" width="5.39" height="4.71" fill="#ee95a4"/><rect x="642.18" y="89.83" width="5.39" height="4.71" fill="#ef99a8"/><rect x="647.52" y="89.83" width="5.39" height="4.71" fill="#ee92a2"/><rect x="652.87" y="89.83" width="5.39" height="4.71" fill="#ee93a3"/><rect x="658.21" y="89.83" width="5.39" height="4.71" fill="#ef9dac"/><rect x="663.56" y="89.83" width="5.39" height="4.71" fill="#ef9dab"/><rect x="620.8" y="94.5" width="5.39" height="4.71" fill="#f2acb8"/><rect x="626.14" y="94.5" width="5.39" height="4.71" fill="#ef9cab"/><rect x="631.49" y="94.5" width="5.39" height="4.71" fill="#ef9aa9"/><rect x="636.83" y="94.5" width="5.39" height="4.71" fill="#f1a5b2"/><rect x="642.18" y="94.5" width="5.39" height="4.71" fill="#f0a0ae"/><rect x="647.52" y="94.5" width="5.39" height="4.71" fill="#f09fad"/><rect x="652.87" y="94.5" width="5.39" height="4.71" fill="#f09fad"/><rect x="658.21" y="94.5" width="5.39" height="4.71" fill="#f2acb8"/><rect x="663.56" y="94.5" width="5.39" height="4.71" fill="#f09eac"/><rect x="620.8" y="99.16" width="5.39" height="4.71" fill="#f1a9b5"/><rect x="626.14" y="99.16" width="5.39" height="4.71" fill="#f1a7b4"/><rect x="631.49" y="99.16" width="5.39" height="4.71" fill="#f2acb8"/><rect x="636.83" y="99.16" width="5.39" height="4.71" fill="#f1a8b4"/><rect x="642.18" y="99.16" width="5.39" height="4.71" fill="#f1a4b2"/><rect x="647.52" y="99.16" width="5.39" height="4.71" fill="#f1a7b4"/><rect x="652.87" y="99.16" width="5.39" height="4.71" fill="#f1a6b3"/><rect x="658.21" y="99.16" width="5.39" height="4.71" fill="#f3b5c0"/><rect x="663.56" y="99.16" width="5.39" height="4.71" fill="#f3b2bd"/><rect x="620.8" y="103.83" width="5.39" height="4.71" fill="#f3b2bd"/><rect x="626.14" y="103.83" width="5.39" height="4.71" fill="#f2aeba"/><rect x="631.49" y="103.83" width="5.39" height="4.71" fill="#f4b7c2"/><rect x="636.83" y="103.83" width="5.39" height="4.71" fill="#f2adb9"/><rect x="642.18" y="103.83" width="5.39" height="4.71" fill="#f2aeba"/><rect x="647.52" y="103.83" width="5.39" height="4.71" fill="#f4bbc5"/><rect x="652.87" y="103.83" width="5.39" height="4.71" fill="#f3b2bd"/><rect x="658.21" y="103.83" width="5.39" height="4.71" fill="#f4b7c1"/><rect x="663.56" y="103.83" width="5.39" height="4.71" fill="#f4bbc5"/><rect x="620.8" y="108.49" width="5.39" height="4.71" fill="#f5bfc8"/><rect x="626.14" y="108.49" width="5.39" height="4.71" fill="#f4bbc5"/><rect x="631.49" y="108.49" width="5.39" height="4.71" fill="#f5bec8"/><rect x="636.83" y="108.49" width="5.39" height="4.71" fill="#f5bec7"/><rect x="642.18" y="108.49" width="5.39" height="4.71" fill="#f5c1ca"/><rect x="647.52" y="108.49" width="5.39" height="4.71" fill="#f4b8c2"/><rect x="652.87" y="108.49" width="5.39" height="4.71" fill="#f4bac4"/><rect x="658.21" y="108.49" width="5.39" height="4.71" fill="#f3b5c0"/><rect x="663.56" y="108.49" width="5.39" height="4.71" fill="#f3b5c0"/><rect x="620.8" y="113.15" width="5.39" height="4.71" fill="#f5c3cc"/><rect x="626.14" y="113.15" width="5.39" height="4.71" fill="#f3b5c0"/><rect x="631.49" y="113.15" width="5.39" height="4.71" fill="#f6c8d0"/><rect x="636.83" y="113.15" width="5.39" height="4.71" fill="#f5c0c9"/><rect x="642.18" y="113.15" width="5.39" height="4.71" fill="#f5c2cb"/><rect x="647.52" y="113.15" width="5.39" height="4.71" fill="#f5c0c9"/><rect x="652.87" y="113.15" width="5.39" height="4.71" fill="#f6c6ce"/><rect x="658.21" y="113.15" width="5.39" height="4.71" fill="#f4b7c1"/><rect x="663.56" y="113.15" width="5.39" height="4.71" fill="#f5c0c9"/><rect x="620.8" y="117.82" width="5.39" height="4.71" fill="#f7ced5"/><rect x="626.14" y="117.82" width="5.39" height="4.71" fill="#f5c3cb"/><rect x="631.49" y="117.82" width="5.39" height="4.71" fill="#f7cdd4"/><rect x="636.83" y="117.82" width="5.39" height="4.71" fill="#f6c4cc"/><rect x="642.18" y="117.82" width="5.39" height="4.71" fill="#f6c8d0"/><rect x="647.52" y="117.82" width="5.39" height="4.71" fill="#f5c3cc"/><rect x="652.87" y="117.82" width="5.39" height="4.71" fill="#f4bcc5"/><rect x="658.21" y="117.82" width="5.39" height="4.71" fill="#f5bec8"/><rect x="663.56" y="117.82" width="5.39" height="4.71" fill="#f6c6cf"/><rect x="620.8" y="122.48" width="5.39" height="4.71" fill="#f6c6ce"/><rect x="626.14" y="122.48" width="5.39" height="4.71" fill="#f6c9d1"/><rect x="631.49" y="122.48" width="5.39" height="4.71" fill="#f7ced5"/><rect x="636.83" y="122.48" width="5.39" height="4.71" fill="#f8d3d9"/><rect x="642.18" y="122.48" width="5.39" height="4.71" fill="#f7cad2"/><rect x="647.52" y="122.48" width="5.39" height="4.71" fill="#f7cbd2"/><rect x="652.87" y="122.48" width="5.39" height="4.71" fill="#f5c3cc"/><rect x="658.21" y="122.48" width="5.39" height="4.71" fill="#f5c3cc"/><rect x="663.56" y="122.48" width="5.39" height="4.71" fill="#f7cad1"/><rect x="620.8" y="127.15" width="5.39" height="4.71" fill="#f8d5dc"/><rect x="626.14" y="127.15" width="5.39" height="4.71" fill="#f7cbd3"/><rect x="631.49" y="127.15" width="5.39" height="4.71" fill="#f9dce1"/><rect x="636.83" y="127.15" width="5.39" height="4.71" fill="#f9dadf"/><rect x="642.18" y="127.15" width="5.39" height="4.71" fill="#f8d2d8"/><rect x="647.52" y="127.15" width="5.39" height="4.71" fill="#f8d1d7"/><rect x="652.87" y="127.15" width="5.39" height="4.71" fill="#f9d9df"/><rect x="658.21" y="127.15" width="5.39" height="4.71" fill="#f8d0d7"/><rect x="663.56" y="127.15" width="5.39" height="4.71" fill="#f7ccd3"/><rect x="620.8" y="131.81" width="5.39" height="4.71" fill="#f9dadf"/><rect x="626.14" y="131.81" width="5.39" height="4.71" fill="#f9d9de"/><rect x="631.49" y="131.81" width="5.39" height="4.71" fill="#f9dce1"/><rect x="636.83" y="131.81" width="5.39" height="4.71" fill="#f9dbe0"/><rect x="642.18" y="131.81" width="5.39" height="4.71" fill="#f7cfd6"/><rect x="647.52" y="131.81" width="5.39" height="4.71" fill="#f9dadf"/><rect x="652.87" y="131.81" width="5.39" height="4.71" fill="#f7cfd6"/><rect x="658.21" y="131.81" width="5.39" height="4.71" fill="#f8d0d7"/><rect x="663.56" y="131.81" width="5.39" height="4.71" fill="#f8d6dc"/><rect x="620.8" y="136.48" width="5.39" height="4.71" fill="#fae0e5"/><rect x="626.14" y="136.48" width="5.39" height="4.71" fill="#f4b9c3"/><rect x="631.49" y="136.48" width="5.39" height="4.71" fill="#f9dce1"/><rect x="636.83" y="136.48" width="5.39" height="4.71" fill="#fadee2"/><rect x="642.18" y="136.48" width="5.39" height="4.71" fill="#fadfe4"/><rect x="647.52" y="136.48" width="5.39" height="4.71" fill="#f8d4da"/><rect x="652.87" y="136.48" width="5.39" height="4.71" fill="#f9dce1"/><rect x="658.21" y="136.48" width="5.39" height="4.71" fill="#fae0e4"/><rect x="663.56" y="136.48" width="5.39" height="4.71" fill="#fadce1"/><rect x="620.8" y="141.14" width="5.39" height="4.71" fill="#f9dce1"/><rect x="626.14" y="141.14" width="5.39" height="4.71" fill="#f2b0bb"/><rect x="631.49" y="141.14" width="5.39" height="4.71" fill="#f7ccd3"/><rect x="636.83" y="141.14" width="5.39" height="4.71" fill="#f9d9de"/><rect x="642.18" y="141.14" width="5.39" height="4.71" fill="#f8d0d7"/><rect x="647.52" y="141.14" width="5.39" height="4.71" fill="#f5c2cb"/><rect x="652.87" y="141.14" width="5.39" height="4.71" fill="#fadee3"/><rect x="658.21" y="141.14" width="5.39" height="4.71" fill="#f8d4db"/><rect x="663.56" y="141.14" width="5.39" height="4.71" fill="#f6c7cf"/><rect x="620.8" y="145.81" width="5.39" height="4.71" fill="#fae1e5"/><rect x="626.14" y="145.81" width="5.39" height="4.71" fill="#fbe3e7"/><rect x="631.49" y="145.81" width="5.39" height="4.71" fill="#fcecef"/><rect x="636.83" y="145.81" width="5.39" height="4.71" fill="#fcebee"/><rect x="642.18" y="145.81" width="5.39" height="4.71" fill="#fcedf0"/><rect x="647.52" y="145.81" width="5.39" height="4.71" fill="#fae0e4"/><rect x="652.87" y="145.81" width="5.39" height="4.71" fill="#fcebee"/><rect x="658.21" y="145.81" width="5.39" height="4.71" fill="#fbe6ea"/><rect x="663.56" y="145.81" width="5.39" height="4.71" fill="#fbe8eb"/><rect x="620.8" y="150.47" width="5.39" height="4.71" fill="#fceaed"/><rect x="626.14" y="150.47" width="5.39" height="4.71" fill="#fcebee"/><rect x="631.49" y="150.47" width="5.39" height="4.71" fill="#fbe9ec"/><rect x="636.83" y="150.47" width="5.39" height="4.71" fill="#fdf2f4"/><rect x="642.18" y="150.47" width="5.39" height="4.71" fill="#fbe8ec"/><rect x="647.52" y="150.47" width="5.39" height="4.71" fill="#fdf0f2"/><rect x="652.87" y="150.47" width="5.39" height="4.71" fill="#fcecef"/><rect x="658.21" y="150.47" width="5.39" height="4.71" fill="#fceff1"/><rect x="663.56" y="150.47" width="5.39" height="4.71" fill="#fdf0f2"/><rect x="620.8" y="155.14" width="5.39" height="4.71" fill="#fdf1f3"/><rect x="626.14" y="155.14" width="5.39" height="4.71" fill="#fdf2f4"/><rect x="631.49" y="155.14" width="5.39" height="4.71" fill="#fdf3f5"/><rect x="636.83" y="155.14" width="5.39" height="4.71" fill="#fcedf0"/><rect x="642.18" y="155.14" width="5.39" height="4.71" fill="#fdf0f2"/><rect x="647.52" y="155.14" width="5.39" height="4.71" fill="#fef8f9"/><rect x="652.87" y="155.14" width="5.39" height="4.71" fill="#fdf5f6"/><rect x="658.21" y="155.14" width="5.39" height="4.71" fill="#fdf2f4"/><rect x="663.56" y="155.14" width="5.39" height="4.71" fill="#fcebee"/><rect x="620.8" y="159.8" width="5.39" height="4.71" fill="#fcedef"/><rect x="626.14" y="159.8" width="5.39" height="4.71" fill="#fdf2f4"/><rect x="631.49" y="159.8" width="5.39" height="4.71" fill="#fefafb"/><rect x="636.83" y="159.8" width="5.39" height="4.71" fill="#fceef1"/><rect x="642.18" y="159.8" width="5.39" height="4.71" fill="#fdf4f5"/><rect x="647.52" y="159.8" width="5.39" height="4.71" fill="#fdf2f3"/><rect x="652.87" y="159.8" width="5.39" height="4.71" fill="#fdeff2"/><rect x="658.21" y="159.8" width="5.39" height="4.71" fill="#fdf1f3"/><rect x="663.56" y="159.8" width="5.39" height="4.71" fill="#fdf3f5"/><rect x="620.8" y="164.47" width="5.39" height="4.71" fill="#fceef1"/><rect x="626.14" y="164.47" width="5.39" height="4.71" fill="#fef6f7"/><rect x="631.49" y="164.47" width="5.39" height="4.71" fill="#fef6f7"/><rect x="636.83" y="164.47" width="5.39" height="4.71" fill="#fceff1"/><rect x="642.18" y="164.47" width="5.39" height="4.71" fill="#fef9fa"/><rect x="647.52" y="164.47" width="5.39" height="4.71" fill="#fef7f8"/><rect x="652.87" y="164.47" width="5.39" height="4.71" fill="#fdeff2"/><rect x="658.21" y="164.47" width="5.39" height="4.71" fill="#fefbfb"/><rect x="663.56" y="164.47" width="5.39" height="4.71" fill="#fceff2"/><rect x="620.8" y="169.13" width="5.39" height="4.71" fill="#fdf3f5"/><rect x="626.14" y="169.13" width="5.39" height="4.71" fill="#fef7f8"/><rect x="631.49" y="169.13" width="5.39" height="4.71" fill="#fef9fa"/><rect x="636.83" y="169.13" width="5.39" height="4.71" fill="#fdf2f4"/><rect x="642.18" y="169.13" width="5.39" height="4.71" fill="#fdf0f2"/><rect x="647.52" y="169.13" width="5.39" height="4.71" fill="#fefbfc"/><rect x="652.87" y="169.13" width="5.39" height="4.71" fill="#fef6f8"/><rect x="658.21" y="169.13" width="5.39" height="4.71" fill="#fdf5f7"/><rect x="663.56" y="169.13" width="5.39" height="4.71" fill="#fef6f7"/><rect x="620.8" y="173.8" width="5.39" height="4.71" fill="#fefafb"/><rect x="626.14" y="173.8" width="5.39" height="4.71" fill="#fffdfd"/><rect x="631.49" y="173.8" width="5.39" height="4.71" fill="#fef6f8"/><rect x="636.83" y="173.8" width="5.39" height="4.71" fill="#fdf3f5"/><rect x="642.18" y="173.8" width="5.39" height="4.71" fill="#fffefe"/><rect x="647.52" y="173.8" width="5.39" height="4.71" fill="#fefcfc"/><rect x="652.87" y="173.8" width="5.39" height="4.71" fill="#fdf3f5"/><rect x="658.21" y="173.8" width="5.39" height="4.71" fill="#fdf3f5"/><rect x="663.56" y="173.8" width="5.39" height="4.71" fill="#fdf5f7"/><rect x="620.8" y="178.46" width="5.39" height="4.71" fill="#fefeff"/><rect x="626.14" y="178.46" width="5.39" height="4.71" fill="#fef6f7"/><rect x="631.49" y="178.46" width="5.39" height="4.71" fill="#fdf2f4"/><rect x="636.83" y="178.46" width="5.39" height="4.71" fill="#fdf2f4"/><rect x="642.18" y="178.46" width="5.39" height="4.71" fill="#fef6f8"/><rect x="647.52" y="178.46" width="5.39" height="4.71" fill="#fefeff"/><rect x="652.87" y="178.46" width="5.39" height="4.71" fill="#fdf4f6"/><rect x="658.21" y="178.46" width="5.39" height="4.71" fill="#fffdfe"/><rect x="663.56" y="178.46" width="5.39" height="4.71" fill="#fef7f8"/><rect x="620.8" y="183.13" width="5.39" height="4.71" fill="#fdf3f5"/><rect x="626.14" y="183.13" width="5.39" height="4.71" fill="#fef7f8"/><rect x="631.49" y="183.13" width="5.39" height="4.71" fill="#ffffff"/><rect x="636.83" y="183.13" width="5.39" height="4.71" fill="#fffdfd"/><rect x="642.18" y="183.13" width="5.39" height="4.71" fill="#fdf4f6"/><rect x="647.52" y="183.13" width="5.39" height="4.71" fill="#ffffff"/><rect x="652.87" y="183.13" width="5.39" height="4.71" fill="#fef8f9"/><rect x="658.21" y="183.13" width="5.39" height="4.71" fill="#fefbfc"/><rect x="663.56" y="183.13" width="5.39" height="4.71" fill="#ffffff"/><rect x="620.8" y="187.79" width="5.39" height="4.71" fill="#fef9fa"/><rect x="626.14" y="187.79" width="5.39" height="4.71" fill="#fdfdfe"/><rect x="631.49" y="187.79" width="5.39" height="4.71" fill="#fefefe"/><rect x="636.83" y="187.79" width="5.39" height="4.71" fill="#fffcfd"/><rect x="642.18" y="187.79" width="5.39" height="4.71" fill="#fdfdfe"/><rect x="647.52" y="187.79" width="5.39" height="4.71" fill="#fdfdfe"/><rect x="652.87" y="187.79" width="5.39" height="4.71" fill="#fefafa"/><rect x="658.21" y="187.79" width="5.39" height="4.71" fill="#fef7f8"/><rect x="663.56" y="187.79" width="5.39" height="4.71" fill="#fdf5f7"/><rect x="620.8" y="192.46" width="5.39" height="4.71" fill="#fdfefe"/><rect x="626.14" y="192.46" width="5.39" height="4.71" fill="#fffcfd"/><rect x="631.49" y="192.46" width="5.39" height="4.71" fill="#fffefe"/><rect x="636.83" y="192.46" width="5.39" height="4.71" fill="#fefafb"/><rect x="642.18" y="192.46" width="5.39" height="4.71" fill="#fefcfc"/><rect x="647.52" y="192.46" width="5.39" height="4.71" fill="#fdf5f7"/><rect x="652.87" y="192.46" width="5.39" height="4.71" fill="#fffdfe"/><rect x="658.21" y="192.46" width="5.39" height="4.71" fill="#fcfdfe"/><rect x="663.56" y="192.46" width="5.39" height="4.71" fill="#fef9fa"/><rect x="620.8" y="197.12" width="5.39" height="4.71" fill="#fdfdfe"/><rect x="626.14" y="197.12" width="5.39" height="4.71" fill="#fefafb"/><rect x="631.49" y="197.12" width="5.39" height="4.71" fill="#fffcfd"/><rect x="636.83" y="197.12" width="5.39" height="4.71" fill="#fef6f8"/><rect x="642.18" y="197.12" width="5.39" height="4.71" fill="#fefbfc"/><rect x="647.52" y="197.12" width="5.39" height="4.71" fill="#fefbfb"/><rect x="652.87" y="197.12" width="5.39" height="4.71" fill="#fefeff"/><rect x="658.21" y="197.12" width="5.39" height="4.71" fill="#fefcfc"/><rect x="663.56" y="197.12" width="5.39" height="4.71" fill="#fefeff"/><rect x="620.8" y="201.79" width="5.39" height="4.71" fill="#fefafa"/><rect x="626.14" y="201.79" width="5.39" height="4.71" fill="#fffdfd"/><rect x="631.49" y="201.79" width="5.39" height="4.71" fill="#fcfcfe"/><rect x="636.83" y="201.79" width="5.39" height="4.71" fill="#fdfefe"/><rect x="642.18" y="201.79" width="5.39" height="4.71" fill="#ffffff"/><rect x="647.52" y="201.79" width="5.39" height="4.71" fill="#fefafa"/><rect x="652.87" y="201.79" width="5.39" height="4.71" fill="#fcfdfe"/><rect x="658.21" y="201.79" width="5.39" height="4.71" fill="#fefafb"/><rect x="663.56" y="201.79" width="5.39" height="4.71" fill="#fefbfb"/><rect x="620.8" y="206.45" width="5.39" height="4.71" fill="#fafbfd"/><rect x="626.14" y="206.45" width="5.39" height="4.71" fill="#fefbfc"/><rect x="631.49" y="206.45" width="5.39" height="4.71" fill="#fafbfd"/><rect x="636.83" y="206.45" width="5.39" height="4.71" fill="#fbfcfd"/><rect x="642.18" y="206.45" width="5.39" height="4.71" fill="#fffdfd"/><rect x="647.52" y="206.45" width="5.39" height="4.71" fill="#fcfdfe"/><rect x="652.87" y="206.45" width="5.39" height="4.71" fill="#fef9f9"/><rect x="658.21" y="206.45" width="5.39" height="4.71" fill="#fffefe"/><rect x="663.56" y="206.45" width="5.39" height="4.71" fill="#fefefe"/><rect x="620.8" y="211.11" width="5.39" height="4.71" fill="#fefbfc"/><rect x="626.14" y="211.11" width="5.39" height="4.71" fill="#f8fafc"/><rect x="631.49" y="211.11" width="5.39" height="4.71" fill="#fffcfd"/><rect x="636.83" y="211.11" width="5.39" height="4.71" fill="#f8fafc"/><rect x="642.18" y="211.11" width="5.39" height="4.71" fill="#fafbfd"/><rect x="647.52" y="211.11" width="5.39" height="4.71" fill="#fef9fa"/><rect x="652.87" y="211.11" width="5.39" height="4.71" fill="#fffdfd"/><rect x="658.21" y="211.11" width="5.39" height="4.71" fill="#fbfcfd"/><rect x="663.56" y="211.11" width="5.39" height="4.71" fill="#f9fafc"/><rect x="620.8" y="215.78" width="5.39" height="4.71" fill="#fefafb"/><rect x="626.14" y="215.78" width="5.39" height="4.71" fill="#fffefe"/><rect x="631.49" y="215.78" width="5.39" height="4.71" fill="#fffcfd"/><rect x="636.83" y="215.78" width="5.39" height="4.71" fill="#f8fafc"/><rect x="642.18" y="215.78" width="5.39" height="4.71" fill="#ffffff"/><rect x="647.52" y="215.78" width="5.39" height="4.71" fill="#fbfcfd"/><rect x="652.87" y="215.78" width="5.39" height="4.71" fill="#f9fbfd"/><rect x="658.21" y="215.78" width="5.39" height="4.71" fill="#fbfcfd"/><rect x="663.56" y="215.78" width="5.39" height="4.71" fill="#ffffff"/><rect x="620.8" y="220.44" width="5.39" height="4.71" fill="#f9fbfd"/><rect x="626.14" y="220.44" width="5.39" height="4.71" fill="#fafbfd"/><rect x="631.49" y="220.44" width="5.39" height="4.71" fill="#f6f8fb"/><rect x="636.83" y="220.44" width="5.39" height="4.71" fill="#fffdfe"/><rect x="642.18" y="220.44" width="5.39" height="4.71" fill="#fefeff"/><rect x="647.52" y="220.44" width="5.39" height="4.71" fill="#fffefe"/><rect x="652.87" y="220.44" width="5.39" height="4.71" fill="#fbfcfd"/><rect x="658.21" y="220.44" width="5.39" height="4.71" fill="#fffdfd"/><rect x="663.56" y="220.44" width="5.39" height="4.71" fill="#fcfdfe"/><rect x="620.8" y="225.11" width="5.39" height="4.71" fill="#fcfcfe"/><rect x="626.14" y="225.11" width="5.39" height="4.71" fill="#fbfcfd"/><rect x="631.49" y="225.11" width="5.39" height="4.71" fill="#fefefe"/><rect x="636.83" y="225.11" width="5.39" height="4.71" fill="#f9fafc"/><rect x="642.18" y="225.11" width="5.39" height="4.71" fill="#f4f7fa"/><rect x="647.52" y="225.11" width="5.39" height="4.71" fill="#f3f6fa"/><rect x="652.87" y="225.11" width="5.39" height="4.71" fill="#f6f8fb"/><rect x="658.21" y="225.11" width="5.39" height="4.71" fill="#f3f6fa"/><rect x="663.56" y="225.11" width="5.39" height="4.71" fill="#fffefe"/><rect x="620.8" y="229.77" width="5.39" height="4.71" fill="#f8fafc"/><rect x="626.14" y="229.77" width="5.39" height="4.71" fill="#fcfdfe"/><rect x="631.49" y="229.77" width="5.39" height="4.71" fill="#f1f4f9"/><rect x="636.83" y="229.77" width="5.39" height="4.71" fill="#f8fafc"/><rect x="642.18" y="229.77" width="5.39" height="4.71" fill="#feffff"/><rect x="647.52" y="229.77" width="5.39" height="4.71" fill="#fafbfd"/><rect x="652.87" y="229.77" width="5.39" height="4.71" fill="#f7f9fc"/><rect x="658.21" y="229.77" width="5.39" height="4.71" fill="#f8fafc"/><rect x="663.56" y="229.77" width="5.39" height="4.71" fill="#f2f5fa"/><rect x="620.8" y="234.44" width="5.39" height="4.71" fill="#f2f5f9"/><rect x="626.14" y="234.44" width="5.39" height="4.71" fill="#f2f5f9"/><rect x="631.49" y="234.44" width="5.39" height="4.71" fill="#f5f7fb"/><rect x="636.83" y="234.44" width="5.39" height="4.71" fill="#f5f7fb"/><rect x="642.18" y="234.44" width="5.39" height="4.71" fill="#fdfdfe"/><rect x="647.52" y="234.44" width="5.39" height="4.71" fill="#f2f5f9"/><rect x="652.87" y="234.44" width="5.39" height="4.71" fill="#f3f6fa"/><rect x="658.21" y="234.44" width="5.39" height="4.71" fill="#f3f6fa"/><rect x="663.56" y="234.44" width="5.39" height="4.71" fill="#f2f5f9"/><rect x="620.8" y="239.1" width="5.39" height="4.71" fill="#f2f5f9"/><rect x="626.14" y="239.1" width="5.39" height="4.71" fill="#f1f4f9"/><rect x="631.49" y="239.1" width="5.39" height="4.71" fill="#f5f7fb"/><rect x="636.83" y="239.1" width="5.39" height="4.71" fill="#eef2f8"/><rect x="642.18" y="239.1" width="5.39" height="4.71" fill="#fcfdfe"/><rect x="647.52" y="239.1" width="5.39" height="4.71" fill="#f3f6fa"/><rect x="652.87" y="239.1" width="5.39" height="4.71" fill="#fcfdfe"/><rect x="658.21" y="239.1" width="5.39" height="4.71" fill="#f8fafc"/><rect x="663.56" y="239.1" width="5.39" height="4.71" fill="#f8fafc"/><rect x="620.8" y="243.77" width="5.39" height="4.71" fill="#f3f6fa"/><rect x="626.14" y="243.77" width="5.39" height="4.71" fill="#fbfcfd"/><rect x="631.49" y="243.77" width="5.39" height="4.71" fill="#eef2f8"/><rect x="636.83" y="243.77" width="5.39" height="4.71" fill="#f6f8fb"/><rect x="642.18" y="243.77" width="5.39" height="4.71" fill="#f0f4f9"/><rect x="647.52" y="243.77" width="5.39" height="4.71" fill="#f6f8fb"/><rect x="652.87" y="243.77" width="5.39" height="4.71" fill="#f7f9fc"/><rect x="658.21" y="243.77" width="5.39" height="4.71" fill="#eef2f8"/><rect x="663.56" y="243.77" width="5.39" height="4.71" fill="#eff3f8"/><rect x="620.8" y="248.43" width="5.39" height="4.71" fill="#eaeff6"/><rect x="626.14" y="248.43" width="5.39" height="4.71" fill="#eef2f8"/><rect x="631.49" y="248.43" width="5.39" height="4.71" fill="#ebf0f7"/><rect x="636.83" y="248.43" width="5.39" height="4.71" fill="#f0f4f9"/><rect x="642.18" y="248.43" width="5.39" height="4.71" fill="#fafbfd"/><rect x="647.52" y="248.43" width="5.39" height="4.71" fill="#f0f3f8"/><rect x="652.87" y="248.43" width="5.39" height="4.71" fill="#eff3f8"/><rect x="658.21" y="248.43" width="5.39" height="4.71" fill="#f2f5f9"/><rect x="663.56" y="248.43" width="5.39" height="4.71" fill="#eff3f8"/><rect x="620.8" y="253.1" width="5.39" height="4.71" fill="#f4f7fa"/><rect x="626.14" y="253.1" width="5.39" height="4.71" fill="#f4f7fa"/><rect x="631.49" y="253.1" width="5.39" height="4.71" fill="#ebf0f6"/><rect x="636.83" y="253.1" width="5.39" height="4.71" fill="#ecf1f7"/><rect x="642.18" y="253.1" width="5.39" height="4.71" fill="#f3f6fa"/><rect x="647.52" y="253.1" width="5.39" height="4.71" fill="#f7f9fc"/><rect x="652.87" y="253.1" width="5.39" height="4.71" fill="#f3f6fa"/><rect x="658.21" y="253.1" width="5.39" height="4.71" fill="#eff3f8"/><rect x="663.56" y="253.1" width="5.39" height="4.71" fill="#f8fafc"/><rect x="620.8" y="257.76" width="5.39" height="4.71" fill="#e3eaf3"/><rect x="626.14" y="257.76" width="5.39" height="4.71" fill="#e4ebf3"/><rect x="631.49" y="257.76" width="5.39" height="4.71" fill="#f0f4f9"/><rect x="636.83" y="257.76" width="5.39" height="4.71" fill="#eaeff6"/><rect x="642.18" y="257.76" width="5.39" height="4.71" fill="#e4eaf3"/><rect x="647.52" y="257.76" width="5.39" height="4.71" fill="#ecf1f7"/><rect x="652.87" y="257.76" width="5.39" height="4.71" fill="#f4f6fa"/><rect x="658.21" y="257.76" width="5.39" height="4.71" fill="#ecf0f7"/><rect x="663.56" y="257.76" width="5.39" height="4.71" fill="#e9eef6"/><rect x="620.8" y="262.43" width="5.39" height="4.71" fill="#e0e7f2"/><rect x="626.14" y="262.43" width="5.39" height="4.71" fill="#dfe7f1"/><rect x="631.49" y="262.43" width="5.39" height="4.71" fill="#edf2f7"/><rect x="636.83" y="262.43" width="5.39" height="4.71" fill="#e7ecf4"/><rect x="642.18" y="262.43" width="5.39" height="4.71" fill="#eef2f8"/><rect x="647.52" y="262.43" width="5.39" height="4.71" fill="#dfe7f1"/><rect x="652.87" y="262.43" width="5.39" height="4.71" fill="#e2e9f3"/><rect x="658.21" y="262.43" width="5.39" height="4.71" fill="#dfe7f1"/><rect x="663.56" y="262.43" width="5.39" height="4.71" fill="#e5ebf4"/><rect x="620.8" y="267.09" width="5.39" height="4.71" fill="#dae3ef"/><rect x="626.14" y="267.09" width="5.39" height="4.71" fill="#dee6f1"/><rect x="631.49" y="267.09" width="5.39" height="4.71" fill="#e0e8f2"/><rect x="636.83" y="267.09" width="5.39" height="4.71" fill="#dee6f1"/><rect x="642.18" y="267.09" width="5.39" height="4.71" fill="#dae3ef"/><rect x="647.52" y="267.09" width="5.39" height="4.71" fill="#dae3ef"/><rect x="652.87" y="267.09" width="5.39" height="4.71" fill="#eaeff6"/><rect x="658.21" y="267.09" width="5.39" height="4.71" fill="#dce5f0"/><rect x="663.56" y="267.09" width="5.39" height="4.71" fill="#e2e9f2"/><rect x="620.8" y="271.76" width="5.39" height="4.71" fill="#dbe4f0"/><rect x="626.14" y="271.76" width="5.39" height="4.71" fill="#dee6f1"/><rect x="631.49" y="271.76" width="5.39" height="4.71" fill="#d6dfed"/><rect x="636.83" y="271.76" width="5.39" height="4.71" fill="#dae3ef"/><rect x="642.18" y="271.76" width="5.39" height="4.71" fill="#d6e0ed"/><rect x="647.52" y="271.76" width="5.39" height="4.71" fill="#dee6f1"/><rect x="652.87" y="271.76" width="5.39" height="4.71" fill="#e5ebf4"/><rect x="658.21" y="271.76" width="5.39" height="4.71" fill="#dfe6f1"/><rect x="663.56" y="271.76" width="5.39" height="4.71" fill="#e3eaf3"/><rect x="620.8" y="276.42" width="5.39" height="4.71" fill="#d5dfed"/><rect x="626.14" y="276.42" width="5.39" height="4.71" fill="#d2ddeb"/><rect x="631.49" y="276.42" width="5.39" height="4.71" fill="#dbe4f0"/><rect x="636.83" y="276.42" width="5.39" height="4.71" fill="#dae3ef"/><rect x="642.18" y="276.42" width="5.39" height="4.71" fill="#dce4f0"/><rect x="647.52" y="276.42" width="5.39" height="4.71" fill="#d8e2ee"/><rect x="652.87" y="276.42" width="5.39" height="4.71" fill="#dde5f0"/><rect x="658.21" y="276.42" width="5.39" height="4.71" fill="#dfe6f1"/><rect x="663.56" y="276.42" width="5.39" height="4.71" fill="#e2e9f3"/><rect x="620.8" y="281.09" width="5.39" height="4.71" fill="#d5dfed"/><rect x="626.14" y="281.09" width="5.39" height="4.71" fill="#d7e1ee"/><rect x="631.49" y="281.09" width="5.39" height="4.71" fill="#dee6f1"/><rect x="636.83" y="281.09" width="5.39" height="4.71" fill="#d3deec"/><rect x="642.18" y="281.09" width="5.39" height="4.71" fill="#d1dceb"/><rect x="647.52" y="281.09" width="5.39" height="4.71" fill="#d5dfed"/><rect x="652.87" y="281.09" width="5.39" height="4.71" fill="#d1dceb"/><rect x="658.21" y="281.09" width="5.39" height="4.71" fill="#dde5f0"/><rect x="663.56" y="281.09" width="5.39" height="4.71" fill="#dee6f1"/><rect x="620.8" y="285.75" width="5.39" height="4.71" fill="#d2ddec"/><rect x="626.14" y="285.75" width="5.39" height="4.71" fill="#cfdaea"/><rect x="631.49" y="285.75" width="5.39" height="4.71" fill="#cedaea"/><rect x="636.83" y="285.75" width="5.39" height="4.71" fill="#d1dceb"/><rect x="642.18" y="285.75" width="5.39" height="4.71" fill="#cedaea"/><rect x="647.52" y="285.75" width="5.39" height="4.71" fill="#d4dfed"/><rect x="652.87" y="285.75" width="5.39" height="4.71" fill="#d7e1ee"/><rect x="658.21" y="285.75" width="5.39" height="4.71" fill="#d1dceb"/><rect x="663.56" y="285.75" width="5.39" height="4.71" fill="#cdd9ea"/><rect x="620.8" y="290.42" width="5.39" height="4.71" fill="#d7e1ee"/><rect x="626.14" y="290.42" width="5.39" height="4.71" fill="#cbd7e8"/><rect x="631.49" y="290.42" width="5.39" height="4.71" fill="#ced9ea"/><rect x="636.83" y="290.42" width="5.39" height="4.71" fill="#cfdbea"/><rect x="642.18" y="290.42" width="5.39" height="4.71" fill="#d1dceb"/><rect x="647.52" y="290.42" width="5.39" height="4.71" fill="#ccd8e9"/><rect x="652.87" y="290.42" width="5.39" height="4.71" fill="#d2ddeb"/><rect x="658.21" y="290.42" width="5.39" height="4.71" fill="#d0dbeb"/><rect x="663.56" y="290.42" width="5.39" height="4.71" fill="#d8e1ee"/><rect x="620.8" y="295.08" width="5.39" height="4.71" fill="#d2ddec"/><rect x="626.14" y="295.08" width="5.39" height="4.71" fill="#d8e2ee"/><rect x="631.49" y="295.08" width="5.39" height="4.71" fill="#d4deec"/><rect x="636.83" y="295.08" width="5.39" height="4.71" fill="#d6e0ed"/><rect x="642.18" y="295.08" width="5.39" height="4.71" fill="#d2ddec"/><rect x="647.52" y="295.08" width="5.39" height="4.71" fill="#d0dbeb"/><rect x="652.87" y="295.08" width="5.39" height="4.71" fill="#d7e0ee"/><rect x="658.21" y="295.08" width="5.39" height="4.71" fill="#d4deec"/><rect x="663.56" y="295.08" width="5.39" height="4.71" fill="#dae2ef"/><rect x="620.8" y="299.75" width="5.39" height="4.71" fill="#d3ddec"/><rect x="626.14" y="299.75" width="5.39" height="4.71" fill="#d2ddec"/><rect x="631.49" y="299.75" width="5.39" height="4.71" fill="#cad7e8"/><rect x="636.83" y="299.75" width="5.39" height="4.71" fill="#d4dfed"/><rect x="642.18" y="299.75" width="5.39" height="4.71" fill="#ccd8e9"/><rect x="647.52" y="299.75" width="5.39" height="4.71" fill="#c7d5e7"/><rect x="652.87" y="299.75" width="5.39" height="4.71" fill="#c6d4e6"/><rect x="658.21" y="299.75" width="5.39" height="4.71" fill="#c8d5e7"/><rect x="663.56" y="299.75" width="5.39" height="4.71" fill="#cad6e8"/><rect x="620.8" y="304.41" width="5.39" height="4.71" fill="#d0dbeb"/><rect x="626.14" y="304.41" width="5.39" height="4.71" fill="#c8d5e7"/><rect x="631.49" y="304.41" width="5.39" height="4.71" fill="#c4d2e5"/><rect x="636.83" y="304.41" width="5.39" height="4.71" fill="#d2dceb"/><rect x="642.18" y="304.41" width="5.39" height="4.71" fill="#cdd9ea"/><rect x="647.52" y="304.41" width="5.39" height="4.71" fill="#c3d1e5"/><rect x="652.87" y="304.41" width="5.39" height="4.71" fill="#c4d2e5"/><rect x="658.21" y="304.41" width="5.39" height="4.71" fill="#c5d3e6"/><rect x="663.56" y="304.41" width="5.39" height="4.71" fill="#cad6e8"/><rect x="620.8" y="309.07" width="5.39" height="4.71" fill="#d1dceb"/><rect x="626.14" y="309.07" width="5.39" height="4.71" fill="#d3deec"/><rect x="631.49" y="309.07" width="5.39" height="4.71" fill="#cdd9e9"/><rect x="636.83" y="309.07" width="5.39" height="4.71" fill="#c5d3e6"/><rect x="642.18" y="309.07" width="5.39" height="4.71" fill="#c9d6e8"/><rect x="647.52" y="309.07" width="5.39" height="4.71" fill="#c8d5e7"/><rect x="652.87" y="309.07" width="5.39" height="4.71" fill="#c7d4e7"/><rect x="658.21" y="309.07" width="5.39" height="4.71" fill="#c1d0e4"/><rect x="663.56" y="309.07" width="5.39" height="4.71" fill="#ccd8e9"/><rect x="620.8" y="313.74" width="5.39" height="4.71" fill="#cfdaea"/><rect x="626.14" y="313.74" width="5.39" height="4.71" fill="#fdf3f5"/><rect x="631.49" y="313.74" width="5.39" height="4.71" fill="#c0cfe4"/><rect x="636.83" y="313.74" width="5.39" height="4.71" fill="#c9d6e8"/><rect x="642.18" y="313.74" width="5.39" height="4.71" fill="#c2d0e5"/><rect x="647.52" y="313.74" width="5.39" height="4.71" fill="#ffffff"/><rect x="652.87" y="313.74" width="5.39" height="4.71" fill="#a3b9d7"/><rect x="658.21" y="313.74" width="5.39" height="4.71" fill="#9eb5d5"/><rect x="663.56" y="313.74" width="5.39" height="4.71" fill="#cedaea"/><rect x="620.8" y="318.4" width="5.39" height="4.71" fill="#bfcee3"/><rect x="626.14" y="318.4" width="5.39" height="4.71" fill="#c3d1e5"/><rect x="631.49" y="318.4" width="5.39" height="4.71" fill="#cfdaea"/><rect x="636.83" y="318.4" width="5.39" height="4.71" fill="#c6d3e6"/><rect x="642.18" y="318.4" width="5.39" height="4.71" fill="#c5d3e6"/><rect x="647.52" y="318.4" width="5.39" height="4.71" fill="#c5d3e6"/><rect x="652.87" y="318.4" width="5.39" height="4.71" fill="#ccd8e9"/><rect x="658.21" y="318.4" width="5.39" height="4.71" fill="#cfdbea"/><rect x="663.56" y="318.4" width="5.39" height="4.71" fill="#c7d4e7"/><rect x="620.8" y="323.07" width="5.39" height="4.71" fill="#cedaea"/><rect x="626.14" y="323.07" width="5.39" height="4.71" fill="#c6d4e6"/><rect x="631.49" y="323.07" width="5.39" height="4.71" fill="#bccce2"/><rect x="636.83" y="323.07" width="5.39" height="4.71" fill="#cbd7e8"/><rect x="642.18" y="323.07" width="5.39" height="4.71" fill="#c3d1e5"/><rect x="647.52" y="323.07" width="5.39" height="4.71" fill="#bbcbe2"/><rect x="652.87" y="323.07" width="5.39" height="4.71" fill="#cedaea"/><rect x="658.21" y="323.07" width="5.39" height="4.71" fill="#bbcbe1"/><rect x="663.56" y="323.07" width="5.39" height="4.71" fill="#c6d3e6"/><rect x="620.8" y="327.73" width="5.39" height="4.71" fill="#c2d0e5"/><rect x="626.14" y="327.73" width="5.39" height="4.71" fill="#cad7e8"/><rect x="631.49" y="327.73" width="5.39" height="4.71" fill="#c0cfe4"/><rect x="636.83" y="327.73" width="5.39" height="4.71" fill="#bccce2"/><rect x="642.18" y="327.73" width="5.39" height="4.71" fill="#becde3"/><rect x="647.52" y="327.73" width="5.39" height="4.71" fill="#bccce2"/><rect x="652.87" y="327.73" width="5.39" height="4.71" fill="#c4d2e5"/><rect x="658.21" y="327.73" width="5.39" height="4.71" fill="#bfcfe3"/><rect x="663.56" y="327.73" width="5.39" height="4.71" fill="#c7d5e7"/><rect x="620.8" y="332.4" width="5.39" height="4.71" fill="#b9cae1"/><rect x="626.14" y="332.4" width="5.39" height="4.71" fill="#bbcbe2"/><rect x="631.49" y="332.4" width="5.39" height="4.71" fill="#b9cae1"/><rect x="636.83" y="332.4" width="5.39" height="4.71" fill="#c8d5e7"/><rect x="642.18" y="332.4" width="5.39" height="4.71" fill="#c5d3e6"/><rect x="647.52" y="332.4" width="5.39" height="4.71" fill="#c6d3e6"/><rect x="652.87" y="332.4" width="5.39" height="4.71" fill="#c1d0e4"/><rect x="658.21" y="332.4" width="5.39" height="4.71" fill="#bccce2"/><rect x="663.56" y="332.4" width="5.39" height="4.71" fill="#b7c8e0"/><rect x="620.8" y="337.06" width="5.39" height="4.71" fill="#c1d0e4"/><rect x="626.14" y="337.06" width="5.39" height="4.71" fill="#bacae1"/><rect x="631.49" y="337.06" width="5.39" height="4.71" fill="#b0c3dd"/><rect x="636.83" y="337.06" width="5.39" height="4.71" fill="#b3c5de"/><rect x="642.18" y="337.06" width="5.39" height="4.71" fill="#b2c4de"/><rect x="647.52" y="337.06" width="5.39" height="4.71" fill="#bfcee3"/><rect x="652.87" y="337.06" width="5.39" height="4.71" fill="#c3d1e5"/><rect x="658.21" y="337.06" width="5.39" height="4.71" fill="#b4c6de"/><rect x="663.56" y="337.06" width="5.39" height="4.71" fill="#c1cfe4"/><rect x="620.8" y="341.73" width="5.39" height="4.71" fill="#b2c5de"/><rect x="626.14" y="341.73" width="5.39" height="4.71" fill="#bacbe1"/><rect x="631.49" y="341.73" width="5.39" height="4.71" fill="#becee3"/><rect x="636.83" y="341.73" width="5.39" height="4.71" fill="#b9cae1"/><rect x="642.18" y="341.73" width="5.39" height="4.71" fill="#bdcde2"/><rect x="647.52" y="341.73" width="5.39" height="4.71" fill="#b3c5de"/><rect x="652.87" y="341.73" width="5.39" height="4.71" fill="#abbfdb"/><rect x="658.21" y="341.73" width="5.39" height="4.71" fill="#b6c8e0"/><rect x="663.56" y="341.73" width="5.39" height="4.71" fill="#b8c9e0"/><rect x="620.8" y="346.39" width="5.39" height="4.71" fill="#96afd2"/><rect x="626.14" y="346.39" width="5.39" height="4.71" fill="#9bb3d4"/><rect x="631.49" y="346.39" width="5.39" height="4.71" fill="#99b2d3"/><rect x="636.83" y="346.39" width="5.39" height="4.71" fill="#92acd0"/><rect x="642.18" y="346.39" width="5.39" height="4.71" fill="#99b2d3"/><rect x="647.52" y="346.39" width="5.39" height="4.71" fill="#9bb3d4"/><rect x="652.87" y="346.39" width="5.39" height="4.71" fill="#9db5d5"/><rect x="658.21" y="346.39" width="5.39" height="4.71" fill="#a3b9d7"/><rect x="663.56" y="346.39" width="5.39" height="4.71" fill="#9bb3d4"/><rect x="620.8" y="351.06" width="5.39" height="4.71" fill="#b7c8e0"/><rect x="626.14" y="351.06" width="5.39" height="4.71" fill="#b4c6de"/><rect x="631.49" y="351.06" width="5.39" height="4.71" fill="#b6c7df"/><rect x="636.83" y="351.06" width="5.39" height="4.71" fill="#b1c3dd"/><rect x="642.18" y="351.06" width="5.39" height="4.71" fill="#b0c3dd"/><rect x="647.52" y="351.06" width="5.39" height="4.71" fill="#adc1dc"/><rect x="652.87" y="351.06" width="5.39" height="4.71" fill="#b3c5de"/><rect x="658.21" y="351.06" width="5.39" height="4.71" fill="#a9beda"/><rect x="663.56" y="351.06" width="5.39" height="4.71" fill="#afc2dc"/><rect x="620.8" y="355.72" width="5.39" height="4.71" fill="#aec1dc"/><rect x="626.14" y="355.72" width="5.39" height="4.71" fill="#aabfda"/><rect x="631.49" y="355.72" width="5.39" height="4.71" fill="#a5bad8"/><rect x="636.83" y="355.72" width="5.39" height="4.71" fill="#a0b7d6"/><rect x="642.18" y="355.72" width="5.39" height="4.71" fill="#a0b7d6"/><rect x="647.52" y="355.72" width="5.39" height="4.71" fill="#a7bcd9"/><rect x="652.87" y="355.72" width="5.39" height="4.71" fill="#acc0db"/><rect x="658.21" y="355.72" width="5.39" height="4.71" fill="#b0c3dd"/><rect x="663.56" y="355.72" width="5.39" height="4.71" fill="#afc2dc"/><rect x="620.8" y="360.39" width="5.39" height="4.71" fill="#a3b9d7"/><rect x="626.14" y="360.39" width="5.39" height="4.71" fill="#b2c4de"/><rect x="631.49" y="360.39" width="5.39" height="4.71" fill="#a2b8d7"/><rect x="636.83" y="360.39" width="5.39" height="4.71" fill="#adc0db"/><rect x="642.18" y="360.39" width="5.39" height="4.71" fill="#9eb5d5"/><rect x="647.52" y="360.39" width="5.39" height="4.71" fill="#adc1dc"/><rect x="652.87" y="360.39" width="5.39" height="4.71" fill="#abbfdb"/><rect x="658.21" y="360.39" width="5.39" height="4.71" fill="#b2c5de"/><rect x="663.56" y="360.39" width="5.39" height="4.71" fill="#b1c3dd"/><rect x="620.8" y="365.05" width="5.39" height="4.71" fill="#aabeda"/><rect x="626.14" y="365.05" width="5.39" height="4.71" fill="#adc1dc"/><rect x="631.49" y="365.05" width="5.39" height="4.71" fill="#abbfdb"/><rect x="636.83" y="365.05" width="5.39" height="4.71" fill="#a8bdd9"/><rect x="642.18" y="365.05" width="5.39" height="4.71" fill="#9eb5d5"/><rect x="647.52" y="365.05" width="5.39" height="4.71" fill="#a5bbd8"/><rect x="652.87" y="365.05" width="5.39" height="4.71" fill="#aec2dc"/><rect x="658.21" y="365.05" width="5.39" height="4.71" fill="#9fb6d5"/><rect x="663.56" y="365.05" width="5.39" height="4.71" fill="#b0c3dd"/><rect x="620.8" y="369.72" width="5.39" height="4.71" fill="#a4b9d8"/><rect x="626.14" y="369.72" width="5.39" height="4.71" fill="#a0b7d6"/><rect x="631.49" y="369.72" width="5.39" height="4.71" fill="#97b0d2"/><rect x="636.83" y="369.72" width="5.39" height="4.71" fill="#a0b7d6"/><rect x="642.18" y="369.72" width="5.39" height="4.71" fill="#688cbe"/><rect x="647.52" y="369.72" width="5.39" height="4.71" fill="#a6bbd9"/><rect x="652.87" y="369.72" width="5.39" height="4.71" fill="#acc0db"/><rect x="658.21" y="369.72" width="5.39" height="4.71" fill="#acc0db"/><rect x="663.56" y="369.72" width="5.39" height="4.71" fill="#a5bbd8"/><rect x="620.8" y="374.38" width="5.39" height="4.71" fill="#96afd2"/><rect x="626.14" y="374.38" width="5.39" height="4.71" fill="#e2e9f2"/><rect x="631.49" y="374.38" width="5.39" height="4.71" fill="#dbe3ef"/><rect x="636.83" y="374.38" width="5.39" height="4.71" fill="#9ab2d3"/><rect x="642.18" y="374.38" width="5.39" height="4.71" fill="#9eb5d5"/><rect x="647.52" y="374.38" width="5.39" height="4.71" fill="#dbe3ef"/><rect x="652.87" y="374.38" width="5.39" height="4.71" fill="#a3b9d7"/><rect x="658.21" y="374.38" width="5.39" height="4.71" fill="#d3deec"/><rect x="663.56" y="374.38" width="5.39" height="4.71" fill="#94aed1"/><rect x="620.8" y="379.05" width="5.39" height="4.71" fill="#668bbd"/><rect x="626.14" y="379.05" width="5.39" height="4.71" fill="#7193c2"/><rect x="631.49" y="379.05" width="5.39" height="4.71" fill="#7999c5"/><rect x="636.83" y="379.05" width="5.39" height="4.71" fill="#6489bc"/><rect x="642.18" y="379.05" width="5.39" height="4.71" fill="#92acd0"/><rect x="647.52" y="379.05" width="5.39" height="4.71" fill="#7596c3"/><rect x="652.87" y="379.05" width="5.39" height="4.71" fill="#658abd"/><rect x="658.21" y="379.05" width="5.39" height="4.71" fill="#6086ba"/><rect x="663.56" y="379.05" width="5.39" height="4.71" fill="#6f91c1"/><rect x="620.8" y="383.71" width="5.39" height="4.71" fill="#5f85ba"/><rect x="626.14" y="383.71" width="5.39" height="4.71" fill="#6187bb"/><rect x="631.49" y="383.71" width="5.39" height="4.71" fill="#5c83b9"/><rect x="636.83" y="383.71" width="5.39" height="4.71" fill="#527cb4"/><rect x="642.18" y="383.71" width="5.39" height="4.71" fill="#537cb4"/><rect x="647.52" y="383.71" width="5.39" height="4.71" fill="#567eb6"/><rect x="652.87" y="383.71" width="5.39" height="4.71" fill="#6287bb"/><rect x="658.21" y="383.71" width="5.39" height="4.71" fill="#4f79b3"/><rect x="663.56" y="383.71" width="5.39" height="4.71" fill="#4e78b3"/><rect x="620.8" y="388.38" width="5.39" height="4.71" fill="#537cb5"/><rect x="626.14" y="388.38" width="5.39" height="4.71" fill="#5f85ba"/><rect x="631.49" y="388.38" width="5.39" height="4.71" fill="#4672af"/><rect x="636.83" y="388.38" width="5.39" height="4.71" fill="#416ead"/><rect x="642.18" y="388.38" width="5.39" height="4.71" fill="#4470ae"/><rect x="647.52" y="388.38" width="5.39" height="4.71" fill="#527bb4"/><rect x="652.87" y="388.38" width="5.39" height="4.71" fill="#537cb5"/><rect x="658.21" y="388.38" width="5.39" height="4.71" fill="#4672af"/><rect x="663.56" y="388.38" width="5.39" height="4.71" fill="#4672af"/><rect x="620.8" y="393.04" width="5.39" height="4.71" fill="#406dac"/><rect x="626.14" y="393.04" width="5.39" height="4.71" fill="#426fad"/><rect x="631.49" y="393.04" width="5.39" height="4.71" fill="#4370ae"/><rect x="636.83" y="393.04" width="5.39" height="4.71" fill="#4471ae"/><rect x="642.18" y="393.04" width="5.39" height="4.71" fill="#2e60a5"/><rect x="647.52" y="393.04" width="5.39" height="4.71" fill="#3c6bab"/><rect x="652.87" y="393.04" width="5.39" height="4.71" fill="#4874b0"/><rect x="658.21" y="393.04" width="5.39" height="4.71" fill="#4c77b2"/><rect x="663.56" y="393.04" width="5.39" height="4.71" fill="#3666a8"/><rect x="620.8" y="397.71" width="5.39" height="4.71" fill="#3868a9"/><rect x="626.14" y="397.71" width="5.39" height="4.71" fill="#3162a6"/><rect x="631.49" y="397.71" width="5.39" height="4.71" fill="#3b6aaa"/><rect x="636.83" y="397.71" width="5.39" height="4.71" fill="#22579f"/><rect x="642.18" y="397.71" width="5.39" height="4.71" fill="#3363a7"/><rect x="647.52" y="397.71" width="5.39" height="4.71" fill="#3867a9"/><rect x="652.87" y="397.71" width="5.39" height="4.71" fill="#2b5da3"/><rect x="658.21" y="397.71" width="5.39" height="4.71" fill="#1d539d"/><rect x="663.56" y="397.71" width="5.39" height="4.71" fill="#21569f"/><rect x="620.8" y="402.37" width="5.39" height="4.71" fill="#0e4797"/><rect x="626.14" y="402.37" width="5.39" height="4.71" fill="#0c4696"/><rect x="631.49" y="402.37" width="5.39" height="4.71" fill="#0e4797"/><rect x="636.83" y="402.37" width="5.39" height="4.71" fill="#1f549e"/><rect x="642.18" y="402.37" width="5.39" height="4.71" fill="#0c4696"/><rect x="647.52" y="402.37" width="5.39" height="4.71" fill="#2458a0"/><rect x="652.87" y="402.37" width="5.39" height="4.71" fill="#2358a0"/><rect x="658.21" y="402.37" width="5.39" height="4.71" fill="#265aa1"/><rect x="663.56" y="402.37" width="5.39" height="4.71" fill="#265aa1"/><rect x="620.8" y="407.04" width="5.39" height="4.71" fill="#144c9a"/><rect x="626.14" y="407.04" width="5.39" height="4.71" fill="#1c539d"/><rect x="631.49" y="407.04" width="5.39" height="4.71" fill="#1e549e"/><rect x="636.83" y="407.04" width="5.39" height="4.71" fill="#114a98"/><rect x="642.18" y="407.04" width="5.39" height="4.71" fill="#1e549e"/><rect x="647.52" y="407.04" width="5.39" height="4.71" fill="#0c4696"/><rect x="652.87" y="407.04" width="5.39" height="4.71" fill="#0c4696"/><rect x="658.21" y="407.04" width="5.39" height="4.71" fill="#0c4696"/><rect x="663.56" y="407.04" width="5.39" height="4.71" fill="#0c4696"/>
<path d="M620.8 1.2H668.9M620.8 5.86H668.9M620.8 10.53H668.9M620.8 15.19H668.9M620.8 19.86H668.9M620.8 24.52H668.9M620.8 29.19H668.9M620.8 33.85H668.9M620.8 38.52H668.9M620.8 43.18H668.9M620.8 47.85H668.9M620.8 52.51H668.9M620.8 57.18H668.9M620.8 61.84H668.9M620.8 66.51H668.9M620.8 71.17H668.9M620.8 75.84H668.9M620.8 80.5H668.9M620.8 85.17H668.9M620.8 89.83H668.9M620.8 94.5H668.9M620.8 99.16H668.9M620.8 103.83H668.9M620.8 108.49H668.9M620.8 113.15H668.9M620.8 117.82H668.9M620.8 122.48H668.9M620.8 127.15H668.9M620.8 131.81H668.9M620.8 136.48H668.9M620.8 141.14H668.9M620.8 145.81H668.9M620.8 150.47H668.9M620.8 155.14H668.9M620.8 159.8H668.9M620.8 164.47H668.9M620.8 169.13H668.9M620.8 173.8H668.9M620.8 178.46H668.9M620.8 183.13H668.9M620.8 187.79H668.9M620.8 192.46H668.9M620.8 197.12H668.9M620.8 201.79H668.9M620.8 206.45H668.9M620.8 211.11H668.9M620.8 215.78H668.9M620.8 220.44H668.9M620.8 225.11H668.9M620.8 229.77H668.9M620.8 234.44H668.9M620.8 239.1H668.9M620.8 243.77H668.9M620.8 248.43H668.9M620.8 253.1H668.9M620.8 257.76H668.9M620.8 262.43H668.9M620.8 267.09H668.9M620.8 271.76H668.9M620.8 276.42H668.9M620.8 281.09H668.9M620.8 285.75H668.9M620.8 290.42H668.9M620.8 295.08H668.9M620.8 299.75H668.9M620.8 304.41H668.9M620.8 309.07H668.9M620.8 313.74H668.9M620.8 318.4H668.9M620.8 323.07H668.9M620.8 327.73H668.9M620.8 332.4H668.9M620.8 337.06H668.9M620.8 341.73H668.9M620.8 346.39H668.9M620.8 351.06H668.9M620.8 355.72H668.9M620.8 360.39H668.9M620.8 365.05H668.9M620.8 369.72H668.9M620.8 374.38H668.9M620.8 379.05H668.9M620.8 383.71H668.9M620.8 388.38H668.9M620.8 393.04H668.9M620.8 397.71H668.9M620.8 402.37H668.9M620.8 407.04H668.9M620.8 411.7H668.9M620.8 1.2V411.7M626.14 1.2V411.7M631.49 1.2V411.7M636.83 1.2V411.7M642.18 1.2V411.7M647.52 1.2V411.7M652.87 1.2V411.7M658.21 1.2V411.7M663.56 1.2V411.7M668.9 1.2V411.7" stroke="#111" stroke-opacity="0.6" stroke-width="0.5" fill="none"/>
<text x="615.6" y="5.28" font-size="5.05" text-anchor="end" stroke="#000" stroke-width="0.05">CALR</text>
<text x="615.6" y="9.95" font-size="5.05" text-anchor="end" stroke="#000" stroke-width="0.05">HSPA5</text>
<text x="615.6" y="14.61" font-size="5.05" text-anchor="end" stroke="#000" stroke-width="0.05">HSP90B1</text>
<text x="615.6" y="19.28" font-size="5.05" text-anchor="end" stroke="#000" stroke-width="0.05">TPP1</text>
<text x="615.6" y="23.94" font-size="5.05" text-anchor="end" stroke="#000" stroke-width="0.05">TLN1</text>
<text x="615.6" y="28.61" font-size="5.05" text-anchor="end" stroke="#000" stroke-width="0.05">HDGF</text>
<text x="615.6" y="33.27" font-size="5.05" text-anchor="end" stroke="#000" stroke-width="0.05">HERPUD1</text>
<text x="615.6" y="37.94" font-size="5.05" text-anchor="end" stroke="#000" stroke-width="0.05">ADD1</text>
<text x="615.6" y="42.6" font-size="5.05" text-anchor="end" stroke="#000" stroke-width="0.05">ATF4</text>
<text x="615.6" y="47.27" font-size="5.05" text-anchor="end" stroke="#000" stroke-width="0.05">LMNA</text>
<text x="615.6" y="51.93" font-size="5.05" text-anchor="end" stroke="#000" stroke-width="0.05">Acadvl</text>
<text x="615.6" y="56.59" font-size="5.05" text-anchor="end" stroke="#000" stroke-width="0.05">ATP6V0D1</text>
<text x="615.6" y="61.26" font-size="5.05" text-anchor="end" stroke="#000" stroke-width="0.05">PDIA6</text>
<text x="615.6" y="65.92" font-size="5.05" text-anchor="end" stroke="#000" stroke-width="0.05">DCTN1</text>
<text x="615.6" y="70.59" font-size="5.05" text-anchor="end" stroke="#000" stroke-width="0.05">CTDSP2</text>
<text x="615.6" y="75.25" font-size="5.05" text-anchor="end" stroke="#000" stroke-width="0.05">XBP1</text>
<text x="615.6" y="79.92" font-size="5.05" text-anchor="end" stroke="#000" stroke-width="0.05">SEC31A</text>
<text x="615.6" y="84.58" font-size="5.05" text-anchor="end" stroke="#000" stroke-width="0.05">GOSR2</text>
<text x="615.6" y="89.25" font-size="5.05" text-anchor="end" stroke="#000" stroke-width="0.05">WIPI1</text>
<text x="615.6" y="93.91" font-size="5.05" text-anchor="end" stroke="#000" stroke-width="0.05">MBTPS1</text>
<text x="615.6" y="98.58" font-size="5.05" text-anchor="end" stroke="#000" stroke-width="0.05">MYDGF</text>
<text x="615.6" y="103.24" font-size="5.05" text-anchor="end" stroke="#000" stroke-width="0.05">SHC1</text>
<text x="615.6" y="107.91" font-size="5.05" text-anchor="end" stroke="#000" stroke-width="0.05">SSR1</text>
<text x="615.6" y="112.57" font-size="5.05" text-anchor="end" stroke="#000" stroke-width="0.05">ATF6B</text>
<text x="615.6" y="117.24" font-size="5.05" text-anchor="end" stroke="#000" stroke-width="0.05">DNAJB9</text>
<text x="615.6" y="121.9" font-size="5.05" text-anchor="end" stroke="#000" stroke-width="0.05">GSK3A</text>
<text x="615.6" y="126.57" font-size="5.05" text-anchor="end" stroke="#000" stroke-width="0.05">CREB3</text>
<text x="615.6" y="131.23" font-size="5.05" text-anchor="end" stroke="#000" stroke-width="0.05">DNAJB11</text>
<text x="615.6" y="135.9" font-size="5.05" text-anchor="end" stroke="#000" stroke-width="0.05">NFYC</text>
<text x="615.6" y="140.56" font-size="5.05" text-anchor="end" stroke="#000" stroke-width="0.05">GFPT1</text>
<text x="615.6" y="145.23" font-size="5.05" text-anchor="end" stroke="#000" stroke-width="0.05">PPP2R5B</text>
<text x="615.6" y="149.89" font-size="5.05" text-anchor="end" stroke="#000" stroke-width="0.05">KHSRP</text>
<text x="615.6" y="154.56" font-size="5.05" text-anchor="end" stroke="#000" stroke-width="0.05">DNAJC3</text>
<text x="615.6" y="159.22" font-size="5.05" text-anchor="end" stroke="#000" stroke-width="0.05">YIF1A</text>
<text x="615.6" y="163.88" font-size="5.05" text-anchor="end" stroke="#000" stroke-width="0.05">CXXC1</text>
<text x="615.6" y="168.55" font-size="5.05" text-anchor="end" stroke="#000" stroke-width="0.05">PREB</text>
<text x="615.6" y="173.21" font-size="5.05" text-anchor="end" stroke="#000" stroke-width="0.05">SRPRB</text>
<text x="615.6" y="177.88" font-size="5.05" text-anchor="end" stroke="#000" stroke-width="0.05">EIF2AK3</text>
<text x="615.6" y="182.54" font-size="5.05" text-anchor="end" stroke="#000" stroke-width="0.05">CREB3L2</text>
<text x="615.6" y="187.21" font-size="5.05" text-anchor="end" stroke="#000" stroke-width="0.05">EXTL3</text>
<text x="615.6" y="191.87" font-size="5.05" text-anchor="end" stroke="#000" stroke-width="0.05">EXOSC3</text>
<text x="615.6" y="196.54" font-size="5.05" text-anchor="end" stroke="#000" stroke-width="0.05">KLHDC3</text>
<text x="615.6" y="201.2" font-size="5.05" text-anchor="end" stroke="#000" stroke-width="0.05">SERP1</text>
<text x="615.6" y="205.87" font-size="5.05" text-anchor="end" stroke="#000" stroke-width="0.05">ARFGAP1</text>
<text x="615.6" y="210.53" font-size="5.05" text-anchor="end" stroke="#000" stroke-width="0.05">CREBRF</text>
<text x="615.6" y="215.2" font-size="5.05" text-anchor="end" stroke="#000" stroke-width="0.05">KDELR3</text>
<text x="615.6" y="219.86" font-size="5.05" text-anchor="end" stroke="#000" stroke-width="0.05">EIF2S2</text>
<text x="615.6" y="224.53" font-size="5.05" text-anchor="end" stroke="#000" stroke-width="0.05">HYOU1</text>
<text x="615.6" y="229.19" font-size="5.05" text-anchor="end" stroke="#000" stroke-width="0.05">PDIA5</text>
<text x="615.6" y="233.86" font-size="5.05" text-anchor="end" stroke="#000" stroke-width="0.05">FKBP14</text>
<text x="615.6" y="238.52" font-size="5.05" text-anchor="end" stroke="#000" stroke-width="0.05">NFYA</text>
<text x="615.6" y="243.19" font-size="5.05" text-anchor="end" stroke="#000" stroke-width="0.05">EXTL2</text>
<text x="615.6" y="247.85" font-size="5.05" text-anchor="end" stroke="#000" stroke-width="0.05">DDIT3</text>
<text x="615.6" y="252.52" font-size="5.05" text-anchor="end" stroke="#000" stroke-width="0.05">WFS1</text>
<text x="615.6" y="257.18" font-size="5.05" text-anchor="end" stroke="#000" stroke-width="0.05">TSPYL2</text>
<text x="615.6" y="261.84" font-size="5.05" text-anchor="end" stroke="#000" stroke-width="0.05">CEBPG</text>
<text x="615.6" y="266.51" font-size="5.05" text-anchor="end" stroke="#000" stroke-width="0.05">CUL7</text>
<text x="615.6" y="271.17" font-size="5.05" text-anchor="end" stroke="#000" stroke-width="0.05">CREB3L1</text>
<text x="615.6" y="275.84" font-size="5.05" text-anchor="end" stroke="#000" stroke-width="0.05">SYVN1</text>
<text x="615.6" y="280.5" font-size="5.05" text-anchor="end" stroke="#000" stroke-width="0.05">TATDN2</text>
<text x="615.6" y="285.17" font-size="5.05" text-anchor="end" stroke="#000" stroke-width="0.05">EIF2S1</text>
<text x="615.6" y="289.83" font-size="5.05" text-anchor="end" stroke="#000" stroke-width="0.05">EXOSC4</text>
<text x="615.6" y="294.5" font-size="5.05" text-anchor="end" stroke="#000" stroke-width="0.05">PARN</text>
<text x="615.6" y="299.16" font-size="5.05" text-anchor="end" stroke="#000" stroke-width="0.05">ERN1</text>
<text x="615.6" y="303.83" font-size="5.05" text-anchor="end" stroke="#000" stroke-width="0.05">MBTPS2</text>
<text x="615.6" y="308.49" font-size="5.05" text-anchor="end" stroke="#000" stroke-width="0.05">ATF6</text>
<text x="615.6" y="313.16" font-size="5.05" text-anchor="end" stroke="#000" stroke-width="0.05">NFYB</text>
<text x="615.6" y="317.82" font-size="5.05" text-anchor="end" stroke="#000" stroke-width="0.05">CEBPB</text>
<text x="615.6" y="322.49" font-size="5.05" text-anchor="end" stroke="#000" stroke-width="0.05">EXOSC2</text>
<text x="615.6" y="327.15" font-size="5.05" text-anchor="end" stroke="#000" stroke-width="0.05">EDEM1</text>
<text x="615.6" y="331.82" font-size="5.05" text-anchor="end" stroke="#000" stroke-width="0.05">EXOSC5</text>
<text x="615.6" y="336.48" font-size="5.05" text-anchor="end" stroke="#000" stroke-width="0.05">EXOSC9</text>
<text x="615.6" y="341.15" font-size="5.05" text-anchor="end" stroke="#000" stroke-width="0.05">ZBTB17</text>
<text x="615.6" y="345.81" font-size="5.05" text-anchor="end" stroke="#000" stroke-width="0.05">EXOSC8</text>
<text x="615.6" y="350.48" font-size="5.05" text-anchor="end" stroke="#000" stroke-width="0.05">ATF3</text>
<text x="615.6" y="355.14" font-size="5.05" text-anchor="end" stroke="#000" stroke-width="0.05">EXOSC1</text>
<text x="615.6" y="359.81" font-size="5.05" text-anchor="end" stroke="#000" stroke-width="0.05">DCP2</text>
<text x="615.6" y="364.47" font-size="5.05" text-anchor="end" stroke="#000" stroke-width="0.05">EXOSC7</text>
<text x="615.6" y="369.13" font-size="5.05" text-anchor="end" stroke="#000" stroke-width="0.05">DIS3</text>
<text x="615.6" y="373.8" font-size="5.05" text-anchor="end" stroke="#000" stroke-width="0.05">EXTL1</text>
<text x="615.6" y="378.46" font-size="5.05" text-anchor="end" stroke="#000" stroke-width="0.05">ASNS</text>
<text x="615.6" y="383.13" font-size="5.05" text-anchor="end" stroke="#000" stroke-width="0.05">CCL2</text>
<text x="615.6" y="387.79" font-size="5.05" text-anchor="end" stroke="#000" stroke-width="0.05">CREB3L3</text>
<text x="615.6" y="392.46" font-size="5.05" text-anchor="end" stroke="#000" stroke-width="0.05">DDX11</text>
<text x="615.6" y="397.12" font-size="5.05" text-anchor="end" stroke="#000" stroke-width="0.05">CREB3L4</text>
<text x="615.6" y="401.79" font-size="5.05" text-anchor="end" stroke="#000" stroke-width="0.05">DCSTAMP</text>
<text x="615.6" y="406.45" font-size="5.05" text-anchor="end" stroke="#000" stroke-width="0.05">PLA2G4B</text>
<text x="615.6" y="411.12" font-size="5.05" text-anchor="end" stroke="#000" stroke-width="0.05">IGFBP1</text>
<path d="M617.4 3.53H620.2M617.4 8.2H620.2M617.4 12.86H620.2M617.4 17.53H620.2M617.4 22.19H620.2M617.4 26.86H620.2M617.4 31.52H620.2M617.4 36.19H620.2M617.4 40.85H620.2M617.4 45.52H620.2M617.4 50.18H620.2M617.4 54.84H620.2M617.4 59.51H620.2M617.4 64.17H620.2M617.4 68.84H620.2M617.4 73.5H620.2M617.4 78.17H620.2M617.4 82.83H620.2M617.4 87.5H620.2M617.4 92.16H620.2M617.4 96.83H620.2M617.4 101.49H620.2M617.4 106.16H620.2M617.4 110.82H620.2M617.4 115.49H620.2M617.4 120.15H620.2M617.4 124.82H620.2M617.4 129.48H620.2M617.4 134.15H620.2M617.4 138.81H620.2M617.4 143.48H620.2M617.4 148.14H620.2M617.4 152.81H620.2M617.4 157.47H620.2M617.4 162.13H620.2M617.4 166.8H620.2M617.4 171.46H620.2M617.4 176.13H620.2M617.4 180.79H620.2M617.4 185.46H620.2M617.4 190.12H620.2M617.4 194.79H620.2M617.4 199.45H620.2M617.4 204.12H620.2M617.4 208.78H620.2M617.4 213.45H620.2M617.4 218.11H620.2M617.4 222.78H620.2M617.4 227.44H620.2M617.4 232.11H620.2M617.4 236.77H620.2M617.4 241.44H620.2M617.4 246.1H620.2M617.4 250.77H620.2M617.4 255.43H620.2M617.4 260.09H620.2M617.4 264.76H620.2M617.4 269.42H620.2M617.4 274.09H620.2M617.4 278.75H620.2M617.4 283.42H620.2M617.4 288.08H620.2M617.4 292.75H620.2M617.4 297.41H620.2M617.4 302.08H620.2M617.4 306.74H620.2M617.4 311.41H620.2M617.4 316.07H620.2M617.4 320.74H620.2M617.4 325.4H620.2M617.4 330.07H620.2M617.4 334.73H620.2M617.4 339.4H620.2M617.4 344.06H620.2M617.4 348.73H620.2M617.4 353.39H620.2M617.4 358.06H620.2M617.4 362.72H620.2M617.4 367.38H620.2M617.4 372.05H620.2M617.4 376.71H620.2M617.4 381.38H620.2M617.4 386.04H620.2M617.4 390.71H620.2M617.4 395.37H620.2M617.4 400.04H620.2M617.4 404.7H620.2M617.4 409.37H620.2" stroke="#222" stroke-width="0.45"/>
<text x="625.17" y="415.9" font-size="4.95" text-anchor="end" transform="rotate(-90 625.17 415.9)" stroke="#000" stroke-width="0.07">scAAV8.TCT-1-1</text>
<text x="630.52" y="415.9" font-size="4.95" text-anchor="end" transform="rotate(-90 630.52 415.9)" stroke="#000" stroke-width="0.07">scAAV8.TCT-1-2</text>
<text x="635.86" y="415.9" font-size="4.95" text-anchor="end" transform="rotate(-90 635.86 415.9)" stroke="#000" stroke-width="0.07">scAAV8.TCT-1-3</text>
<text x="641.21" y="415.9" font-size="4.95" text-anchor="end" transform="rotate(-90 641.21 415.9)" stroke="#000" stroke-width="0.07">scAAV8.A4T1-1</text>
<text x="646.55" y="415.9" font-size="4.95" text-anchor="end" transform="rotate(-90 646.55 415.9)" stroke="#000" stroke-width="0.07">scAAV8.A4T1-2</text>
<text x="651.89" y="415.9" font-size="4.95" text-anchor="end" transform="rotate(-90 651.89 415.9)" stroke="#000" stroke-width="0.07">scAAV8.A4T1-3</text>
<text x="657.24" y="415.9" font-size="4.95" text-anchor="end" transform="rotate(-90 657.24 415.9)" stroke="#000" stroke-width="0.07">untreated-1</text>
<text x="662.58" y="415.9" font-size="4.95" text-anchor="end" transform="rotate(-90 662.58 415.9)" stroke="#000" stroke-width="0.07">untreated-2</text>
<text x="667.93" y="415.9" font-size="4.95" text-anchor="end" transform="rotate(-90 667.93 415.9)" stroke="#000" stroke-width="0.07">untreated-3</text>
<path d="M623.47 412.0V414.2M628.82 412.0V414.2M634.16 412.0V414.2M639.51 412.0V414.2M644.85 412.0V414.2M650.19 412.0V414.2M655.54 412.0V414.2M660.88 412.0V414.2M666.23 412.0V414.2" stroke="#222" stroke-width="0.45"/>
<linearGradient id="cb" x1="0" y1="0" x2="0" y2="1"><stop offset="0" stop-color="#da1638"/><stop offset="0.45" stop-color="#ffffff"/><stop offset="1" stop-color="#0c4696"/></linearGradient>
<rect x="673.1" y="175" width="6.8" height="43" fill="url(#cb)"/>
<line x1="673.1" y1="179.4" x2="674.3" y2="179.4" stroke="#555" stroke-width="0.4"/>
<line x1="678.7" y1="179.4" x2="679.9" y2="179.4" stroke="#555" stroke-width="0.4"/>
<line x1="673.1" y1="189.1" x2="674.3" y2="189.1" stroke="#555" stroke-width="0.4"/>
<line x1="678.7" y1="189.1" x2="679.9" y2="189.1" stroke="#555" stroke-width="0.4"/>
<line x1="673.1" y1="199.4" x2="674.3" y2="199.4" stroke="#555" stroke-width="0.4"/>
<line x1="678.7" y1="199.4" x2="679.9" y2="199.4" stroke="#555" stroke-width="0.4"/>
<line x1="673.1" y1="208.3" x2="674.3" y2="208.3" stroke="#555" stroke-width="0.4"/>
<line x1="678.7" y1="208.3" x2="679.9" y2="208.3" stroke="#555" stroke-width="0.4"/>
<text x="682.6" y="181.1" font-size="4.8" fill="#333" stroke="#333" stroke-width="0.09">6</text>
<text x="682.6" y="191.1" font-size="4.8" fill="#333" stroke="#333" stroke-width="0.09">5</text>
<text x="682.6" y="201" font-size="4.8" fill="#333" stroke="#333" stroke-width="0.09">4</text>
<text x="682.6" y="209.9" font-size="4.8" fill="#333" stroke="#333" stroke-width="0.09">3</text>
<text x="682.6" y="219.4" font-size="4.8" fill="#333" stroke="#333" stroke-width="0.09">0</text>
<text x="0.8" y="374.4" font-size="11" font-weight="bold">i</text>
<line x1="37.7" y1="375.3" x2="37.7" y2="514.2" stroke="#000" stroke-width="0.8"/>
<line x1="37.7" y1="514.2" x2="203" y2="514.2" stroke="#000" stroke-width="0.8"/>
<line x1="34.3" y1="508.4" x2="37.7" y2="508.4" stroke="#000" stroke-width="0.7"/>
<text x="32.8" y="510.9" font-size="7.2" text-anchor="end" stroke="#000" stroke-width="0.12">0</text>
<line x1="34.3" y1="479.1" x2="37.7" y2="479.1" stroke="#000" stroke-width="0.7"/>
<text x="32.8" y="481.6" font-size="7.2" text-anchor="end" stroke="#000" stroke-width="0.12">20000</text>
<line x1="34.3" y1="449.8" x2="37.7" y2="449.8" stroke="#000" stroke-width="0.7"/>
<text x="32.8" y="452.3" font-size="7.2" text-anchor="end" stroke="#000" stroke-width="0.12">40000</text>
<line x1="34.3" y1="420.5" x2="37.7" y2="420.5" stroke="#000" stroke-width="0.7"/>
<text x="32.8" y="423" font-size="7.2" text-anchor="end" stroke="#000" stroke-width="0.12">60000</text>
<line x1="34.3" y1="391.2" x2="37.7" y2="391.2" stroke="#000" stroke-width="0.7"/>
<text x="32.8" y="393.7" font-size="7.2" text-anchor="end" stroke="#000" stroke-width="0.12">80000</text>
<line x1="45.25" y1="514.2" x2="45.25" y2="516.4" stroke="#000" stroke-width="0.7"/>
<text x="45.25" y="523.5" font-size="7" text-anchor="middle" stroke="#000" stroke-width="0.11">-150</text>
<line x1="60.16" y1="514.2" x2="60.16" y2="516.4" stroke="#000" stroke-width="0.7"/>
<text x="60.16" y="523.5" font-size="7" text-anchor="middle" stroke="#000" stroke-width="0.11">-120</text>
<line x1="75.07" y1="514.2" x2="75.07" y2="516.4" stroke="#000" stroke-width="0.7"/>
<text x="75.07" y="523.5" font-size="7" text-anchor="middle" stroke="#000" stroke-width="0.11">-90</text>
<line x1="89.98" y1="514.2" x2="89.98" y2="516.4" stroke="#000" stroke-width="0.7"/>
<text x="89.98" y="523.5" font-size="7" text-anchor="middle" stroke="#000" stroke-width="0.11">-60</text>
<line x1="104.89" y1="514.2" x2="104.89" y2="516.4" stroke="#000" stroke-width="0.7"/>
<text x="104.89" y="523.5" font-size="7" text-anchor="middle" stroke="#000" stroke-width="0.11">-30</text>
<line x1="119.8" y1="514.2" x2="119.8" y2="516.4" stroke="#000" stroke-width="0.7"/>
<text x="119.8" y="523.5" font-size="7" text-anchor="middle" stroke="#000" stroke-width="0.11">0</text>
<line x1="134.71" y1="514.2" x2="134.71" y2="516.4" stroke="#000" stroke-width="0.7"/>
<text x="134.71" y="523.5" font-size="7" text-anchor="middle" stroke="#000" stroke-width="0.11">30</text>
<line x1="149.62" y1="514.2" x2="149.62" y2="516.4" stroke="#000" stroke-width="0.7"/>
<text x="149.62" y="523.5" font-size="7" text-anchor="middle" stroke="#000" stroke-width="0.11">60</text>
<line x1="164.53" y1="514.2" x2="164.53" y2="516.4" stroke="#000" stroke-width="0.7"/>
<text x="164.53" y="523.5" font-size="7" text-anchor="middle" stroke="#000" stroke-width="0.11">90</text>
<line x1="179.44" y1="514.2" x2="179.44" y2="516.4" stroke="#000" stroke-width="0.7"/>
<text x="179.44" y="523.5" font-size="7" text-anchor="middle" stroke="#000" stroke-width="0.11">120</text>
<line x1="194.35" y1="514.2" x2="194.35" y2="516.4" stroke="#000" stroke-width="0.7"/>
<text x="194.35" y="523.5" font-size="7" text-anchor="middle" stroke="#000" stroke-width="0.11">150</text>
<text x="7.2" y="444" font-size="7" text-anchor="middle" textLength="58.5" lengthAdjust="spacingAndGlyphs" transform="rotate(-90 7.2 444)" stroke="#000" stroke-width="0.11">Normalized Reads</text>
<path d="M45.25 482.72 L45.75 495.44 L46.24 502.7 L46.74 502.06 L47.24 503.26 L47.73 498.59 L48.23 477.8 L48.73 489.65 L49.23 503.24 L49.72 501.94 L50.22 502.11 L50.72 498.41 L51.21 470.99 L51.71 492.43 L52.21 502.66 L52.7 501.38 L53.2 503.36 L53.7 499.28 L54.2 461.93 L54.69 492.83 L55.19 503.13 L55.69 502.84 L56.18 502.76 L56.68 492.3 L57.18 478.28 L57.67 494.5 L58.17 502.28 L58.67 502.36 L59.17 501.47 L59.66 493.17 L60.16 475.03 L60.66 494.62 L61.15 501.73 L61.65 501.39 L62.15 503.5 L62.64 493.94 L63.14 463.53 L63.64 490.61 L64.14 503.09 L64.63 501.81 L65.13 501.96 L65.63 497.99 L66.12 468.63 L66.62 494.48 L67.12 503.47 L67.61 502.83 L68.11 502.83 L68.61 496.47 L69.11 468.5 L69.6 488.95 L70.1 501.45 L70.6 501.42 L71.09 501.38 L71.59 493.53 L72.09 476.13 L72.59 494.86 L73.08 502.19 L73.58 502.37 L74.08 502.08 L74.57 498.74 L75.07 478.68 L75.57 488.19 L76.06 502.24 L76.56 502.04 L77.06 503.36 L77.56 496.45 L78.05 462.6 L78.55 490.62 L79.05 501.39 L79.54 503.13 L80.04 502.57 L80.54 493.45 L81.03 473.03 L81.53 489.37 L82.03 502.33 L82.53 503.31 L83.02 503.35 L83.52 492.09 L84.02 480.32 L84.51 494.71 L85.01 502.83 L85.51 502 L86 501.69 L86.5 495.88 L87 471.83 L87.5 489.38 L87.99 502.95 L88.49 502.75 L88.99 502.22 L89.48 494.68 L89.98 482.14 L90.48 495.44 L90.97 503.26 L91.47 501.97 L91.97 502.04 L92.47 492.16 L92.96 465.79 L93.46 494.16 L93.96 501.88 L94.45 501.4 L94.95 502.8 L95.45 499.35 L95.94 474.59 L96.44 493.91 L96.94 503.18 L97.44 503.47 L97.93 503.29 L98.43 492.97 L98.93 481.88 L99.42 490.94 L99.92 503.11 L100.42 503.14 L100.91 501.76 L101.41 497.2 L101.91 478.88 L102.41 492.37 L102.9 502.04 L103.4 502.41 L103.9 501.68 L104.39 496.44 L104.89 471.25 L105.39 490.02 L105.88 502.55 L106.38 501.99 L106.88 502.54 L107.38 498.44 L107.87 480.23 L108.37 489.42 L108.87 501.93 L109.36 501.49 L109.86 502.05 L110.36 495.1 L110.85 479.27 L111.35 488.8 L111.85 503.3 L112.34 502.63 L112.84 503.26 L113.34 496.59 L113.84 476.11 L114.33 492.63 L114.83 502 L115.33 502.38 L115.82 503.03 L116.32 493.62 L116.82 466.52 L117.31 489.03 L117.81 503.49 L118.31 386.8 L118.81 423.28 L119.3 471.92 L119.8 505.26 L120.3 506.47 L120.79 506.97 L121.29 507.21 L121.79 507.16 L122.28 507.87 L122.78 507.86 L123.28 507.67 L123.78 507.86 L124.27 507.95 L124.77 507.94 L125.27 507.88 L125.76 507.73 L126.26 507.87 L126.76 507.69 L127.25 508 L127.75 507.92 L128.25 507.76 L128.75 507.82 L129.24 507.81 L129.74 507.62 L130.24 507.91 L130.73 507.95 L131.23 508.02 L131.73 507.82 L132.22 507.9 L132.72 507.83 L133.22 508.03 L133.72 508.03 L134.21 507.87 L134.71 507.7 L135.21 507.9 L135.7 507.63 L136.2 507.78 L136.7 507.86 L137.19 507.69 L137.69 507.93 L138.19 507.77 L138.69 507.66 L139.18 507.8 L139.68 507.89 L140.18 507.99 L140.67 507.78 L141.17 507.95 L141.67 507.87 L142.16 507.8 L142.66 507.62 L143.16 507.74 L143.66 507.81 L144.15 507.66 L144.65 507.9 L145.15 507.86 L145.64 507.74 L146.14 507.79 L146.64 507.94 L147.13 507.85 L147.63 507.67 L148.13 507.93 L148.63 507.72 L149.12 508.01 L149.62 507.61 L150.12 507.73 L150.61 507.89 L151.11 507.6 L151.61 507.68 L152.1 508.01 L152.6 507.92 L153.1 507.82 L153.6 507.6 L154.09 507.97 L154.59 508.01 L155.09 507.9 L155.58 508.01 L156.08 507.85 L156.58 507.8 L157.07 507.84 L157.57 507.97 L158.07 508.02 L158.57 507.68 L159.06 507.84 L159.56 507.82 L160.06 507.82 L160.55 507.73 L161.05 507.64 L161.55 507.67 L162.04 507.71 L162.54 507.88 L163.04 507.96 L163.54 507.99 L164.03 507.66 L164.53 508.01 L165.03 507.78 L165.52 507.63 L166.02 507.89 L166.52 507.86 L167.01 507.85 L167.51 507.62 L168.01 507.73 L168.51 507.67 L169 508.02 L169.5 507.71 L170 507.84 L170.49 507.86 L170.99 507.67 L171.49 507.71 L171.99 507.63 L172.48 507.71 L172.98 507.63 L173.48 507.85 L173.97 507.79 L174.47 507.69 L174.97 507.83 L175.46 507.97 L175.96 507.78 L176.46 507.65 L176.95 507.65 L177.45 507.98 L177.95 507.87 L178.45 507.93 L178.94 507.88 L179.44 507.61 L179.94 507.85 L180.43 507.9 L180.93 507.91 L181.43 507.84 L181.93 507.74 L182.42 507.88 L182.92 507.95 L183.42 507.93 L183.91 507.92 L184.41 507.64 L184.91 507.96 L185.4 507.7 L185.9 507.99 L186.4 507.69 L186.89 507.92 L187.39 507.69 L187.89 507.84 L188.39 508 L188.88 507.99 L189.38 507.68 L189.88 507.8 L190.37 507.82 L190.87 507.88 L191.37 507.73 L191.87 507.82 L192.36 508.01 L192.86 507.77 L193.36 507.9 L193.85 507.66 L194.35 507.79" fill="none" stroke="#8af0f4" stroke-width="0.45" stroke-opacity="1.0" stroke-linejoin="round"/>
<path d="M45.25 502.31 L45.75 502.18 L46.24 497.32 L46.74 485.15 L47.24 495.31 L47.73 501.61 L48.23 501.57 L48.73 503.16 L49.23 498.23 L49.72 479.55 L50.22 496.29 L50.72 501.44 L51.21 502.4 L51.71 502.59 L52.21 496.62 L52.7 479.25 L53.2 497.62 L53.7 502.89 L54.2 502.48 L54.69 503.45 L55.19 498.47 L55.69 477.59 L56.18 496.8 L56.68 501.71 L57.18 501.53 L57.67 502.34 L58.17 498.06 L58.67 487.79 L59.17 499.24 L59.66 501.41 L60.16 502.94 L60.66 503.1 L61.15 496.88 L61.65 477.36 L62.15 498.8 L62.64 502.86 L63.14 503.03 L63.64 502.97 L64.14 501.77 L64.63 481.07 L65.13 497.6 L65.63 502.7 L66.12 503.16 L66.62 503.32 L67.12 501.63 L67.61 475.34 L68.11 494.68 L68.61 502.34 L69.11 503.29 L69.6 503.24 L70.1 501.15 L70.6 484.5 L71.09 499.23 L71.59 502.96 L72.09 503.12 L72.59 503.14 L73.08 498.22 L73.58 482.18 L74.08 496.49 L74.57 502.78 L75.07 502.38 L75.57 501.84 L76.06 500.12 L76.56 488.56 L77.06 496.44 L77.56 502.73 L78.05 501.85 L78.55 503.32 L79.05 497.01 L79.54 489.48 L80.04 496.04 L80.54 502.59 L81.03 502.87 L81.53 501.61 L82.03 497.95 L82.53 487.03 L83.02 496.35 L83.52 502.22 L84.02 503.49 L84.51 503.37 L85.01 498.5 L85.51 477.7 L86 496.56 L86.5 502.64 L87 502.45 L87.5 502.99 L87.99 496.99 L88.49 473.87 L88.99 496.43 L89.48 503.52 L89.98 502.69 L90.48 501.8 L90.97 500.02 L91.47 487.98 L91.97 498.39 L92.47 502 L92.96 502.2 L93.46 502.94 L93.96 498.38 L94.45 477.18 L94.95 493.24 L95.45 501.74 L95.94 502.61 L96.44 501.79 L96.94 496.72 L97.44 475.4 L97.93 494.66 L98.43 502.28 L98.93 502.44 L99.42 501.7 L99.92 498.37 L100.42 477.83 L100.91 498.11 L101.41 503.36 L101.91 502.97 L102.41 502.28 L102.9 498.66 L103.4 486.45 L103.9 498.37 L104.39 501.48 L104.89 503.41 L105.39 501.53 L105.88 497.57 L106.38 480.27 L106.88 493.05 L107.38 502.07 L107.87 503.55 L108.37 501.5 L108.87 499.54 L109.36 474.61 L109.86 494.24 L110.36 503.26 L110.85 503.48 L111.35 503.52 L111.85 497.52 L112.34 476.68 L112.84 498.11 L113.34 503.32 L113.84 502.76 L114.33 501.81 L114.83 497.74 L115.33 475.43 L115.82 493.23 L116.32 501.91 L116.82 501.73 L117.31 503.53 L117.81 501.77 L118.31 420.5 L118.81 446.87 L119.3 482.03 L119.8 505.11 L120.3 506.59 L120.79 506.94 L121.29 507.24 L121.79 507.37 L122.28 507.88 L122.78 507.82 L123.28 507.84 L123.78 507.94 L124.27 508 L124.77 507.94 L125.27 507.98 L125.76 507.99 L126.26 507.85 L126.76 507.98 L127.25 507.68 L127.75 507.79 L128.25 507.83 L128.75 507.75 L129.24 507.93 L129.74 508.02 L130.24 508 L130.73 507.89 L131.23 507.87 L131.73 507.92 L132.22 507.9 L132.72 507.67 L133.22 508.03 L133.72 507.84 L134.21 507.87 L134.71 507.91 L135.21 507.72 L135.7 507.94 L136.2 508.02 L136.7 507.96 L137.19 507.6 L137.69 507.88 L138.19 507.98 L138.69 507.61 L139.18 507.75 L139.68 507.61 L140.18 507.89 L140.67 507.68 L141.17 508.02 L141.67 507.93 L142.16 507.68 L142.66 507.81 L143.16 507.69 L143.66 507.86 L144.15 507.65 L144.65 508 L145.15 507.76 L145.64 507.95 L146.14 507.95 L146.64 507.65 L147.13 507.84 L147.63 507.68 L148.13 507.91 L148.63 507.71 L149.12 507.63 L149.62 507.76 L150.12 507.93 L150.61 507.74 L151.11 507.62 L151.61 507.68 L152.1 507.84 L152.6 507.86 L153.1 507.99 L153.6 507.7 L154.09 507.96 L154.59 507.94 L155.09 508.02 L155.58 507.96 L156.08 507.87 L156.58 507.82 L157.07 507.96 L157.57 507.85 L158.07 507.7 L158.57 507.99 L159.06 507.97 L159.56 507.8 L160.06 507.64 L160.55 507.63 L161.05 507.78 L161.55 507.99 L162.04 507.65 L162.54 507.6 L163.04 507.64 L163.54 507.8 L164.03 507.87 L164.53 507.78 L165.03 507.69 L165.52 507.6 L166.02 507.82 L166.52 507.81 L167.01 507.9 L167.51 507.8 L168.01 507.79 L168.51 507.91 L169 507.83 L169.5 507.63 L170 507.93 L170.49 507.92 L170.99 507.9 L171.49 507.66 L171.99 507.9 L172.48 507.67 L172.98 507.63 L173.48 507.65 L173.97 507.68 L174.47 507.95 L174.97 507.84 L175.46 507.67 L175.96 507.93 L176.46 507.77 L176.95 507.65 L177.45 507.62 L177.95 507.88 L178.45 507.98 L178.94 508.02 L179.44 507.89 L179.94 507.79 L180.43 507.91 L180.93 507.67 L181.43 507.75 L181.93 507.76 L182.42 507.67 L182.92 507.89 L183.42 507.75 L183.91 507.88 L184.41 507.91 L184.91 507.98 L185.4 507.69 L185.9 507.64 L186.4 508.02 L186.89 507.72 L187.39 508.01 L187.89 507.85 L188.39 507.89 L188.88 507.64 L189.38 507.84 L189.88 507.81 L190.37 507.88 L190.87 507.92 L191.37 507.93 L191.87 508.01 L192.36 508.03 L192.86 507.79 L193.36 507.71 L193.85 507.74 L194.35 507.92" fill="none" stroke="#b8e0b8" stroke-width="0.35" stroke-opacity="1.0" stroke-linejoin="round"/>
<path d="M45.25 502.4 L45.75 502.28 L46.24 497.92 L46.74 477.14 L47.24 494.77 L47.73 502.76 L48.23 501.48 L48.73 502.63 L49.23 500.68 L49.72 489.51 L50.22 497.05 L50.72 503.23 L51.21 502.96 L51.71 502.22 L52.21 498.27 L52.7 479.39 L53.2 499.66 L53.7 503.43 L54.2 503 L54.69 502.35 L55.19 497.95 L55.69 478.65 L56.18 494.45 L56.68 502.27 L57.18 502.17 L57.67 502.92 L58.17 500.64 L58.67 487.8 L59.17 496.9 L59.66 502.23 L60.16 502.31 L60.66 502.7 L61.15 500.07 L61.65 487.14 L62.15 495.18 L62.64 502.29 L63.14 501.92 L63.64 501.78 L64.14 500.81 L64.63 489.17 L65.13 498.46 L65.63 501.57 L66.12 501.83 L66.62 502.67 L67.12 498.27 L67.61 485.71 L68.11 494.87 L68.61 503.37 L69.11 501.94 L69.6 501.41 L70.1 500.09 L70.6 483.86 L71.09 499.39 L71.59 502.96 L72.09 503.05 L72.59 502.91 L73.08 501.9 L73.58 486.36 L74.08 499.55 L74.57 502.41 L75.07 502.67 L75.57 503.07 L76.06 497.41 L76.56 486.21 L77.06 496.93 L77.56 501.6 L78.05 501.9 L78.55 501.44 L79.05 499.12 L79.54 477.57 L80.04 499.8 L80.54 501.95 L81.03 502.83 L81.53 502.86 L82.03 498.3 L82.53 479.56 L83.02 498.09 L83.52 502.77 L84.02 502.95 L84.51 501.51 L85.01 499.1 L85.51 486.97 L86 496.92 L86.5 503.44 L87 502.97 L87.5 502.46 L87.99 497.26 L88.49 477.77 L88.99 496.83 L89.48 501.89 L89.98 503.01 L90.48 502.04 L90.97 497.14 L91.47 488.6 L91.97 494.46 L92.47 501.4 L92.96 502.76 L93.46 501.78 L93.96 497.18 L94.45 488.69 L94.95 497.34 L95.45 502.26 L95.94 501.82 L96.44 502.98 L96.94 498.39 L97.44 480.14 L97.93 494.92 L98.43 501.95 L98.93 501.67 L99.42 502.24 L99.92 499.46 L100.42 483.86 L100.91 497.69 L101.41 502.55 L101.91 502.48 L102.41 502.7 L102.9 501.5 L103.4 484.85 L103.9 494.38 L104.39 502.89 L104.89 501.41 L105.39 501.74 L105.88 499.92 L106.38 487.61 L106.88 494.79 L107.38 501.47 L107.87 502.88 L108.37 502.1 L108.87 498.38 L109.36 481.41 L109.86 499.46 L110.36 503.05 L110.85 501.98 L111.35 502.17 L111.85 498.8 L112.34 486.65 L112.84 494.78 L113.34 501.86 L113.84 502.5 L114.33 501.69 L114.83 500.7 L115.33 482.77 L115.82 496.99 L116.32 501.44 L116.82 501.51 L117.31 502.82 L117.81 498.25 L118.31 405.85 L118.81 436.62 L119.3 477.63 L119.8 505.44 L120.3 506.47 L120.79 506.69 L121.29 507 L121.79 507.51 L122.28 507.9 L122.78 507.96 L123.28 507.81 L123.78 508.02 L124.27 508.01 L124.77 507.99 L125.27 507.65 L125.76 507.77 L126.26 507.65 L126.76 507.62 L127.25 507.78 L127.75 507.66 L128.25 507.84 L128.75 507.77 L129.24 507.96 L129.74 507.84 L130.24 507.99 L130.73 507.83 L131.23 507.61 L131.73 507.6 L132.22 507.7 L132.72 508.01 L133.22 507.6 L133.72 507.8 L134.21 507.74 L134.71 507.85 L135.21 507.69 L135.7 507.9 L136.2 507.99 L136.7 507.83 L137.19 507.95 L137.69 507.94 L138.19 507.95 L138.69 507.73 L139.18 507.73 L139.68 507.94 L140.18 507.73 L140.67 508.02 L141.17 507.62 L141.67 507.93 L142.16 507.81 L142.66 507.87 L143.16 507.66 L143.66 507.84 L144.15 507.96 L144.65 507.66 L145.15 507.78 L145.64 507.92 L146.14 507.72 L146.64 507.64 L147.13 507.71 L147.63 507.69 L148.13 507.88 L148.63 507.93 L149.12 508.01 L149.62 507.64 L150.12 507.93 L150.61 507.87 L151.11 507.68 L151.61 507.98 L152.1 507.63 L152.6 507.79 L153.1 507.96 L153.6 507.68 L154.09 507.74 L154.59 508.01 L155.09 507.82 L155.58 507.72 L156.08 507.91 L156.58 507.89 L157.07 507.66 L157.57 507.97 L158.07 507.92 L158.57 507.98 L159.06 507.82 L159.56 507.84 L160.06 507.91 L160.55 507.99 L161.05 507.98 L161.55 507.7 L162.04 507.78 L162.54 507.68 L163.04 507.98 L163.54 507.62 L164.03 507.73 L164.53 507.78 L165.03 507.67 L165.52 508 L166.02 507.77 L166.52 507.9 L167.01 508.02 L167.51 507.7 L168.01 508.02 L168.51 507.71 L169 507.91 L169.5 507.66 L170 508.01 L170.49 507.82 L170.99 507.6 L171.49 507.8 L171.99 507.76 L172.48 507.81 L172.98 507.77 L173.48 507.86 L173.97 507.92 L174.47 507.9 L174.97 507.67 L175.46 507.89 L175.96 507.73 L176.46 507.62 L176.95 507.63 L177.45 507.66 L177.95 507.64 L178.45 507.75 L178.94 507.8 L179.44 507.99 L179.94 508 L180.43 507.9 L180.93 507.82 L181.43 507.82 L181.93 508.03 L182.42 507.78 L182.92 507.88 L183.42 507.86 L183.91 508 L184.41 507.69 L184.91 507.68 L185.4 507.71 L185.9 507.98 L186.4 508.02 L186.89 507.61 L187.39 507.76 L187.89 507.62 L188.39 507.85 L188.88 507.68 L189.38 507.98 L189.88 508 L190.37 507.73 L190.87 507.74 L191.37 507.88 L191.87 507.8 L192.36 507.76 L192.86 507.93 L193.36 508.03 L193.85 507.83 L194.35 507.92" fill="none" stroke="#fbcae6" stroke-width="0.6" stroke-opacity="1.0" stroke-linejoin="round"/>
<path d="M45.25 469.31 L45.75 496.13 L46.24 502.21 L46.74 501.72 L47.24 501.73 L47.73 496.09 L48.23 470.4 L48.73 493.73 L49.23 502.41 L49.72 503.33 L50.22 502.06 L50.72 495.47 L51.21 477.92 L51.71 493.65 L52.21 501.95 L52.7 502.59 L53.2 501.46 L53.7 492.81 L54.2 465.94 L54.69 496.13 L55.19 503.4 L55.69 502.93 L56.18 502.77 L56.68 494.73 L57.18 466.19 L57.67 492.07 L58.17 502.16 L58.67 502.31 L59.17 503.49 L59.66 496.01 L60.16 479.4 L60.66 493.32 L61.15 503.55 L61.65 502.12 L62.15 501.57 L62.64 499.29 L63.14 471.5 L63.64 496.71 L64.14 502.79 L64.63 503.22 L65.13 501.67 L65.63 494.56 L66.12 464.69 L66.62 495.04 L67.12 501.99 L67.61 502.03 L68.11 502.44 L68.61 493.21 L69.11 470.54 L69.6 494.48 L70.1 501.99 L70.6 502.51 L71.09 503.1 L71.59 495.35 L72.09 482.95 L72.59 493.05 L73.08 502.34 L73.58 503.56 L74.08 502.14 L74.57 499.15 L75.07 470 L75.57 493.98 L76.06 503.5 L76.56 501.37 L77.06 503.42 L77.56 498.66 L78.05 473.1 L78.55 494.8 L79.05 502.4 L79.54 502.52 L80.04 502.3 L80.54 495.88 L81.03 477.66 L81.53 495.09 L82.03 502.04 L82.53 502.62 L83.02 502.42 L83.52 493.21 L84.02 483.81 L84.51 494.53 L85.01 502.33 L85.51 503.45 L86 501.91 L86.5 496.9 L87 477.18 L87.5 495.24 L87.99 501.44 L88.49 503.46 L88.99 501.76 L89.48 494.73 L89.98 464.67 L90.48 490.87 L90.97 502.8 L91.47 502.36 L91.97 501.54 L92.47 499.49 L92.96 465.69 L93.46 491.11 L93.96 503.13 L94.45 501.44 L94.95 502.91 L95.45 499.75 L95.94 478.23 L96.44 492.48 L96.94 503.5 L97.44 502.27 L97.93 502.59 L98.43 497.4 L98.93 467.72 L99.42 491.59 L99.92 501.44 L100.42 501.65 L100.91 501.68 L101.41 493.09 L101.91 465.69 L102.41 492.72 L102.9 503.42 L103.4 502.58 L103.9 502.2 L104.39 492.83 L104.89 469.91 L105.39 491.97 L105.88 503.38 L106.38 502.14 L106.88 503.48 L107.38 498.76 L107.87 483.06 L108.37 490.6 L108.87 501.5 L109.36 502.26 L109.86 503.37 L110.36 494.48 L110.85 480.24 L111.35 490.8 L111.85 502.08 L112.34 501.49 L112.84 503.2 L113.34 498.11 L113.84 477.12 L114.33 496.26 L114.83 501.49 L115.33 502.2 L115.82 503.33 L116.32 496.35 L116.82 481.87 L117.31 488.61 L117.81 502.78 L118.31 402.92 L118.81 434.56 L119.3 476.76 L119.8 505.62 L120.3 506.54 L120.79 506.94 L121.29 507.02 L121.79 507.18 L122.28 508 L122.78 507.79 L123.28 507.62 L123.78 507.93 L124.27 507.92 L124.77 507.74 L125.27 508.01 L125.76 507.67 L126.26 507.68 L126.76 507.62 L127.25 507.67 L127.75 507.78 L128.25 507.83 L128.75 507.8 L129.24 507.75 L129.74 507.6 L130.24 507.97 L130.73 507.82 L131.23 507.84 L131.73 507.93 L132.22 507.96 L132.72 507.69 L133.22 507.78 L133.72 507.73 L134.21 507.92 L134.71 507.82 L135.21 507.96 L135.7 507.97 L136.2 507.97 L136.7 507.75 L137.19 507.66 L137.69 507.78 L138.19 507.69 L138.69 508 L139.18 507.81 L139.68 507.97 L140.18 507.8 L140.67 507.92 L141.17 507.92 L141.67 507.63 L142.16 507.79 L142.66 507.93 L143.16 507.82 L143.66 507.91 L144.15 507.68 L144.65 507.86 L145.15 507.66 L145.64 507.77 L146.14 507.75 L146.64 507.77 L147.13 507.78 L147.63 508.01 L148.13 507.69 L148.63 507.76 L149.12 507.94 L149.62 507.82 L150.12 507.62 L150.61 507.75 L151.11 507.79 L151.61 507.8 L152.1 508 L152.6 507.82 L153.1 507.84 L153.6 507.75 L154.09 507.87 L154.59 507.97 L155.09 507.66 L155.58 507.92 L156.08 507.93 L156.58 507.84 L157.07 507.62 L157.57 507.73 L158.07 507.97 L158.57 507.99 L159.06 507.81 L159.56 508.01 L160.06 507.93 L160.55 507.98 L161.05 507.65 L161.55 507.64 L162.04 507.65 L162.54 507.75 L163.04 508.02 L163.54 507.91 L164.03 507.67 L164.53 508.02 L165.03 507.81 L165.52 507.68 L166.02 507.92 L166.52 507.88 L167.01 507.75 L167.51 507.75 L168.01 507.97 L168.51 507.69 L169 508 L169.5 507.96 L170 507.9 L170.49 507.95 L170.99 507.83 L171.49 507.88 L171.99 507.71 L172.48 507.67 L172.98 507.69 L173.48 507.66 L173.97 507.92 L174.47 507.74 L174.97 507.69 L175.46 507.67 L175.96 507.85 L176.46 507.64 L176.95 507.88 L177.45 507.64 L177.95 507.74 L178.45 508.01 L178.94 507.63 L179.44 507.69 L179.94 507.79 L180.43 507.61 L180.93 507.64 L181.43 507.68 L181.93 507.7 L182.42 507.72 L182.92 507.98 L183.42 507.78 L183.91 508.03 L184.41 507.81 L184.91 507.96 L185.4 507.72 L185.9 507.63 L186.4 507.94 L186.89 507.79 L187.39 507.91 L187.89 507.6 L188.39 507.82 L188.88 507.96 L189.38 507.75 L189.88 507.83 L190.37 507.81 L190.87 507.84 L191.37 507.96 L191.87 507.98 L192.36 507.77 L192.86 507.98 L193.36 507.86 L193.85 507.79 L194.35 507.69" fill="none" stroke="#f6a4d4" stroke-width="0.6" stroke-opacity="1.0" stroke-linejoin="round"/>
<path d="M45.25 477.56 L45.75 488.85 L46.24 501.46 L46.74 501.55 L47.24 501.83 L47.73 493.81 L48.23 484.48 L48.73 491.86 L49.23 503.02 L49.72 501.96 L50.22 502.62 L50.72 496.02 L51.21 473.04 L51.71 492.29 L52.21 501.75 L52.7 501.41 L53.2 502.81 L53.7 494.29 L54.2 465.73 L54.69 493.84 L55.19 503.29 L55.69 502.47 L56.18 501.89 L56.68 496.28 L57.18 480.6 L57.67 491.2 L58.17 502.85 L58.67 501.62 L59.17 503.2 L59.66 495.79 L60.16 476.36 L60.66 488.84 L61.15 503.26 L61.65 501.63 L62.15 502.65 L62.64 497.35 L63.14 480.1 L63.64 492.98 L64.14 501.52 L64.63 501.37 L65.13 501.5 L65.63 495.66 L66.12 479.51 L66.62 492.87 L67.12 502.14 L67.61 502.92 L68.11 501.4 L68.61 499.37 L69.11 479.54 L69.6 495.43 L70.1 503.2 L70.6 503.43 L71.09 503.04 L71.59 497.33 L72.09 464.68 L72.59 492.55 L73.08 502.19 L73.58 502.8 L74.08 503.19 L74.57 496 L75.07 469.13 L75.57 496.43 L76.06 502.14 L76.56 503.1 L77.06 502.05 L77.56 497.46 L78.05 481.38 L78.55 495.97 L79.05 501.82 L79.54 502.38 L80.04 503.38 L80.54 493.59 L81.03 478.66 L81.53 494.79 L82.03 503.56 L82.53 502.91 L83.02 502.34 L83.52 493.65 L84.02 478.19 L84.51 492.95 L85.01 503.39 L85.51 502.06 L86 502.91 L86.5 497.32 L87 478.78 L87.5 490.24 L87.99 501.41 L88.49 503.26 L88.99 502.57 L89.48 499.21 L89.98 468.66 L90.48 489.49 L90.97 503.29 L91.47 502.07 L91.97 502.9 L92.47 496.8 L92.96 472.42 L93.46 493.91 L93.96 502.13 L94.45 502.85 L94.95 502.48 L95.45 497.45 L95.94 475.55 L96.44 495.95 L96.94 502.78 L97.44 503.32 L97.93 502.2 L98.43 497.03 L98.93 475.66 L99.42 489.58 L99.92 503.22 L100.42 502.4 L100.91 502.23 L101.41 495.52 L101.91 468.45 L102.41 494.15 L102.9 501.53 L103.4 502.1 L103.9 503.4 L104.39 495.7 L104.89 473.58 L105.39 489.26 L105.88 501.97 L106.38 502.08 L106.88 502.08 L107.38 494.98 L107.87 475.06 L108.37 493 L108.87 502.4 L109.36 503.52 L109.86 502.44 L110.36 496.99 L110.85 475.47 L111.35 492.39 L111.85 502.13 L112.34 502.71 L112.84 502.3 L113.34 498.31 L113.84 463.9 L114.33 491.55 L114.83 502.03 L115.33 501.94 L115.82 503.51 L116.32 498.72 L116.82 476.51 L117.31 493.44 L117.81 502.69 L118.31 397.06 L118.81 430.46 L119.3 475 L119.8 505.31 L120.3 506.59 L120.79 506.75 L121.29 507 L121.79 507.34 L122.28 507.66 L122.78 507.68 L123.28 507.61 L123.78 508.03 L124.27 507.78 L124.77 507.96 L125.27 507.66 L125.76 507.62 L126.26 507.74 L126.76 507.89 L127.25 507.65 L127.75 507.81 L128.25 507.73 L128.75 507.95 L129.24 507.99 L129.74 507.67 L130.24 507.66 L130.73 507.87 L131.23 508 L131.73 507.9 L132.22 507.63 L132.72 507.94 L133.22 507.7 L133.72 507.9 L134.21 507.62 L134.71 507.88 L135.21 507.62 L135.7 507.81 L136.2 508.03 L136.7 507.86 L137.19 507.85 L137.69 507.97 L138.19 508 L138.69 507.79 L139.18 507.71 L139.68 507.71 L140.18 507.89 L140.67 507.95 L141.17 507.83 L141.67 507.72 L142.16 507.94 L142.66 507.64 L143.16 507.6 L143.66 507.88 L144.15 507.97 L144.65 507.79 L145.15 507.97 L145.64 507.64 L146.14 507.77 L146.64 507.85 L147.13 507.66 L147.63 507.69 L148.13 507.71 L148.63 507.99 L149.12 507.87 L149.62 507.88 L150.12 507.66 L150.61 507.92 L151.11 507.99 L151.61 507.84 L152.1 507.9 L152.6 507.74 L153.1 507.87 L153.6 507.98 L154.09 507.74 L154.59 507.62 L155.09 507.73 L155.58 507.78 L156.08 508 L156.58 507.95 L157.07 507.74 L157.57 507.62 L158.07 507.82 L158.57 507.61 L159.06 507.99 L159.56 507.91 L160.06 507.91 L160.55 507.73 L161.05 507.87 L161.55 507.75 L162.04 508.01 L162.54 507.74 L163.04 507.72 L163.54 507.95 L164.03 507.96 L164.53 507.85 L165.03 507.83 L165.52 507.83 L166.02 507.62 L166.52 507.97 L167.01 507.76 L167.51 507.81 L168.01 507.76 L168.51 507.91 L169 507.7 L169.5 507.67 L170 508.02 L170.49 507.88 L170.99 508.03 L171.49 507.77 L171.99 507.7 L172.48 507.86 L172.98 507.61 L173.48 507.69 L173.97 507.74 L174.47 507.99 L174.97 507.9 L175.46 507.68 L175.96 507.82 L176.46 507.93 L176.95 508.03 L177.45 507.71 L177.95 507.92 L178.45 507.99 L178.94 507.81 L179.44 507.72 L179.94 507.78 L180.43 508.03 L180.93 507.63 L181.43 507.86 L181.93 507.77 L182.42 507.91 L182.92 507.88 L183.42 507.98 L183.91 507.69 L184.41 507.96 L184.91 507.78 L185.4 507.71 L185.9 507.6 L186.4 508.02 L186.89 507.72 L187.39 507.89 L187.89 508.03 L188.39 507.79 L188.88 507.85 L189.38 507.84 L189.88 507.96 L190.37 507.97 L190.87 507.98 L191.37 507.82 L191.87 508.02 L192.36 507.64 L192.86 507.74 L193.36 507.62 L193.85 507.71 L194.35 507.67" fill="none" stroke="#ee5cba" stroke-width="0.45" stroke-opacity="1.0" stroke-linejoin="round"/>
<line x1="54.2" y1="503.27" x2="54.2" y2="446.87" stroke="#ee5cba" stroke-width="0.5"/>
<line x1="54.2" y1="446.87" x2="54.2" y2="443.94" stroke="#8af0f4" stroke-width="0.5"/>
<line x1="72.09" y1="503.27" x2="72.09" y2="445.4" stroke="#ee5cba" stroke-width="0.5"/>
<line x1="72.09" y1="445.4" x2="72.09" y2="442.47" stroke="#8af0f4" stroke-width="0.5"/>
<line x1="63.14" y1="503.27" x2="63.14" y2="455.66" stroke="#ee5cba" stroke-width="0.5"/>
<line x1="63.14" y1="455.66" x2="63.14" y2="452.73" stroke="#8af0f4" stroke-width="0.5"/>
<line x1="97.44" y1="503.27" x2="97.44" y2="462.98" stroke="#ee5cba" stroke-width="0.5"/>
<line x1="97.44" y1="462.98" x2="97.44" y2="460.05" stroke="#8af0f4" stroke-width="0.5"/>
<line x1="118.81" y1="504" x2="118.81" y2="429.29" stroke="#ee5cba" stroke-width="0.7"/>
<rect x="117.2" y="502.1" width="79.7" height="8.1" fill="none" stroke="#000" stroke-width="0.8" stroke-dasharray="2.6 1.5"/>
<line x1="196.9" y1="502.1" x2="217.6" y2="391" stroke="#000" stroke-width="0.8" stroke-dasharray="2.8 1.8"/>
<line x1="196.9" y1="510.2" x2="216.3" y2="513.7" stroke="#000" stroke-width="0.8" stroke-dasharray="2.8 1.8"/>
<line x1="240.8" y1="390.7" x2="240.8" y2="514.4" stroke="#000" stroke-width="0.8"/>
<line x1="240.8" y1="514.4" x2="373.4" y2="514.4" stroke="#000" stroke-width="0.8"/>
<line x1="238.8" y1="486" x2="240.8" y2="486" stroke="#000" stroke-width="0.7"/>
<text x="238" y="488.5" font-size="7" text-anchor="end" stroke="#000" stroke-width="0.11">1000</text>
<line x1="238.8" y1="459.7" x2="240.8" y2="459.7" stroke="#000" stroke-width="0.7"/>
<text x="238" y="462.2" font-size="7" text-anchor="end" stroke="#000" stroke-width="0.11">2000</text>
<line x1="238.8" y1="433.4" x2="240.8" y2="433.4" stroke="#000" stroke-width="0.7"/>
<text x="238" y="435.9" font-size="7" text-anchor="end" stroke="#000" stroke-width="0.11">3000</text>
<line x1="238.8" y1="407.1" x2="240.8" y2="407.1" stroke="#000" stroke-width="0.7"/>
<text x="238" y="409.6" font-size="7" text-anchor="end" stroke="#000" stroke-width="0.11">4000</text>
<line x1="246.4" y1="514.4" x2="246.4" y2="516.6" stroke="#000" stroke-width="0.7"/>
<text x="246.4" y="522.1" font-size="7" text-anchor="middle" stroke="#000" stroke-width="0.11">0</text>
<line x1="262.5" y1="514.4" x2="262.5" y2="516.6" stroke="#000" stroke-width="0.7"/>
<text x="262.5" y="522.1" font-size="7" text-anchor="middle" stroke="#000" stroke-width="0.11">20</text>
<line x1="278.6" y1="514.4" x2="278.6" y2="516.6" stroke="#000" stroke-width="0.7"/>
<text x="278.6" y="522.1" font-size="7" text-anchor="middle" stroke="#000" stroke-width="0.11">40</text>
<line x1="294.7" y1="514.4" x2="294.7" y2="516.6" stroke="#000" stroke-width="0.7"/>
<text x="294.7" y="522.1" font-size="7" text-anchor="middle" stroke="#000" stroke-width="0.11">60</text>
<line x1="310.8" y1="514.4" x2="310.8" y2="516.6" stroke="#000" stroke-width="0.7"/>
<text x="310.8" y="522.1" font-size="7" text-anchor="middle" stroke="#000" stroke-width="0.11">80</text>
<line x1="326.9" y1="514.4" x2="326.9" y2="516.6" stroke="#000" stroke-width="0.7"/>
<text x="326.9" y="522.1" font-size="7" text-anchor="middle" stroke="#000" stroke-width="0.11">100</text>
<line x1="343" y1="514.4" x2="343" y2="516.6" stroke="#000" stroke-width="0.7"/>
<text x="343" y="522.1" font-size="7" text-anchor="middle" stroke="#000" stroke-width="0.11">120</text>
<line x1="359.1" y1="514.4" x2="359.1" y2="516.6" stroke="#000" stroke-width="0.7"/>
<text x="359.1" y="522.1" font-size="7" text-anchor="middle" stroke="#000" stroke-width="0.11">140</text>
<path d="M246.4 396.58 L247.21 467.59 L248.01 480.74 L248.81 488.63 L249.62 496.52 L250.43 501.84 L251.23 502.79 L252.03 503.25 L252.84 499.01 L253.65 501.03 L254.45 500.46 L255.25 501.33 L256.06 502.39 L256.87 500.45 L257.67 501.42 L258.48 500.31 L259.28 501.07 L260.08 500.11 L260.89 502.49 L261.69 504.2 L262.5 504.29 L263.31 501.04 L264.11 504.31 L264.92 501.55 L265.72 501.81 L266.52 505.11 L267.33 500.97 L268.13 505.38 L268.94 500.6 L269.75 500.81 L270.55 504.47 L271.36 501.57 L272.16 501.58 L272.97 505.15 L273.77 502.04 L274.57 505.25 L275.38 500.72 L276.19 502.06 L276.99 500.42 L277.8 505.82 L278.6 504.34 L279.41 502.63 L280.21 502.73 L281.01 505.24 L281.82 501.19 L282.62 501.47 L283.43 504.66 L284.24 505.59 L285.04 502.61 L285.85 504.15 L286.65 502.7 L287.45 503.71 L288.26 504.31 L289.06 506.5 L289.87 505.88 L290.68 504.04 L291.48 502.5 L292.29 504.28 L293.09 502.46 L293.89 503.68 L294.7 501.73 L295.5 503.06 L296.31 505.01 L297.12 506.1 L297.92 506.54 L298.73 506.72 L299.53 501.98 L300.34 501.93 L301.14 502.67 L301.94 506.4 L302.75 503.23 L303.56 506.34 L304.36 501.95 L305.17 503.32 L305.97 502.8 L306.78 503.63 L307.58 504.75 L308.38 502.28 L309.19 501.64 L310 505.83 L310.8 504.71 L311.61 503.01 L312.41 503.34 L313.22 504.91 L314.02 504.7 L314.82 501.72 L315.63 505.74 L316.44 506.13 L317.24 503.39 L318.05 505.77 L318.85 502.2 L319.66 505.52 L320.46 502.07 L321.26 505.23 L322.07 502.32 L322.88 503.11 L323.68 503.23 L324.49 506.24 L325.29 506.54 L326.1 507.32 L326.9 506.46 L327.71 503.66 L328.51 507.16 L329.31 506.17 L330.12 504.27 L330.93 506.66 L331.73 505.66 L332.54 506.26 L333.34 503.68 L334.14 506.91 L334.95 501.83 L335.75 504.15 L336.56 503.5 L337.37 504.43 L338.17 504.76 L338.98 502.03 L339.78 502.48 L340.59 502.9 L341.39 507.49 L342.19 504.26 L343 502.23 L343.81 503.99 L344.61 504.73 L345.42 503.94 L346.22 506.68 L347.02 503.5 L347.83 503.18 L348.63 507.31 L349.44 504.78 L350.25 504.29 L351.05 505.7 L351.86 503.8 L352.66 502.42 L353.47 502.51 L354.27 505.98 L355.08 506.89 L355.88 502.83 L356.69 504.24 L357.49 502.98 L358.3 502.76 L359.1 506.17 L359.91 504.4 L360.71 506.04 L361.51 503.19 L362.32 503.81 L363.12 506.43 L363.93 504.92 L364.74 504.38 L365.54 506.47 L366.35 506.77 L367.15 505.09" fill="none" stroke="#b8f2f6" stroke-width="0.6" stroke-linejoin="round"/>
<path d="M246.4 446.55 L247.21 475.48 L248.01 486 L248.81 493.89 L249.62 499.15 L250.43 501.23 L251.23 504.22 L252.03 503.12 L252.84 503.45 L253.65 501.1 L254.45 501.46 L255.25 500.52 L256.06 504.41 L256.87 502.9 L257.67 504.83 L258.48 504 L259.28 502.72 L260.08 505.05 L260.89 504.3 L261.69 502.23 L262.5 502.79 L263.31 504.39 L264.11 502.7 L264.92 501.72 L265.72 505.58 L266.52 501.85 L267.33 502.42 L268.13 504.17 L268.94 505.09 L269.75 501.35 L270.55 504.34 L271.36 505.54 L272.16 505.57 L272.97 502.07 L273.77 503.27 L274.57 502.35 L275.38 502.76 L276.19 503.72 L276.99 501.7 L277.8 504.55 L278.6 503.77 L279.41 502.5 L280.21 503.54 L281.01 502.42 L281.82 503.81 L282.62 503.24 L283.43 506.39 L284.24 505.57 L285.04 505.31 L285.85 506.34 L286.65 505.64 L287.45 506.3 L288.26 505.49 L289.06 503.83 L289.87 505.14 L290.68 505.15 L291.48 505.94 L292.29 505.69 L293.09 502.55 L293.89 503.94 L294.7 504.15 L295.5 506.25 L296.31 503.63 L297.12 506.34 L297.92 505.34 L298.73 502.47 L299.53 504.15 L300.34 504.57 L301.14 503.98 L301.94 503.26 L302.75 503.59 L303.56 506.2 L304.36 507.16 L305.17 505.83 L305.97 506.08 L306.78 506.37 L307.58 502.92 L308.38 503.25 L309.19 505.93 L310 504.33 L310.8 505.58 L311.61 503.14 L312.41 505.31 L313.22 506.25 L314.02 506.35 L314.82 504.87 L315.63 506.3 L316.44 504.79 L317.24 503.32 L318.05 505.7 L318.85 506.56 L319.66 502.89 L320.46 505.21 L321.26 507.21 L322.07 507.43 L322.88 507.14 L323.68 504.7 L324.49 503.94 L325.29 505.7 L326.1 507.41 L326.9 505.91 L327.71 503.01 L328.51 505.24 L329.31 503.15 L330.12 503.69 L330.93 507.72 L331.73 504.37 L332.54 504.56 L333.34 505.26 L334.14 506.54 L334.95 504.78 L335.75 507.29 L336.56 505.77 L337.37 505.69 L338.17 503.33 L338.98 503.71 L339.78 506.62 L340.59 505.5 L341.39 507.03 L342.19 503.56 L343 503.77 L343.81 506.48 L344.61 504.88 L345.42 505.03 L346.22 507.19 L347.02 504.31 L347.83 505.38 L348.63 504.25 L349.44 505.43 L350.25 507.94 L351.05 506.42 L351.86 507.87 L352.66 503.56 L353.47 503.81 L354.27 504.04 L355.08 506.52 L355.88 507.71 L356.69 503.83 L357.49 503.51 L358.3 507.59 L359.1 505.7 L359.91 507.68 L360.71 504.41 L361.51 504.39 L362.32 507.41 L363.12 505.77 L363.93 505.42 L364.74 506.77 L365.54 503.9 L366.35 506.03 L367.15 507.04" fill="none" stroke="#3fdcee" stroke-width="0.6" stroke-linejoin="round"/>
<path d="M246.4 454.44 L247.21 478.11 L248.01 488.63 L248.81 493.89 L249.62 499.15 L250.43 503.81 L251.23 500.78 L252.03 503.48 L252.84 502.05 L253.65 501.15 L254.45 500.65 L255.25 502.34 L256.06 502.2 L256.87 504.54 L257.67 502.66 L258.48 503.01 L259.28 500.81 L260.08 502.32 L260.89 501.4 L261.69 502.99 L262.5 504.27 L263.31 501.14 L264.11 501.35 L264.92 503.51 L265.72 504.89 L266.52 502.98 L267.33 503.11 L268.13 501.86 L268.94 502.74 L269.75 503.22 L270.55 502.95 L271.36 503.94 L272.16 505.54 L272.97 505.53 L273.77 501.4 L274.57 501.94 L275.38 504.55 L276.19 501.79 L276.99 503.57 L277.8 505.59 L278.6 502.07 L279.41 503.4 L280.21 501.78 L281.01 503.02 L281.82 505.83 L282.62 503.36 L283.43 502.62 L284.24 502.13 L285.04 504.85 L285.85 503.95 L286.65 503.16 L287.45 505.73 L288.26 502.53 L289.06 502.88 L289.87 506.37 L290.68 503.84 L291.48 504.92 L292.29 505.81 L293.09 503.86 L293.89 502.16 L294.7 504.16 L295.5 506.26 L296.31 504.48 L297.12 503.16 L297.92 502.35 L298.73 503.51 L299.53 506.72 L300.34 502.36 L301.14 504.11 L301.94 506.59 L302.75 506.4 L303.56 506.62 L304.36 503.9 L305.17 506.33 L305.97 503.26 L306.78 506.59 L307.58 504.59 L308.38 505.04 L309.19 506.98 L310 507.16 L310.8 502.91 L311.61 502.58 L312.41 506.63 L313.22 503.76 L314.02 502.57 L314.82 502.99 L315.63 503.09 L316.44 505.7 L317.24 503.91 L318.05 504.97 L318.85 502.9 L319.66 504.02 L320.46 503.37 L321.26 503.32 L322.07 505.56 L322.88 504.03 L323.68 506.97 L324.49 506.45 L325.29 503 L326.1 505.53 L326.9 504.21 L327.71 504.74 L328.51 506.24 L329.31 504.71 L330.12 503.18 L330.93 505.96 L331.73 505.87 L332.54 506.65 L333.34 506.69 L334.14 503.63 L334.95 504.21 L335.75 502.99 L336.56 504.4 L337.37 503.04 L338.17 506.53 L338.98 506.7 L339.78 506.57 L340.59 505.79 L341.39 502.93 L342.19 506.56 L343 505.46 L343.81 507.34 L344.61 507.51 L345.42 505.06 L346.22 504.75 L347.02 505.24 L347.83 503.34 L348.63 503.6 L349.44 503.18 L350.25 504.94 L351.05 506.44 L351.86 507.08 L352.66 504.08 L353.47 506.97 L354.27 507.68 L355.08 504.4 L355.88 507.13 L356.69 504.78 L357.49 506.78 L358.3 505.72 L359.1 507.67 L359.91 505.96 L360.71 506.19 L361.51 506.51 L362.32 507.12 L363.12 505.03 L363.93 504.48 L364.74 506.82 L365.54 507.56 L366.35 506.5 L367.15 504.47" fill="none" stroke="#50e0f0" stroke-width="0.6" stroke-linejoin="round"/>
<path d="M246.4 467.59 L247.21 462.33 L248.01 464.96 L248.81 475.48 L249.62 493.89 L250.43 500.16 L251.23 499.56 L252.03 497.98 L252.84 501.68 L253.65 501.52 L254.45 502.65 L255.25 502.28 L256.06 502.94 L256.87 502.25 L257.67 500.46 L258.48 498.04 L259.28 499.68 L260.08 501.42 L260.89 501.36 L261.69 499.94 L262.5 501.93 L263.31 503.34 L264.11 499.37 L264.92 500.62 L265.72 503.35 L266.52 503.64 L267.33 503.57 L268.13 499.09 L268.94 503.63 L269.75 500.97 L270.55 499.22 L271.36 504.2 L272.16 502.41 L272.97 501.99 L273.77 499.73 L274.57 503.62 L275.38 503.3 L276.19 503.41 L276.99 504.51 L277.8 501.27 L278.6 500.57 L279.41 502.62 L280.21 504.76 L281.01 501.25 L281.82 501.17 L282.62 501.66 L283.43 503.41 L284.24 500.81 L285.04 501.9 L285.85 502.16 L286.65 502.46 L287.45 504.11 L288.26 502.98 L289.06 501.23 L289.87 501.85 L290.68 503.66 L291.48 501.2 L292.29 501.13 L293.09 505.35 L293.89 504.79 L294.7 504.47 L295.5 505.6 L296.31 501.74 L297.12 502.33 L297.92 502.91 L298.73 500.56 L299.53 503.94 L300.34 504.8 L301.14 505.29 L301.94 504.11 L302.75 501.52 L303.56 502.76 L304.36 505.66 L305.17 503.72 L305.97 505.77 L306.78 502.76 L307.58 505.42 L308.38 505.14 L309.19 502.73 L310 501.73 L310.8 502.89 L311.61 504.62 L312.41 502.79 L313.22 504.77 L314.02 506.19 L314.82 504.8 L315.63 502.64 L316.44 502.98 L317.24 505.28 L318.05 501.89 L318.85 501.95 L319.66 504.87 L320.46 501.3 L321.26 504.99 L322.07 506.04 L322.88 503.7 L323.68 501.86 L324.49 503.27 L325.29 503.57 L326.1 503.89 L326.9 504.97 L327.71 504.9 L328.51 504.37 L329.31 503.63 L330.12 501.56 L330.93 506.14 L331.73 505.21 L332.54 501.59 L333.34 503.1 L334.14 506.18 L334.95 504.26 L335.75 503.17 L336.56 501.8 L337.37 506.17 L338.17 501.87 L338.98 502.58 L339.78 505.17 L340.59 503.84 L341.39 502.31 L342.19 505.39 L343 502.98 L343.81 503.73 L344.61 506.3 L345.42 505.27 L346.22 504.53 L347.02 505.98 L347.83 501.75 L348.63 505.41 L349.44 505.51 L350.25 503.6 L351.05 503.97 L351.86 505.07 L352.66 505.05 L353.47 504.15 L354.27 501.99 L355.08 506.36 L355.88 501.99 L356.69 501.85 L357.49 503.2 L358.3 502.58 L359.1 504.79 L359.91 501.75 L360.71 502.91 L361.51 503.21 L362.32 504.46 L363.12 505.67 L363.93 503.2 L364.74 502.97 L365.54 506.82 L366.35 505.21 L367.15 504.03" fill="none" stroke="#fbd5ea" stroke-width="0.6" stroke-linejoin="round"/>
<path d="M246.4 464.96 L247.21 459.7 L248.01 462.33 L248.81 472.85 L249.62 493.89 L250.43 501.01 L251.23 499.97 L252.03 502.21 L252.84 500.96 L253.65 502.46 L254.45 502.88 L255.25 501.54 L256.06 502.5 L256.87 501.57 L257.67 499.38 L258.48 503.19 L259.28 500.18 L260.08 502.84 L260.89 499.44 L261.69 499.83 L262.5 502.67 L263.31 499.39 L264.11 500.15 L264.92 503.6 L265.72 501.92 L266.52 500.45 L267.33 499.35 L268.13 503.36 L268.94 503.01 L269.75 500.32 L270.55 499.39 L271.36 504.02 L272.16 504.1 L272.97 500.68 L273.77 503.02 L274.57 502.71 L275.38 500.18 L276.19 500.92 L276.99 501.42 L277.8 500.38 L278.6 501.15 L279.41 500.78 L280.21 501.71 L281.01 502.02 L281.82 504.87 L282.62 500.44 L283.43 500.47 L284.24 503.46 L285.04 502.06 L285.85 505.3 L286.65 502.8 L287.45 502.19 L288.26 503.96 L289.06 503.36 L289.87 501.18 L290.68 504.86 L291.48 503.25 L292.29 505.23 L293.09 503.69 L293.89 501.1 L294.7 502.56 L295.5 505.66 L296.31 501.32 L297.12 502.4 L297.92 503.16 L298.73 504.41 L299.53 504.37 L300.34 505.02 L301.14 502.73 L301.94 505.77 L302.75 501.09 L303.56 505.54 L304.36 502.82 L305.17 503.1 L305.97 504.24 L306.78 504.71 L307.58 503.88 L308.38 504.48 L309.19 501.13 L310 502.86 L310.8 503.55 L311.61 502.81 L312.41 503.72 L313.22 505.55 L314.02 506.23 L314.82 501.27 L315.63 501.95 L316.44 505.91 L317.24 503.21 L318.05 502.31 L318.85 501.75 L319.66 506.13 L320.46 505.79 L321.26 504.44 L322.07 503.35 L322.88 506.1 L323.68 502.89 L324.49 502.59 L325.29 504.22 L326.1 502.12 L326.9 504.55 L327.71 502.23 L328.51 504.61 L329.31 504.52 L330.12 504.66 L330.93 502.92 L331.73 502.03 L332.54 506.3 L333.34 503.59 L334.14 502.31 L334.95 503.07 L335.75 505.49 L336.56 504.82 L337.37 502.08 L338.17 505.62 L338.98 501.74 L339.78 504.71 L340.59 504.04 L341.39 503.06 L342.19 503.21 L343 503.7 L343.81 502.25 L344.61 503.45 L345.42 502.01 L346.22 503.41 L347.02 503.75 L347.83 506.55 L348.63 502.08 L349.44 505.66 L350.25 505.68 L351.05 506.62 L351.86 503.62 L352.66 504.94 L353.47 503.46 L354.27 502.62 L355.08 501.95 L355.88 502.69 L356.69 502.51 L357.49 504.92 L358.3 506.65 L359.1 502.89 L359.91 501.71 L360.71 504.51 L361.51 502.22 L362.32 503.98 L363.12 504.93 L363.93 502.59 L364.74 506.64 L365.54 505.07 L366.35 503.32 L367.15 506.55" fill="none" stroke="#f7a8d6" stroke-width="0.6" stroke-linejoin="round"/>
<path d="M246.4 462.33 L247.21 461.01 L248.01 459.7 L248.81 478.11 L249.62 495.2 L250.43 498.21 L251.23 500.62 L252.03 499.83 L252.84 498.65 L253.65 501.73 L254.45 500.47 L255.25 500.24 L256.06 498.61 L256.87 503.03 L257.67 502.94 L258.48 501.84 L259.28 499.53 L260.08 499.53 L260.89 502.96 L261.69 499.32 L262.5 501.25 L263.31 499.25 L264.11 499.48 L264.92 503.53 L265.72 499.43 L266.52 501.84 L267.33 503.44 L268.13 502.04 L268.94 503.95 L269.75 500.82 L270.55 501.85 L271.36 503.97 L272.16 503.48 L272.97 502.21 L273.77 500.97 L274.57 503.41 L275.38 504.26 L276.19 503.14 L276.99 504.54 L277.8 503.33 L278.6 500.84 L279.41 504.15 L280.21 503.64 L281.01 501.45 L281.82 504.19 L282.62 504.66 L283.43 504.07 L284.24 502.39 L285.04 501.96 L285.85 502.16 L286.65 505.1 L287.45 504.1 L288.26 504.93 L289.06 502.86 L289.87 503.82 L290.68 502.03 L291.48 502.93 L292.29 502.9 L293.09 504.88 L293.89 503.15 L294.7 505.44 L295.5 505.3 L296.31 501.75 L297.12 505.02 L297.92 505.86 L298.73 502.51 L299.53 505.05 L300.34 504.53 L301.14 503.26 L301.94 501.55 L302.75 505.92 L303.56 502.98 L304.36 505.91 L305.17 502.43 L305.97 504.39 L306.78 505.74 L307.58 504.31 L308.38 503.11 L309.19 505.57 L310 504.43 L310.8 502.56 L311.61 502.39 L312.41 502.84 L313.22 504.08 L314.02 502.99 L314.82 505.64 L315.63 504.55 L316.44 504.9 L317.24 505.77 L318.05 506.22 L318.85 506.18 L319.66 501.83 L320.46 504.67 L321.26 504.96 L322.07 503.38 L322.88 503.07 L323.68 502.27 L324.49 502.22 L325.29 506.28 L326.1 505.39 L326.9 504.73 L327.71 505.13 L328.51 503.96 L329.31 505.47 L330.12 502.37 L330.93 505.08 L331.73 502.41 L332.54 502.27 L333.34 503.54 L334.14 505.39 L334.95 506.42 L335.75 501.99 L336.56 502.34 L337.37 504.4 L338.17 506.44 L338.98 503.13 L339.78 505.35 L340.59 504.68 L341.39 502.12 L342.19 502.42 L343 502.76 L343.81 506.43 L344.61 503.7 L345.42 503.94 L346.22 503.42 L347.02 506.74 L347.83 502.5 L348.63 506.03 L349.44 506.83 L350.25 503.73 L351.05 503.36 L351.86 503.46 L352.66 506.45 L353.47 505.78 L354.27 504.29 L355.08 504.02 L355.88 503.39 L356.69 506.82 L357.49 503.81 L358.3 505.89 L359.1 505.29 L359.91 506.18 L360.71 504.57 L361.51 505.72 L362.32 503.96 L363.12 505.58 L363.93 506.38 L364.74 505.39 L365.54 505.54 L366.35 505.55 L367.15 502.25" fill="none" stroke="#ee5fbc" stroke-width="0.6" stroke-linejoin="round"/>
<path d="M246.4 449.18 L247.21 470.22 L248.01 480.74 L248.81 488.63 L249.62 492.57 L250.43 494.91 L251.23 494.6 L252.03 494.6 L252.84 495.38 L253.65 494.54 L254.45 495.36 L255.25 497.52 L256.06 495.47 L256.87 497.87 L257.67 497.54 L258.48 496.72 L259.28 492.78 L260.08 495.69 L260.89 495.43 L261.69 493.39 L262.5 493.6 L263.31 495.62 L264.11 497.68 L264.92 496.08 L265.72 497.13 L266.52 493.76 L267.33 499.2 L268.13 497.32 L268.94 495.59 L269.75 496.18 L270.55 496.52 L271.36 495.42 L272.16 498.53 L272.97 495.12 L273.77 494.77 L274.57 499.94 L275.38 498.28 L276.19 498.19 L276.99 498.14 L277.8 497.3 L278.6 499.03 L279.41 496.81 L280.21 495.53 L281.01 495.33 L281.82 495.86 L282.62 499.55 L283.43 496.57 L284.24 496.46 L285.04 497.49 L285.85 497.14 L286.65 499.44 L287.45 496.68 L288.26 499.82 L289.06 498.04 L289.87 499.79 L290.68 498.27 L291.48 501.17 L292.29 499.64 L293.09 496.98 L293.89 500.03 L294.7 497.35 L295.5 496.99 L296.31 498.15 L297.12 498.07 L297.92 500.55 L298.73 498.97 L299.53 496.25 L300.34 496.16 L301.14 498.67 L301.94 499.36 L302.75 496.29 L303.56 498.83 L304.36 497.38 L305.17 501.59 L305.97 500.56 L306.78 497.43 L307.58 498.99 L308.38 497.66 L309.19 499.7 L310 496.93 L310.8 502.08 L311.61 500.77 L312.41 498.6 L313.22 499.36 L314.02 498.48 L314.82 499.67 L315.63 498.33 L316.44 497.83 L317.24 500.65 L318.05 502.37 L318.85 501.12 L319.66 500.54 L320.46 496.81 L321.26 497.04 L322.07 498.6 L322.88 501.6 L323.68 497.32 L324.49 501.92 L325.29 501.89 L326.1 498.16 L326.9 500.73 L327.71 500.47 L328.51 501.21 L329.31 502.77 L330.12 502.08 L330.93 502.41 L331.73 502.7 L332.54 502.59 L333.34 501.8 L334.14 499.9 L334.95 500.04 L335.75 498.36 L336.56 498.21 L337.37 499.86 L338.17 499.67 L338.98 502.89 L339.78 502.53 L340.59 498.13 L341.39 497.65 L342.19 501.04 L343 497.99 L343.81 497.94 L344.61 501.67 L345.42 502.68 L346.22 502.34 L347.02 502.55 L347.83 502.76 L348.63 499.91 L349.44 501.7 L350.25 497.91 L351.05 500.01 L351.86 499.93 L352.66 498.71 L353.47 499.55 L354.27 497.42 L355.08 502.68 L355.88 500.32 L356.69 499.95 L357.49 497.66 L358.3 500.79 L359.1 501.14 L359.91 501.44 L360.71 498.32 L361.51 500.38 L362.32 502.41 L363.12 497.61 L363.93 502.55 L364.74 500.57 L365.54 498.69 L366.35 498.48 L367.15 500.74" fill="none" stroke="#cfe9cf" stroke-width="0.5" stroke-linejoin="round"/>
<path d="M246.4 451.81 L247.21 472.85 L248.01 483.37 L248.81 488.63 L249.62 492.57 L250.43 493.51 L251.23 496.06 L252.03 492.85 L252.84 495.35 L253.65 491.81 L254.45 496.25 L255.25 493.09 L256.06 496.67 L256.87 492.16 L257.67 492.81 L258.48 497.37 L259.28 494.35 L260.08 496.96 L260.89 495.37 L261.69 493.52 L262.5 497.65 L263.31 497.39 L264.11 498.32 L264.92 498.48 L265.72 496.06 L266.52 498.09 L267.33 498.38 L268.13 495.18 L268.94 497.62 L269.75 497.43 L270.55 497.53 L271.36 494.69 L272.16 498.07 L272.97 495.97 L273.77 494.39 L274.57 496.57 L275.38 498.31 L276.19 499.22 L276.99 496.32 L277.8 499.15 L278.6 497.91 L279.41 495.58 L280.21 495.84 L281.01 498.82 L281.82 498.37 L282.62 498.88 L283.43 498.92 L284.24 497.79 L285.04 500.05 L285.85 500.11 L286.65 499.98 L287.45 498.98 L288.26 497.84 L289.06 499.14 L289.87 498.55 L290.68 496.61 L291.48 496.61 L292.29 498.74 L293.09 496.1 L293.89 501.27 L294.7 497.95 L295.5 497.4 L296.31 499.05 L297.12 498.97 L297.92 499.98 L298.73 497.09 L299.53 500.44 L300.34 498.33 L301.14 497.49 L301.94 496.87 L302.75 496.33 L303.56 500.78 L304.36 500.87 L305.17 500.2 L305.97 497.05 L306.78 498.5 L307.58 497.65 L308.38 499.41 L309.19 498.9 L310 496.32 L310.8 499.74 L311.61 499.55 L312.41 498.27 L313.22 497.09 L314.02 496.89 L314.82 499.08 L315.63 501.93 L316.44 501.64 L317.24 502.05 L318.05 502.22 L318.85 498.54 L319.66 500.15 L320.46 501.78 L321.26 497.65 L322.07 498.87 L322.88 499.41 L323.68 497.52 L324.49 501.84 L325.29 499.81 L326.1 499.06 L326.9 499.66 L327.71 501.22 L328.51 497.99 L329.31 497.55 L330.12 496.77 L330.93 499.05 L331.73 501.41 L332.54 501.17 L333.34 502.4 L334.14 496.9 L334.95 500.15 L335.75 501.05 L336.56 502.53 L337.37 500.84 L338.17 497.04 L338.98 498.83 L339.78 502.2 L340.59 501.37 L341.39 497.29 L342.19 500.89 L343 498.3 L343.81 498.98 L344.61 502.36 L345.42 497.72 L346.22 497.92 L347.02 497.43 L347.83 502.19 L348.63 501.44 L349.44 500.96 L350.25 498.09 L351.05 499.57 L351.86 497.26 L352.66 498.37 L353.47 502.45 L354.27 499.46 L355.08 502.38 L355.88 498.14 L356.69 502.84 L357.49 501.3 L358.3 499.35 L359.1 498.12 L359.91 502.22 L360.71 498.16 L361.51 502.39 L362.32 500.76 L363.12 498.49 L363.93 500.33 L364.74 499.05 L365.54 500.28 L366.35 499.16 L367.15 498.41" fill="none" stroke="#8fcf98" stroke-width="0.5" stroke-linejoin="round"/>
<path d="M246.4 454.44 L247.21 472.85 L248.01 483.37 L248.81 489.94 L249.62 492.57 L250.43 495.76 L251.23 493.91 L252.03 495.8 L252.84 492.22 L253.65 493.75 L254.45 496.56 L255.25 496.71 L256.06 492.84 L256.87 496.33 L257.67 493.1 L258.48 493.81 L259.28 494.66 L260.08 492.74 L260.89 494.32 L261.69 494.59 L262.5 495.7 L263.31 496.68 L264.11 497.42 L264.92 495.87 L265.72 496.24 L266.52 494.04 L267.33 497.05 L268.13 496.39 L268.94 493.31 L269.75 495.28 L270.55 495.13 L271.36 495.06 L272.16 493.85 L272.97 498 L273.77 494.82 L274.57 498.97 L275.38 497.95 L276.19 496.05 L276.99 497.73 L277.8 496.82 L278.6 498.42 L279.41 498.3 L280.21 497.31 L281.01 496.36 L281.82 495.95 L282.62 497.13 L283.43 497.89 L284.24 494.55 L285.04 495.7 L285.85 497.08 L286.65 497.17 L287.45 499.5 L288.26 499.26 L289.06 499.97 L289.87 495.06 L290.68 495.77 L291.48 500.25 L292.29 496.65 L293.09 498.54 L293.89 496.9 L294.7 498.26 L295.5 498.94 L296.31 500.45 L297.12 499.8 L297.92 498.49 L298.73 496.84 L299.53 500.12 L300.34 498.52 L301.14 495.51 L301.94 500.55 L302.75 498.82 L303.56 496.26 L304.36 497.48 L305.17 495.78 L305.97 497.81 L306.78 497.6 L307.58 500.03 L308.38 499.04 L309.19 498.39 L310 496.42 L310.8 497.62 L311.61 499.36 L312.41 496.44 L313.22 498.01 L314.02 497.4 L314.82 500.61 L315.63 500.12 L316.44 498.21 L317.24 499.21 L318.05 500.23 L318.85 496.41 L319.66 496.19 L320.46 497.86 L321.26 496.16 L322.07 497.64 L322.88 499.2 L323.68 501.15 L324.49 498.6 L325.29 496.65 L326.1 498.61 L326.9 497.65 L327.71 499.77 L328.51 501.81 L329.31 483.37 L330.12 500.01 L330.93 498.74 L331.73 496.4 L332.54 496.55 L333.34 496.77 L334.14 498.32 L334.95 499.04 L335.75 498.99 L336.56 496.8 L337.37 502.08 L338.17 501.95 L338.98 501.71 L339.78 499.56 L340.59 496.47 L341.39 496.98 L342.19 498.97 L343 496.71 L343.81 498.04 L344.61 497.51 L345.42 500.75 L346.22 501.58 L347.02 501 L347.83 497.33 L348.63 497.19 L349.44 498.87 L350.25 501.42 L351.05 500 L351.86 500.76 L352.66 498.96 L353.47 497.94 L354.27 497.39 L355.08 498.86 L355.88 500.56 L356.69 500.31 L357.49 501.15 L358.3 501.73 L359.1 502.16 L359.91 501.69 L360.71 497.11 L361.51 499.48 L362.32 496.84 L363.12 499.48 L363.93 500.83 L364.74 500.84 L365.54 499.74 L366.35 498.75 L367.15 500.76" fill="none" stroke="#3f9f48" stroke-width="0.6" stroke-linejoin="round"/>
<line x1="376.9" y1="395" x2="382" y2="395" stroke="#fbdcee" stroke-width="0.9"/>
<text x="385.1" y="397" font-size="5.6" stroke="#000" stroke-width="0.06">untreated-1</text>
<line x1="376.9" y1="404.09" x2="382" y2="404.09" stroke="#f8b0d8" stroke-width="0.9"/>
<text x="385.1" y="406.09" font-size="5.6" stroke="#000" stroke-width="0.06">untreated-2</text>
<line x1="376.9" y1="413.18" x2="382" y2="413.18" stroke="#ee55b8" stroke-width="0.9"/>
<text x="385.1" y="415.18" font-size="5.6" stroke="#000" stroke-width="0.06">untreated-3</text>
<line x1="376.9" y1="422.27" x2="382" y2="422.27" stroke="#b8f2f6" stroke-width="0.9"/>
<text x="385.1" y="424.27" font-size="5.6" stroke="#000" stroke-width="0.06">scAAV8.TCT-1-1</text>
<line x1="376.9" y1="431.36" x2="382" y2="431.36" stroke="#1fd6ee" stroke-width="0.9"/>
<text x="385.1" y="433.36" font-size="5.6" stroke="#000" stroke-width="0.06">scAAV8.TCT-1-2</text>
<line x1="376.9" y1="440.45" x2="382" y2="440.45" stroke="#3fdcee" stroke-width="0.9"/>
<text x="385.1" y="442.45" font-size="5.6" stroke="#000" stroke-width="0.06">scAAV8.TCT-1-3</text>
<line x1="376.9" y1="449.54" x2="382" y2="449.54" stroke="#dcefdc" stroke-width="0.9"/>
<text x="385.1" y="451.54" font-size="5.6" stroke="#000" stroke-width="0.06">scAAV8.A4T1-1</text>
<line x1="376.9" y1="458.63" x2="382" y2="458.63" stroke="#9ad29f" stroke-width="0.9"/>
<text x="385.1" y="460.63" font-size="5.6" stroke="#000" stroke-width="0.06">scAAV8.A4T1-2</text>
<line x1="376.9" y1="467.72" x2="382" y2="467.72" stroke="#4aa650" stroke-width="0.9"/>
<text x="385.1" y="469.72" font-size="5.6" stroke="#000" stroke-width="0.06">scAAV8.A4T1-3</text>
</svg></div>
</body></html>
